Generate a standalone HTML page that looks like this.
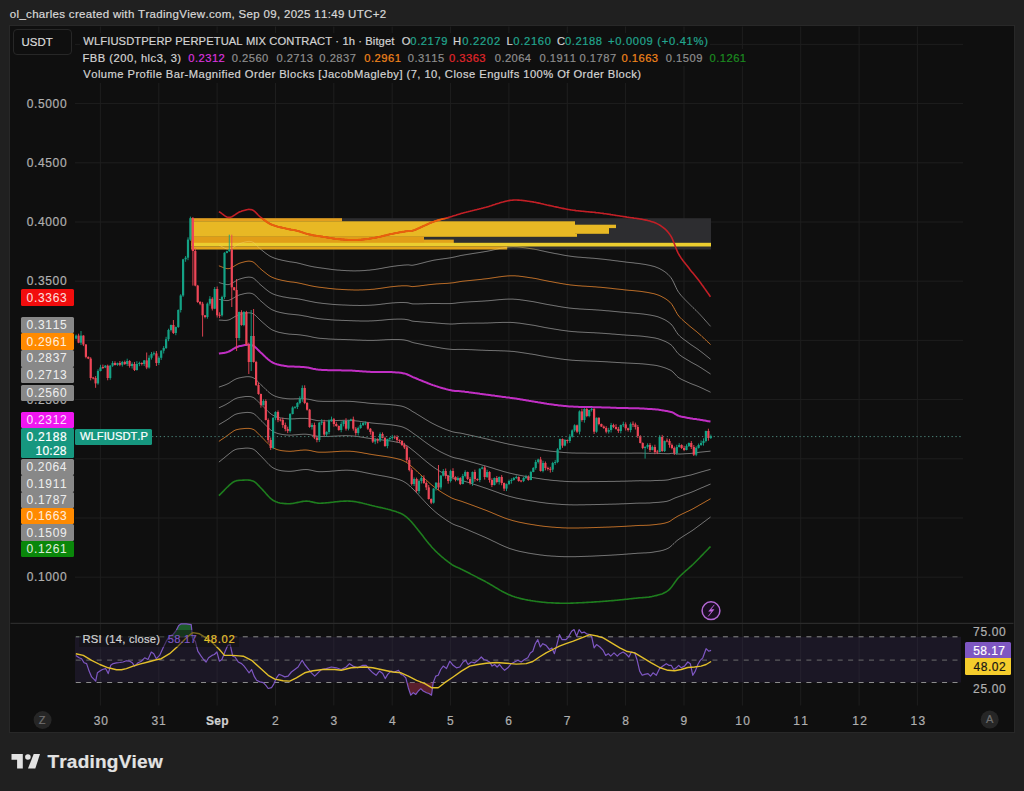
<!DOCTYPE html><html><head><meta charset="utf-8"><style>
*{margin:0;padding:0;box-sizing:border-box}
html,body{width:1024px;height:791px;overflow:hidden;background:#202020;font-family:"Liberation Sans",sans-serif;font-kerning:none}
.t{position:absolute;white-space:pre;-webkit-text-stroke:0.2px currentColor}
.bx{position:absolute}
</style></head><body>
<div class="bx" style="left:9.0px;top:24.8px;width:1006px;height:708.6px;background:#0f0f0f;border:1px solid #282828"></div>

<div class="t" style="left:9.82px;top:9.17px;font-size:11.5px;line-height:11.5px;letter-spacing:0.311px;color:#d8d8d8;">ol_charles created with TradingView.com, Sep 09, 2025 11:49 UTC+2</div>
<svg style="position:absolute;left:0;top:0" width="1024" height="791" viewBox="0 0 1024 791">
<defs><clipPath id="ylw"><rect x="191.3" y="218.2" width="384" height="31.3"/></clipPath></defs>
<line x1="100.4" y1="26.5" x2="100.4" y2="705.5" stroke="#1e1e1e" stroke-width="1"/>
<line x1="158.8" y1="26.5" x2="158.8" y2="705.5" stroke="#1e1e1e" stroke-width="1"/>
<line x1="217.1" y1="26.5" x2="217.1" y2="705.5" stroke="#1e1e1e" stroke-width="1"/>
<line x1="275.5" y1="26.5" x2="275.5" y2="705.5" stroke="#1e1e1e" stroke-width="1"/>
<line x1="333.8" y1="26.5" x2="333.8" y2="705.5" stroke="#1e1e1e" stroke-width="1"/>
<line x1="392.2" y1="26.5" x2="392.2" y2="705.5" stroke="#1e1e1e" stroke-width="1"/>
<line x1="450.6" y1="26.5" x2="450.6" y2="705.5" stroke="#1e1e1e" stroke-width="1"/>
<line x1="508.9" y1="26.5" x2="508.9" y2="705.5" stroke="#1e1e1e" stroke-width="1"/>
<line x1="567.3" y1="26.5" x2="567.3" y2="705.5" stroke="#1e1e1e" stroke-width="1"/>
<line x1="625.6" y1="26.5" x2="625.6" y2="705.5" stroke="#1e1e1e" stroke-width="1"/>
<line x1="684.0" y1="26.5" x2="684.0" y2="705.5" stroke="#1e1e1e" stroke-width="1"/>
<line x1="742.4" y1="26.5" x2="742.4" y2="705.5" stroke="#1e1e1e" stroke-width="1"/>
<line x1="800.7" y1="26.5" x2="800.7" y2="705.5" stroke="#1e1e1e" stroke-width="1"/>
<line x1="859.1" y1="26.5" x2="859.1" y2="705.5" stroke="#1e1e1e" stroke-width="1"/>
<line x1="917.4" y1="26.5" x2="917.4" y2="705.5" stroke="#1e1e1e" stroke-width="1"/>
<line x1="75" y1="44.4" x2="963" y2="44.4" stroke="#1e1e1e" stroke-width="1"/>
<line x1="75" y1="103.6" x2="963" y2="103.6" stroke="#1e1e1e" stroke-width="1"/>
<line x1="75" y1="162.8" x2="963" y2="162.8" stroke="#1e1e1e" stroke-width="1"/>
<line x1="75" y1="222.0" x2="963" y2="222.0" stroke="#1e1e1e" stroke-width="1"/>
<line x1="75" y1="281.2" x2="963" y2="281.2" stroke="#1e1e1e" stroke-width="1"/>
<line x1="75" y1="340.4" x2="963" y2="340.4" stroke="#1e1e1e" stroke-width="1"/>
<line x1="75" y1="399.6" x2="963" y2="399.6" stroke="#1e1e1e" stroke-width="1"/>
<line x1="75" y1="458.8" x2="963" y2="458.8" stroke="#1e1e1e" stroke-width="1"/>
<line x1="75" y1="518.0" x2="963" y2="518.0" stroke="#1e1e1e" stroke-width="1"/>
<line x1="75" y1="577.2" x2="963" y2="577.2" stroke="#1e1e1e" stroke-width="1"/>
<rect x="80" y="33" width="630" height="16" fill="#0f0f0f"/>
<rect x="80" y="49" width="667" height="17" fill="#0f0f0f"/>
<rect x="80" y="66" width="564" height="17" fill="#0f0f0f"/>
<line x1="10.5" y1="623.4" x2="1013.5" y2="623.4" stroke="#2b2b2b" stroke-width="1.2"/>
<rect x="75" y="636.8" width="886" height="45.7" fill="#1b1725"/>
<line x1="100.4" y1="637" x2="100.4" y2="682.3" stroke="#25222e" stroke-width="1"/><line x1="158.8" y1="637" x2="158.8" y2="682.3" stroke="#25222e" stroke-width="1"/><line x1="217.1" y1="637" x2="217.1" y2="682.3" stroke="#25222e" stroke-width="1"/><line x1="275.5" y1="637" x2="275.5" y2="682.3" stroke="#25222e" stroke-width="1"/><line x1="333.8" y1="637" x2="333.8" y2="682.3" stroke="#25222e" stroke-width="1"/><line x1="392.2" y1="637" x2="392.2" y2="682.3" stroke="#25222e" stroke-width="1"/><line x1="450.6" y1="637" x2="450.6" y2="682.3" stroke="#25222e" stroke-width="1"/><line x1="508.9" y1="637" x2="508.9" y2="682.3" stroke="#25222e" stroke-width="1"/><line x1="567.3" y1="637" x2="567.3" y2="682.3" stroke="#25222e" stroke-width="1"/><line x1="625.6" y1="637" x2="625.6" y2="682.3" stroke="#25222e" stroke-width="1"/><line x1="684.0" y1="637" x2="684.0" y2="682.3" stroke="#25222e" stroke-width="1"/><line x1="742.4" y1="637" x2="742.4" y2="682.3" stroke="#25222e" stroke-width="1"/><line x1="800.7" y1="637" x2="800.7" y2="682.3" stroke="#25222e" stroke-width="1"/><line x1="859.1" y1="637" x2="859.1" y2="682.3" stroke="#25222e" stroke-width="1"/><line x1="917.4" y1="637" x2="917.4" y2="682.3" stroke="#25222e" stroke-width="1"/>
<line x1="75.8" y1="636.8" x2="961" y2="636.8" stroke="#8c8c8c" stroke-width="1" stroke-dasharray="5 5.437"/>
<line x1="75.8" y1="660.1" x2="961" y2="660.1" stroke="#6c6c6c" stroke-width="1" stroke-dasharray="5 5.437"/>
<line x1="75.8" y1="682.5" x2="961" y2="682.5" stroke="#8c8c8c" stroke-width="1" stroke-dasharray="5 5.437"/>
<defs><clipPath id="ob"><rect x="70" y="600" width="130" height="36.8"/></clipPath><clipPath id="os"><rect x="400" y="682.5" width="40" height="30"/></clipPath></defs>
<polygon points="75.8,655.4 79.1,657.8 81.6,658.7 84.1,662.8 86.6,663.6 89.1,671.1 91.6,676.9 94.1,679.4 95.7,681.1 97.4,672.8 99.9,671.1 102.4,669.5 105.7,668.6 108.2,673.6 110.7,665.3 113.2,663.6 116.5,662.8 119.8,662.5 123.1,662.0 126.4,660.8 129.8,661.2 132.3,662.8 134.7,666.1 138.1,662.8 141.4,661.2 144.7,657.8 148.0,659.5 151.3,652.0 153.8,653.7 156.3,658.7 159.6,655.4 163.0,647.9 166.3,641.2 169.6,636.3 172.9,634.6 176.2,630.5 178.7,625.5 181.2,623.8 186.2,623.8 191.2,624.6 192.8,639.6 195.3,641.2 197.8,651.2 201.1,656.2 203.6,659.5 206.1,662.0 208.6,657.8 211.9,655.4 214.4,654.5 216.9,652.0 219.4,661.2 221.9,659.5 225.2,651.2 227.7,645.4 230.2,644.6 232.7,656.2 235.0,657.0 238.3,662.0 241.6,663.6 244.1,666.1 246.6,669.5 249.1,672.8 251.6,669.5 254.1,676.1 256.6,680.3 259.9,681.9 263.2,682.7 265.7,685.2 268.2,688.5 271.5,687.7 274.0,683.6 276.5,677.8 279.0,674.4 281.5,675.3 284.8,676.9 288.1,676.1 291.4,672.0 294.8,669.5 298.1,667.0 300.6,662.8 302.2,660.3 304.7,664.5 308.0,668.6 311.4,672.8 314.7,676.1 318.0,672.8 321.3,669.5 326.3,668.6 331.3,667.0 336.3,667.8 341.2,669.5 346.2,667.0 349.5,663.7 352.9,666.1 357.8,667.8 362.8,665.3 366.1,665.3 369.5,669.5 372.8,672.8 376.1,675.3 379.4,671.1 382.7,673.6 385.2,678.6 387.7,674.4 391.0,671.1 394.4,672.0 398.5,670.3 401.0,674.4 403.3,675.3 405.8,677.8 408.3,687.7 410.8,695.2 413.3,692.7 415.8,694.4 418.3,691.0 420.8,688.6 423.2,691.0 426.6,692.7 429.0,693.5 431.5,695.2 433.2,682.7 435.7,676.1 438.2,675.3 440.7,669.5 443.2,666.1 446.5,668.6 449.8,661.2 453.1,665.3 456.4,667.8 459.8,667.0 463.1,662.0 465.6,660.3 468.1,664.5 471.4,662.0 474.7,662.8 478.0,660.3 481.3,657.0 483.8,659.5 486.3,660.3 489.6,662.0 492.1,666.1 494.6,664.5 497.1,667.0 499.6,664.5 502.1,667.8 504.6,670.3 507.9,667.8 511.2,663.7 514.5,662.0 517.9,660.3 521.2,662.0 524.5,659.5 527.8,657.8 530.3,652.9 532.8,651.2 535.3,643.7 537.8,639.6 540.3,647.0 542.8,643.7 546.1,645.4 549.4,649.5 551.9,647.9 554.4,653.7 556.9,644.6 559.4,634.6 561.9,639.6 566.0,639.6 568.3,637.1 571.6,631.3 574.1,629.6 576.6,636.3 579.1,629.6 581.6,632.9 584.1,632.1 586.6,633.8 589.9,634.6 591.6,636.3 594.1,647.9 596.5,644.6 599.9,647.0 603.2,650.4 605.7,655.4 608.2,653.7 610.7,656.2 614.0,652.9 617.3,656.2 619.8,653.7 623.1,652.0 625.6,653.7 628.9,657.0 631.4,652.0 634.7,652.9 637.2,660.3 639.7,671.1 642.2,675.3 644.7,674.4 648.0,673.6 650.5,676.1 653.0,672.8 656.3,675.3 659.6,668.6 662.9,666.1 666.3,663.7 668.8,665.3 671.2,665.3 673.7,669.5 676.2,667.8 678.7,665.3 681.2,667.8 684.5,666.1 687.8,662.0 690.3,663.7 692.8,675.3 695.3,671.1 697.8,664.5 700.3,660.3 702.8,657.8 706.1,648.7 708.6,651.2 711.1,650.4 711.1,636.8 75.8,636.8" fill="#1d5a2b" clip-path="url(#ob)"/>
<polygon points="75.8,655.4 79.1,657.8 81.6,658.7 84.1,662.8 86.6,663.6 89.1,671.1 91.6,676.9 94.1,679.4 95.7,681.1 97.4,672.8 99.9,671.1 102.4,669.5 105.7,668.6 108.2,673.6 110.7,665.3 113.2,663.6 116.5,662.8 119.8,662.5 123.1,662.0 126.4,660.8 129.8,661.2 132.3,662.8 134.7,666.1 138.1,662.8 141.4,661.2 144.7,657.8 148.0,659.5 151.3,652.0 153.8,653.7 156.3,658.7 159.6,655.4 163.0,647.9 166.3,641.2 169.6,636.3 172.9,634.6 176.2,630.5 178.7,625.5 181.2,623.8 186.2,623.8 191.2,624.6 192.8,639.6 195.3,641.2 197.8,651.2 201.1,656.2 203.6,659.5 206.1,662.0 208.6,657.8 211.9,655.4 214.4,654.5 216.9,652.0 219.4,661.2 221.9,659.5 225.2,651.2 227.7,645.4 230.2,644.6 232.7,656.2 235.0,657.0 238.3,662.0 241.6,663.6 244.1,666.1 246.6,669.5 249.1,672.8 251.6,669.5 254.1,676.1 256.6,680.3 259.9,681.9 263.2,682.7 265.7,685.2 268.2,688.5 271.5,687.7 274.0,683.6 276.5,677.8 279.0,674.4 281.5,675.3 284.8,676.9 288.1,676.1 291.4,672.0 294.8,669.5 298.1,667.0 300.6,662.8 302.2,660.3 304.7,664.5 308.0,668.6 311.4,672.8 314.7,676.1 318.0,672.8 321.3,669.5 326.3,668.6 331.3,667.0 336.3,667.8 341.2,669.5 346.2,667.0 349.5,663.7 352.9,666.1 357.8,667.8 362.8,665.3 366.1,665.3 369.5,669.5 372.8,672.8 376.1,675.3 379.4,671.1 382.7,673.6 385.2,678.6 387.7,674.4 391.0,671.1 394.4,672.0 398.5,670.3 401.0,674.4 403.3,675.3 405.8,677.8 408.3,687.7 410.8,695.2 413.3,692.7 415.8,694.4 418.3,691.0 420.8,688.6 423.2,691.0 426.6,692.7 429.0,693.5 431.5,695.2 433.2,682.7 435.7,676.1 438.2,675.3 440.7,669.5 443.2,666.1 446.5,668.6 449.8,661.2 453.1,665.3 456.4,667.8 459.8,667.0 463.1,662.0 465.6,660.3 468.1,664.5 471.4,662.0 474.7,662.8 478.0,660.3 481.3,657.0 483.8,659.5 486.3,660.3 489.6,662.0 492.1,666.1 494.6,664.5 497.1,667.0 499.6,664.5 502.1,667.8 504.6,670.3 507.9,667.8 511.2,663.7 514.5,662.0 517.9,660.3 521.2,662.0 524.5,659.5 527.8,657.8 530.3,652.9 532.8,651.2 535.3,643.7 537.8,639.6 540.3,647.0 542.8,643.7 546.1,645.4 549.4,649.5 551.9,647.9 554.4,653.7 556.9,644.6 559.4,634.6 561.9,639.6 566.0,639.6 568.3,637.1 571.6,631.3 574.1,629.6 576.6,636.3 579.1,629.6 581.6,632.9 584.1,632.1 586.6,633.8 589.9,634.6 591.6,636.3 594.1,647.9 596.5,644.6 599.9,647.0 603.2,650.4 605.7,655.4 608.2,653.7 610.7,656.2 614.0,652.9 617.3,656.2 619.8,653.7 623.1,652.0 625.6,653.7 628.9,657.0 631.4,652.0 634.7,652.9 637.2,660.3 639.7,671.1 642.2,675.3 644.7,674.4 648.0,673.6 650.5,676.1 653.0,672.8 656.3,675.3 659.6,668.6 662.9,666.1 666.3,663.7 668.8,665.3 671.2,665.3 673.7,669.5 676.2,667.8 678.7,665.3 681.2,667.8 684.5,666.1 687.8,662.0 690.3,663.7 692.8,675.3 695.3,671.1 697.8,664.5 700.3,660.3 702.8,657.8 706.1,648.7 708.6,651.2 711.1,650.4 711.1,682.5 75.8,682.5" fill="#5a1f2c" clip-path="url(#os)"/>
<polyline points="75.8,655.4 79.1,657.8 81.6,658.7 84.1,662.8 86.6,663.6 89.1,671.1 91.6,676.9 94.1,679.4 95.7,681.1 97.4,672.8 99.9,671.1 102.4,669.5 105.7,668.6 108.2,673.6 110.7,665.3 113.2,663.6 116.5,662.8 119.8,662.5 123.1,662.0 126.4,660.8 129.8,661.2 132.3,662.8 134.7,666.1 138.1,662.8 141.4,661.2 144.7,657.8 148.0,659.5 151.3,652.0 153.8,653.7 156.3,658.7 159.6,655.4 163.0,647.9 166.3,641.2 169.6,636.3 172.9,634.6 176.2,630.5 178.7,625.5 181.2,623.8 186.2,623.8 191.2,624.6 192.8,639.6 195.3,641.2 197.8,651.2 201.1,656.2 203.6,659.5 206.1,662.0 208.6,657.8 211.9,655.4 214.4,654.5 216.9,652.0 219.4,661.2 221.9,659.5 225.2,651.2 227.7,645.4 230.2,644.6 232.7,656.2 235.0,657.0 238.3,662.0 241.6,663.6 244.1,666.1 246.6,669.5 249.1,672.8 251.6,669.5 254.1,676.1 256.6,680.3 259.9,681.9 263.2,682.7 265.7,685.2 268.2,688.5 271.5,687.7 274.0,683.6 276.5,677.8 279.0,674.4 281.5,675.3 284.8,676.9 288.1,676.1 291.4,672.0 294.8,669.5 298.1,667.0 300.6,662.8 302.2,660.3 304.7,664.5 308.0,668.6 311.4,672.8 314.7,676.1 318.0,672.8 321.3,669.5 326.3,668.6 331.3,667.0 336.3,667.8 341.2,669.5 346.2,667.0 349.5,663.7 352.9,666.1 357.8,667.8 362.8,665.3 366.1,665.3 369.5,669.5 372.8,672.8 376.1,675.3 379.4,671.1 382.7,673.6 385.2,678.6 387.7,674.4 391.0,671.1 394.4,672.0 398.5,670.3 401.0,674.4 403.3,675.3 405.8,677.8 408.3,687.7 410.8,695.2 413.3,692.7 415.8,694.4 418.3,691.0 420.8,688.6 423.2,691.0 426.6,692.7 429.0,693.5 431.5,695.2 433.2,682.7 435.7,676.1 438.2,675.3 440.7,669.5 443.2,666.1 446.5,668.6 449.8,661.2 453.1,665.3 456.4,667.8 459.8,667.0 463.1,662.0 465.6,660.3 468.1,664.5 471.4,662.0 474.7,662.8 478.0,660.3 481.3,657.0 483.8,659.5 486.3,660.3 489.6,662.0 492.1,666.1 494.6,664.5 497.1,667.0 499.6,664.5 502.1,667.8 504.6,670.3 507.9,667.8 511.2,663.7 514.5,662.0 517.9,660.3 521.2,662.0 524.5,659.5 527.8,657.8 530.3,652.9 532.8,651.2 535.3,643.7 537.8,639.6 540.3,647.0 542.8,643.7 546.1,645.4 549.4,649.5 551.9,647.9 554.4,653.7 556.9,644.6 559.4,634.6 561.9,639.6 566.0,639.6 568.3,637.1 571.6,631.3 574.1,629.6 576.6,636.3 579.1,629.6 581.6,632.9 584.1,632.1 586.6,633.8 589.9,634.6 591.6,636.3 594.1,647.9 596.5,644.6 599.9,647.0 603.2,650.4 605.7,655.4 608.2,653.7 610.7,656.2 614.0,652.9 617.3,656.2 619.8,653.7 623.1,652.0 625.6,653.7 628.9,657.0 631.4,652.0 634.7,652.9 637.2,660.3 639.7,671.1 642.2,675.3 644.7,674.4 648.0,673.6 650.5,676.1 653.0,672.8 656.3,675.3 659.6,668.6 662.9,666.1 666.3,663.7 668.8,665.3 671.2,665.3 673.7,669.5 676.2,667.8 678.7,665.3 681.2,667.8 684.5,666.1 687.8,662.0 690.3,663.7 692.8,675.3 695.3,671.1 697.8,664.5 700.3,660.3 702.8,657.8 706.1,648.7 708.6,651.2 711.1,650.4" fill="none" stroke="#7e57c2" stroke-width="1.2" stroke-linejoin="round"/>
<polyline points="75.8,653.7 83.3,655.4 91.6,660.3 99.9,664.5 108.2,667.8 116.5,669.8 121.5,669.8 126.4,668.6 133.1,666.1 139.7,664.1 148.0,662.0 156.3,659.8 161.3,658.7 169.6,653.7 177.9,646.2 186.2,637.9 192.8,632.6 199.5,633.8 206.1,637.9 212.8,642.9 219.4,649.5 224.4,655.4 232.7,655.4 239.3,655.9 243.3,656.2 251.6,660.3 259.9,667.8 268.2,675.3 274.8,679.1 283.1,680.7 289.8,681.1 296.4,677.8 304.7,672.8 313.0,670.8 323.0,669.5 334.6,669.5 341.2,670.3 351.2,667.8 364.5,667.0 372.8,667.8 384.4,670.3 392.7,672.0 401.0,672.8 408.3,676.1 416.6,680.3 424.9,683.6 431.5,687.7 438.2,687.7 444.8,682.7 453.1,677.0 461.4,671.1 469.7,666.1 478.0,664.5 486.3,663.2 496.3,662.5 506.2,663.2 516.2,664.1 526.2,663.6 532.8,661.5 539.4,657.0 546.1,652.9 552.7,649.5 559.4,646.2 566.0,643.7 573.3,641.2 581.6,637.9 589.9,634.6 598.2,636.3 603.2,637.9 611.5,642.9 619.8,647.9 626.4,651.2 634.7,652.9 643.0,657.8 651.3,662.8 659.6,667.5 667.9,670.3 674.6,670.8 681.2,669.5 687.8,667.5 694.5,667.0 701.1,666.1 706.1,664.5 711.1,661.5" fill="none" stroke="#e2bf2a" stroke-width="1.4" stroke-linejoin="round"/>
<rect x="79" y="630" width="160" height="17" fill="#0f0f0f" opacity="0.5"/>
<polyline points="218.9,245.1 219.9,245.5 220.9,246.1 221.9,246.6 222.9,247.2 223.9,247.7 224.9,248.2 225.9,248.6 226.9,248.9 227.9,249.0 228.9,249.0 229.9,248.9 230.9,248.5 231.9,248.1 232.9,247.5 233.9,246.9 234.9,246.3 235.9,245.7 236.9,245.0 237.9,244.5 238.9,243.9 239.9,243.5 240.9,243.2 241.9,242.9 242.9,242.6 243.9,242.3 244.9,242.0 245.9,241.8 246.9,241.6 247.9,241.4 248.9,241.4 249.9,241.4 250.9,241.5 251.9,241.8 252.9,242.2 253.9,242.8 254.9,243.6 255.9,244.5 256.9,245.5 257.9,246.6 258.9,247.6 259.9,248.6 260.9,249.4 261.9,250.2 262.9,251.0 263.9,251.8 264.9,252.6 265.9,253.4 266.9,254.1 267.9,254.8 268.9,255.5 269.9,256.1 270.9,256.6 271.9,257.1 272.9,257.5 273.9,257.9 274.9,258.3 275.9,258.6 276.9,258.9 277.9,259.2 278.9,259.5 279.9,259.7 280.9,259.9 281.9,260.2 282.9,260.4 283.9,260.6 284.9,260.8 285.9,261.0 286.9,261.2 287.9,261.4 288.9,261.6 289.9,261.8 290.9,261.9 291.9,262.0 292.9,262.2 293.9,262.3 294.9,262.5 295.9,262.6 296.9,262.8 297.9,263.1 298.9,263.3 299.9,263.5 300.9,263.8 301.9,264.1 302.9,264.3 303.9,264.6 304.9,264.9 305.9,265.1 306.9,265.4 307.9,265.6 308.9,265.9 309.9,266.1 310.9,266.3 311.9,266.5 312.9,266.7 313.9,266.9 314.9,267.1 315.9,267.2 316.9,267.4 317.9,267.5 318.9,267.7 319.9,267.8 320.9,267.9 321.9,268.1 322.9,268.2 323.9,268.3 324.9,268.5 325.9,268.6 326.9,268.8 327.9,268.9 328.9,269.0 329.9,269.2 330.9,269.3 331.9,269.5 332.9,269.6 333.9,269.7 334.9,269.8 335.9,269.9 336.9,270.0 337.9,270.1 338.9,270.1 339.9,270.2 340.9,270.3 341.9,270.4 342.9,270.4 343.9,270.5 344.9,270.5 345.9,270.6 346.9,270.7 347.9,270.7 348.9,270.7 349.9,270.8 350.9,270.8 351.9,270.8 352.9,270.9 353.9,270.9 354.9,270.9 355.9,270.9 356.9,270.8 357.9,270.8 358.9,270.8 359.9,270.8 360.9,270.7 361.9,270.7 362.9,270.6 363.9,270.6 364.9,270.5 365.9,270.4 366.9,270.3 367.9,270.2 368.9,270.2 369.9,270.1 370.9,269.9 371.9,269.8 372.9,269.7 373.9,269.6 374.9,269.5 375.9,269.3 376.9,269.1 377.9,269.0 378.9,268.8 379.9,268.6 380.9,268.5 381.9,268.3 382.9,268.1 383.9,267.9 384.9,267.7 385.9,267.5 386.9,267.4 387.9,267.2 388.9,267.0 389.9,266.8 390.9,266.7 391.9,266.5 392.9,266.4 393.9,266.2 394.9,266.1 395.9,266.0 396.9,265.8 397.9,265.7 398.9,265.6 399.9,265.5 400.9,265.4 401.9,265.3 402.9,265.2 403.9,265.1 404.9,265.0 405.9,265.0 406.9,264.9 407.9,264.9 408.9,264.9 409.9,265.1 410.9,265.2 411.9,265.3 412.9,265.2 413.9,265.0 414.9,264.8 415.9,264.6 416.9,264.4 417.9,264.1 418.9,263.9 419.9,263.6 420.9,263.4 421.9,263.1 422.9,262.9 423.9,262.6 424.9,262.3 425.9,262.1 426.9,261.8 427.9,261.6 428.9,261.3 429.9,261.1 430.9,260.9 431.9,260.6 432.9,260.4 433.9,260.2 434.9,260.0 435.9,259.9 436.9,259.7 437.9,259.6 438.9,259.4 439.9,259.3 440.9,259.1 441.9,259.0 442.9,258.9 443.9,258.7 444.9,258.6 445.9,258.5 446.9,258.3 447.9,258.2 448.9,258.0 449.9,257.9 450.9,257.7 451.9,257.5 452.9,257.3 453.9,257.1 454.9,256.9 455.9,256.7 456.9,256.4 457.9,256.2 458.9,256.0 459.9,255.7 460.9,255.5 461.9,255.3 462.9,255.2 463.9,255.0 464.9,254.8 465.9,254.7 466.9,254.5 467.9,254.3 468.9,254.2 469.9,254.0 470.9,253.9 471.9,253.7 472.9,253.5 473.9,253.4 474.9,253.2 475.9,253.1 476.9,252.9 477.9,252.8 478.9,252.6 479.9,252.5 480.9,252.3 481.9,252.1 482.9,252.0 483.9,251.8 484.9,251.6 485.9,251.5 486.9,251.3 487.9,251.1 488.9,250.9 489.9,250.7 490.9,250.5 491.9,250.3 492.9,250.0 493.9,249.8 494.9,249.6 495.9,249.4 496.9,249.2 497.9,249.0 498.9,248.7 499.9,248.5 500.9,248.3 501.9,248.1 502.9,248.0 503.9,247.8 504.9,247.6 505.9,247.5 506.9,247.3 507.9,247.2 508.9,247.1 509.9,247.0 510.9,246.9 511.9,246.9 512.9,246.8 513.9,246.8 514.9,246.9 515.9,246.9 516.9,246.9 517.9,247.0 518.9,247.1 519.9,247.2 520.9,247.3 521.9,247.4 522.9,247.5 523.9,247.7 524.9,247.8 525.9,247.9 526.9,248.1 527.9,248.2 528.9,248.4 529.9,248.5 530.9,248.7 531.9,248.8 532.9,249.0 533.9,249.1 534.9,249.3 535.9,249.5 536.9,249.7 537.9,249.9 538.9,250.1 539.9,250.4 540.9,250.6 541.9,250.8 542.9,251.0 543.9,251.2 544.9,251.5 545.9,251.7 546.9,251.9 547.9,252.1 548.9,252.3 549.9,252.5 550.9,252.7 551.9,252.9 552.9,253.1 553.9,253.3 554.9,253.5 555.9,253.7 556.9,253.8 557.9,254.0 558.9,254.2 559.9,254.4 560.9,254.6 561.9,254.8 562.9,255.0 563.9,255.2 564.9,255.4 565.9,255.5 566.9,255.7 567.9,255.8 568.9,256.0 569.9,256.1 570.9,256.3 571.9,256.4 572.9,256.5 573.9,256.7 574.9,256.8 575.9,256.9 576.9,257.0 577.9,257.1 578.9,257.2 579.9,257.2 580.9,257.3 581.9,257.4 582.9,257.5 583.9,257.6 584.9,257.6 585.9,257.7 586.9,257.8 587.9,257.9 588.9,257.9 589.9,258.0 590.9,258.1 591.9,258.2 592.9,258.2 593.9,258.3 594.9,258.4 595.9,258.5 596.9,258.6 597.9,258.7 598.9,258.8 599.9,258.9 600.9,259.0 601.9,259.1 602.9,259.2 603.9,259.3 604.9,259.4 605.9,259.5 606.9,259.7 607.9,259.8 608.9,259.9 609.9,260.0 610.9,260.1 611.9,260.3 612.9,260.4 613.9,260.5 614.9,260.7 615.9,260.8 616.9,260.9 617.9,261.0 618.9,261.2 619.9,261.3 620.9,261.4 621.9,261.5 622.9,261.7 623.9,261.8 624.9,261.9 625.9,262.1 626.9,262.2 627.9,262.3 628.9,262.4 629.9,262.5 630.9,262.6 631.9,262.7 632.9,262.8 633.9,262.9 634.9,263.1 635.9,263.2 636.9,263.3 637.9,263.4 638.9,263.5 639.9,263.7 640.9,263.8 641.9,264.0 642.9,264.1 643.9,264.3 644.9,264.4 645.9,264.6 646.9,264.8 647.9,265.0 648.9,265.2 649.9,265.4 650.9,265.7 651.9,265.9 652.9,266.2 653.9,266.4 654.9,266.7 655.9,267.1 656.9,267.5 657.9,267.9 658.9,268.3 659.9,268.8 660.9,269.4 661.9,269.9 662.9,270.5 663.9,271.2 664.9,271.8 665.9,272.6 666.9,273.4 667.9,274.3 668.9,275.3 669.9,276.4 670.9,277.6 671.9,279.1 672.9,280.9 673.9,282.9 674.9,285.1 675.9,287.2 676.9,289.3 677.9,291.1 678.9,292.6 679.9,293.9 680.9,295.2 681.9,296.3 682.9,297.4 683.9,298.4 684.9,299.5 685.9,300.5 686.9,301.5 687.9,302.5 688.9,303.5 689.9,304.5 690.9,305.5 691.9,306.5 692.9,307.5 693.9,308.4 694.9,309.4 695.9,310.3 696.9,311.3 697.9,312.3 698.9,313.4 699.9,314.4 700.9,315.5 701.9,316.6 702.9,317.7 703.9,318.8 704.9,320.0 705.9,321.1 706.9,322.2 707.9,323.3 708.9,324.5 709.9,325.6 710.5,326.3" fill="none" stroke="#7d7d7d" stroke-width="1.0" stroke-linejoin="round"/>
<polyline points="218.9,265.8 219.9,266.2 220.9,266.5 221.9,267.0 222.9,267.4 223.9,267.8 224.9,268.1 225.9,268.4 226.9,268.6 227.9,268.7 228.9,268.6 229.9,268.4 230.9,268.0 231.9,267.5 232.9,267.0 233.9,266.4 234.9,265.7 235.9,265.1 236.9,264.5 237.9,264.0 238.9,263.5 239.9,263.1 240.9,262.8 241.9,262.5 242.9,262.2 243.9,262.0 244.9,261.7 245.9,261.5 246.9,261.3 247.9,261.2 248.9,261.1 249.9,261.2 250.9,261.3 251.9,261.5 252.9,261.9 253.9,262.5 254.9,263.3 255.9,264.2 256.9,265.2 257.9,266.3 258.9,267.3 259.9,268.3 260.9,269.1 261.9,270.0 262.9,270.8 263.9,271.6 264.9,272.4 265.9,273.2 266.9,274.0 267.9,274.8 268.9,275.5 269.9,276.1 270.9,276.7 271.9,277.2 272.9,277.6 273.9,278.0 274.9,278.4 275.9,278.7 276.9,279.1 277.9,279.3 278.9,279.6 279.9,279.8 280.9,280.1 281.9,280.3 282.9,280.5 283.9,280.7 284.9,280.9 285.9,281.1 286.9,281.3 287.9,281.5 288.9,281.6 289.9,281.8 290.9,281.9 291.9,282.0 292.9,282.1 293.9,282.2 294.9,282.4 295.9,282.5 296.9,282.7 297.9,282.9 298.9,283.1 299.9,283.3 300.9,283.5 301.9,283.7 302.9,284.0 303.9,284.2 304.9,284.4 305.9,284.7 306.9,284.9 307.9,285.1 308.9,285.4 309.9,285.6 310.9,285.8 311.9,286.0 312.9,286.2 313.9,286.4 314.9,286.6 315.9,286.7 316.9,286.9 317.9,287.0 318.9,287.2 319.9,287.3 320.9,287.4 321.9,287.5 322.9,287.6 323.9,287.8 324.9,287.9 325.9,288.0 326.9,288.1 327.9,288.3 328.9,288.4 329.9,288.5 330.9,288.6 331.9,288.7 332.9,288.8 333.9,288.9 334.9,289.0 335.9,289.1 336.9,289.2 337.9,289.2 338.9,289.3 339.9,289.3 340.9,289.4 341.9,289.5 342.9,289.5 343.9,289.6 344.9,289.6 345.9,289.7 346.9,289.7 347.9,289.8 348.9,289.8 349.9,289.8 350.9,289.9 351.9,289.9 352.9,289.9 353.9,290.0 354.9,290.0 355.9,290.0 356.9,290.0 357.9,290.0 358.9,290.0 359.9,289.9 360.9,289.9 361.9,289.9 362.9,289.9 363.9,289.8 364.9,289.8 365.9,289.7 366.9,289.7 367.9,289.6 368.9,289.6 369.9,289.5 370.9,289.4 371.9,289.3 372.9,289.3 373.9,289.2 374.9,289.1 375.9,288.9 376.9,288.8 377.9,288.7 378.9,288.5 379.9,288.4 380.9,288.3 381.9,288.1 382.9,288.0 383.9,287.8 384.9,287.7 385.9,287.5 386.9,287.4 387.9,287.2 388.9,287.1 389.9,286.9 390.9,286.8 391.9,286.7 392.9,286.6 393.9,286.5 394.9,286.4 395.9,286.3 396.9,286.2 397.9,286.1 398.9,286.0 399.9,286.0 400.9,285.9 401.9,285.8 402.9,285.8 403.9,285.8 404.9,285.8 405.9,285.8 406.9,285.8 407.9,285.9 408.9,286.0 409.9,286.2 410.9,286.4 411.9,286.6 412.9,286.6 413.9,286.5 414.9,286.4 415.9,286.3 416.9,286.2 417.9,286.1 418.9,286.0 419.9,285.9 420.9,285.7 421.9,285.6 422.9,285.5 423.9,285.4 424.9,285.2 425.9,285.1 426.9,285.0 427.9,284.8 428.9,284.7 429.9,284.6 430.9,284.5 431.9,284.4 432.9,284.3 433.9,284.2 434.9,284.1 435.9,284.0 436.9,283.9 437.9,283.9 438.9,283.8 439.9,283.7 440.9,283.7 441.9,283.6 442.9,283.6 443.9,283.5 444.9,283.5 445.9,283.4 446.9,283.4 447.9,283.3 448.9,283.2 449.9,283.1 450.9,283.0 451.9,282.9 452.9,282.8 453.9,282.7 454.9,282.5 455.9,282.3 456.9,282.1 457.9,282.0 458.9,281.8 459.9,281.6 460.9,281.5 461.9,281.3 462.9,281.2 463.9,281.1 464.9,281.0 465.9,280.9 466.9,280.8 467.9,280.7 468.9,280.6 469.9,280.5 470.9,280.4 471.9,280.3 472.9,280.2 473.9,280.1 474.9,280.0 475.9,279.9 476.9,279.8 477.9,279.7 478.9,279.6 479.9,279.5 480.9,279.4 481.9,279.3 482.9,279.1 483.9,279.0 484.9,278.9 485.9,278.8 486.9,278.7 487.9,278.6 488.9,278.4 489.9,278.3 490.9,278.1 491.9,278.0 492.9,277.8 493.9,277.7 494.9,277.5 495.9,277.4 496.9,277.2 497.9,277.1 498.9,276.9 499.9,276.8 500.9,276.7 501.9,276.5 502.9,276.4 503.9,276.3 504.9,276.2 505.9,276.1 506.9,276.0 507.9,275.9 508.9,275.9 509.9,275.8 510.9,275.8 511.9,275.8 512.9,275.8 513.9,275.8 514.9,275.8 515.9,275.9 516.9,276.0 517.9,276.0 518.9,276.1 519.9,276.3 520.9,276.4 521.9,276.5 522.9,276.6 523.9,276.8 524.9,276.9 525.9,277.1 526.9,277.2 527.9,277.4 528.9,277.5 529.9,277.7 530.9,277.8 531.9,277.9 532.9,278.1 533.9,278.3 534.9,278.4 535.9,278.6 536.9,278.8 537.9,279.0 538.9,279.2 539.9,279.5 540.9,279.7 541.9,279.9 542.9,280.1 543.9,280.3 544.9,280.5 545.9,280.7 546.9,280.9 547.9,281.1 548.9,281.3 549.9,281.5 550.9,281.6 551.9,281.8 552.9,282.0 553.9,282.2 554.9,282.4 555.9,282.6 556.9,282.8 557.9,282.9 558.9,283.1 559.9,283.3 560.9,283.5 561.9,283.6 562.9,283.8 563.9,284.0 564.9,284.1 565.9,284.3 566.9,284.5 567.9,284.6 568.9,284.7 569.9,284.9 570.9,285.0 571.9,285.1 572.9,285.2 573.9,285.3 574.9,285.4 575.9,285.5 576.9,285.6 577.9,285.7 578.9,285.8 579.9,285.8 580.9,285.9 581.9,286.0 582.9,286.1 583.9,286.1 584.9,286.2 585.9,286.2 586.9,286.3 587.9,286.4 588.9,286.4 589.9,286.5 590.9,286.6 591.9,286.6 592.9,286.7 593.9,286.8 594.9,286.8 595.9,286.9 596.9,287.0 597.9,287.1 598.9,287.2 599.9,287.2 600.9,287.3 601.9,287.4 602.9,287.5 603.9,287.6 604.9,287.7 605.9,287.8 606.9,287.9 607.9,288.0 608.9,288.1 609.9,288.2 610.9,288.3 611.9,288.4 612.9,288.6 613.9,288.7 614.9,288.8 615.9,288.9 616.9,289.0 617.9,289.1 618.9,289.2 619.9,289.3 620.9,289.4 621.9,289.5 622.9,289.6 623.9,289.8 624.9,289.9 625.9,290.0 626.9,290.1 627.9,290.2 628.9,290.3 629.9,290.4 630.9,290.4 631.9,290.5 632.9,290.6 633.9,290.7 634.9,290.8 635.9,290.9 636.9,291.0 637.9,291.1 638.9,291.2 639.9,291.3 640.9,291.4 641.9,291.6 642.9,291.7 643.9,291.9 644.9,292.0 645.9,292.2 646.9,292.3 647.9,292.5 648.9,292.7 649.9,292.9 650.9,293.1 651.9,293.3 652.9,293.5 653.9,293.7 654.9,294.0 655.9,294.3 656.9,294.6 657.9,295.0 658.9,295.3 659.9,295.8 660.9,296.2 661.9,296.7 662.9,297.3 663.9,297.8 664.9,298.4 665.9,299.0 666.9,299.7 667.9,300.5 668.9,301.3 669.9,302.2 670.9,303.2 671.9,304.5 672.9,306.1 673.9,307.8 674.9,309.7 675.9,311.5 676.9,313.3 677.9,314.9 678.9,316.1 679.9,317.3 680.9,318.3 681.9,319.3 682.9,320.2 683.9,321.1 684.9,322.0 685.9,322.8 686.9,323.7 687.9,324.5 688.9,325.4 689.9,326.3 690.9,327.1 691.9,327.9 692.9,328.7 693.9,329.5 694.9,330.3 695.9,331.1 696.9,331.9 697.9,332.8 698.9,333.7 699.9,334.5 700.9,335.4 701.9,336.4 702.9,337.3 703.9,338.2 704.9,339.2 705.9,340.1 706.9,341.1 707.9,342.0 708.9,343.0 709.9,343.9 710.5,344.5" fill="none" stroke="#c7742a" stroke-width="1.0" stroke-linejoin="round"/>
<polyline points="218.9,282.6 219.9,282.8 220.9,283.1 221.9,283.4 222.9,283.7 223.9,284.0 224.9,284.3 225.9,284.5 226.9,284.6 227.9,284.6 228.9,284.5 229.9,284.2 230.9,283.8 231.9,283.3 232.9,282.7 233.9,282.1 234.9,281.5 235.9,280.9 236.9,280.3 237.9,279.8 238.9,279.3 239.9,279.0 240.9,278.7 241.9,278.4 242.9,278.1 243.9,277.9 244.9,277.6 245.9,277.4 246.9,277.3 247.9,277.2 248.9,277.1 249.9,277.2 250.9,277.3 251.9,277.5 252.9,277.9 253.9,278.5 254.9,279.3 255.9,280.2 256.9,281.2 257.9,282.2 258.9,283.3 259.9,284.2 260.9,285.1 261.9,285.9 262.9,286.8 263.9,287.6 264.9,288.5 265.9,289.3 266.9,290.1 267.9,290.9 268.9,291.6 269.9,292.3 270.9,292.9 271.9,293.4 272.9,293.9 273.9,294.3 274.9,294.7 275.9,295.0 276.9,295.3 277.9,295.6 278.9,295.9 279.9,296.1 280.9,296.3 281.9,296.6 282.9,296.8 283.9,297.0 284.9,297.1 285.9,297.3 286.9,297.5 287.9,297.7 288.9,297.8 289.9,298.0 290.9,298.1 291.9,298.2 292.9,298.3 293.9,298.4 294.9,298.5 295.9,298.6 296.9,298.7 297.9,298.9 298.9,299.0 299.9,299.2 300.9,299.4 301.9,299.6 302.9,299.8 303.9,300.0 304.9,300.2 305.9,300.5 306.9,300.7 307.9,300.9 308.9,301.1 309.9,301.3 310.9,301.5 311.9,301.7 312.9,301.9 313.9,302.1 314.9,302.3 315.9,302.5 316.9,302.6 317.9,302.8 318.9,302.9 319.9,303.0 320.9,303.1 321.9,303.3 322.9,303.4 323.9,303.5 324.9,303.6 325.9,303.7 326.9,303.8 327.9,303.9 328.9,304.0 329.9,304.1 330.9,304.2 331.9,304.3 332.9,304.4 333.9,304.5 334.9,304.5 335.9,304.6 336.9,304.7 337.9,304.7 338.9,304.8 339.9,304.8 340.9,304.9 341.9,304.9 342.9,305.0 343.9,305.0 344.9,305.0 345.9,305.1 346.9,305.1 347.9,305.2 348.9,305.2 349.9,305.3 350.9,305.3 351.9,305.3 352.9,305.4 353.9,305.4 354.9,305.4 355.9,305.4 356.9,305.4 357.9,305.4 358.9,305.5 359.9,305.5 360.9,305.5 361.9,305.4 362.9,305.4 363.9,305.4 364.9,305.4 365.9,305.4 366.9,305.3 367.9,305.3 368.9,305.3 369.9,305.2 370.9,305.2 371.9,305.1 372.9,305.0 373.9,305.0 374.9,304.9 375.9,304.8 376.9,304.7 377.9,304.6 378.9,304.5 379.9,304.4 380.9,304.3 381.9,304.1 382.9,304.0 383.9,303.9 384.9,303.8 385.9,303.6 386.9,303.5 387.9,303.4 388.9,303.3 389.9,303.2 390.9,303.1 391.9,303.0 392.9,302.9 393.9,302.9 394.9,302.8 395.9,302.7 396.9,302.7 397.9,302.6 398.9,302.6 399.9,302.5 400.9,302.5 401.9,302.5 402.9,302.5 403.9,302.5 404.9,302.6 405.9,302.6 406.9,302.7 407.9,302.8 408.9,303.0 409.9,303.3 410.9,303.5 411.9,303.8 412.9,303.9 413.9,303.9 414.9,303.9 415.9,303.9 416.9,303.9 417.9,303.9 418.9,303.9 419.9,303.8 420.9,303.8 421.9,303.8 422.9,303.8 423.9,303.7 424.9,303.7 425.9,303.7 426.9,303.6 427.9,303.6 428.9,303.6 429.9,303.6 430.9,303.5 431.9,303.5 432.9,303.5 433.9,303.5 434.9,303.5 435.9,303.5 436.9,303.5 437.9,303.5 438.9,303.5 439.9,303.5 440.9,303.6 441.9,303.6 442.9,303.6 443.9,303.6 444.9,303.6 445.9,303.6 446.9,303.6 447.9,303.6 448.9,303.6 449.9,303.6 450.9,303.5 451.9,303.5 452.9,303.4 453.9,303.3 454.9,303.2 455.9,303.1 456.9,302.9 457.9,302.8 458.9,302.7 459.9,302.6 460.9,302.4 461.9,302.4 462.9,302.3 463.9,302.2 464.9,302.1 465.9,302.1 466.9,302.0 467.9,302.0 468.9,301.9 469.9,301.8 470.9,301.8 471.9,301.7 472.9,301.7 473.9,301.6 474.9,301.6 475.9,301.5 476.9,301.5 477.9,301.4 478.9,301.3 479.9,301.3 480.9,301.2 481.9,301.2 482.9,301.1 483.9,301.0 484.9,301.0 485.9,300.9 486.9,300.8 487.9,300.8 488.9,300.7 489.9,300.6 490.9,300.5 491.9,300.4 492.9,300.3 493.9,300.2 494.9,300.1 495.9,300.0 496.9,299.9 497.9,299.8 498.9,299.7 499.9,299.6 500.9,299.6 501.9,299.5 502.9,299.4 503.9,299.3 504.9,299.3 505.9,299.2 506.9,299.2 507.9,299.1 508.9,299.1 509.9,299.1 510.9,299.1 511.9,299.1 512.9,299.1 513.9,299.2 514.9,299.3 515.9,299.3 516.9,299.4 517.9,299.5 518.9,299.6 519.9,299.7 520.9,299.9 521.9,300.0 522.9,300.1 523.9,300.3 524.9,300.4 525.9,300.6 526.9,300.7 527.9,300.9 528.9,301.0 529.9,301.2 530.9,301.3 531.9,301.5 532.9,301.6 533.9,301.8 534.9,302.0 535.9,302.2 536.9,302.4 537.9,302.6 538.9,302.8 539.9,303.0 540.9,303.2 541.9,303.4 542.9,303.6 543.9,303.8 544.9,304.0 545.9,304.2 546.9,304.4 547.9,304.6 548.9,304.7 549.9,304.9 550.9,305.1 551.9,305.2 552.9,305.4 553.9,305.6 554.9,305.8 555.9,305.9 556.9,306.1 557.9,306.3 558.9,306.5 559.9,306.6 560.9,306.8 561.9,307.0 562.9,307.1 563.9,307.3 564.9,307.4 565.9,307.6 566.9,307.7 567.9,307.8 568.9,308.0 569.9,308.1 570.9,308.2 571.9,308.3 572.9,308.4 573.9,308.5 574.9,308.6 575.9,308.7 576.9,308.7 577.9,308.8 578.9,308.9 579.9,309.0 580.9,309.0 581.9,309.1 582.9,309.1 583.9,309.2 584.9,309.3 585.9,309.3 586.9,309.4 587.9,309.4 588.9,309.5 589.9,309.5 590.9,309.6 591.9,309.6 592.9,309.7 593.9,309.8 594.9,309.8 595.9,309.9 596.9,310.0 597.9,310.0 598.9,310.1 599.9,310.2 600.9,310.2 601.9,310.3 602.9,310.4 603.9,310.5 604.9,310.6 605.9,310.7 606.9,310.8 607.9,310.8 608.9,310.9 609.9,311.0 610.9,311.1 611.9,311.2 612.9,311.3 613.9,311.4 614.9,311.5 615.9,311.6 616.9,311.7 617.9,311.8 618.9,311.9 619.9,312.0 620.9,312.1 621.9,312.2 622.9,312.2 623.9,312.3 624.9,312.4 625.9,312.5 626.9,312.6 627.9,312.7 628.9,312.8 629.9,312.8 630.9,312.9 631.9,313.0 632.9,313.1 633.9,313.2 634.9,313.2 635.9,313.3 636.9,313.4 637.9,313.5 638.9,313.6 639.9,313.7 640.9,313.8 641.9,313.9 642.9,314.0 643.9,314.1 644.9,314.3 645.9,314.4 646.9,314.6 647.9,314.7 648.9,314.9 649.9,315.0 650.9,315.2 651.9,315.4 652.9,315.6 653.9,315.8 654.9,316.0 655.9,316.3 656.9,316.5 657.9,316.8 658.9,317.2 659.9,317.6 660.9,318.0 661.9,318.4 662.9,318.9 663.9,319.3 664.9,319.8 665.9,320.4 666.9,321.0 667.9,321.7 668.9,322.4 669.9,323.2 670.9,324.0 671.9,325.1 672.9,326.4 673.9,327.9 674.9,329.6 675.9,331.2 676.9,332.7 677.9,334.1 678.9,335.2 679.9,336.2 680.9,337.1 681.9,337.9 682.9,338.7 683.9,339.5 684.9,340.2 685.9,340.9 686.9,341.6 687.9,342.4 688.9,343.1 689.9,343.9 690.9,344.6 691.9,345.3 692.9,345.9 693.9,346.6 694.9,347.3 695.9,347.9 696.9,348.6 697.9,349.3 698.9,350.0 699.9,350.8 700.9,351.6 701.9,352.3 702.9,353.1 703.9,353.9 704.9,354.7 705.9,355.5 706.9,356.3 707.9,357.1 708.9,357.9 709.9,358.7 710.5,359.2" fill="none" stroke="#7d7d7d" stroke-width="1.0" stroke-linejoin="round"/>
<polyline points="218.9,299.4 219.9,299.5 220.9,299.7 221.9,299.9 222.9,300.1 223.9,300.3 224.9,300.4 225.9,300.5 226.9,300.6 227.9,300.5 228.9,300.3 229.9,299.9 230.9,299.5 231.9,299.0 232.9,298.4 233.9,297.8 234.9,297.2 235.9,296.6 236.9,296.1 237.9,295.6 238.9,295.1 239.9,294.8 240.9,294.5 241.9,294.3 242.9,294.0 243.9,293.8 244.9,293.5 245.9,293.4 246.9,293.2 247.9,293.1 248.9,293.1 249.9,293.1 250.9,293.3 251.9,293.5 252.9,293.9 253.9,294.5 254.9,295.2 255.9,296.1 256.9,297.1 257.9,298.2 258.9,299.2 259.9,300.2 260.9,301.1 261.9,301.9 262.9,302.8 263.9,303.6 264.9,304.5 265.9,305.4 266.9,306.2 267.9,307.0 268.9,307.7 269.9,308.4 270.9,309.1 271.9,309.6 272.9,310.1 273.9,310.5 274.9,310.9 275.9,311.3 276.9,311.6 277.9,311.9 278.9,312.1 279.9,312.4 280.9,312.6 281.9,312.8 282.9,313.0 283.9,313.2 284.9,313.4 285.9,313.6 286.9,313.7 287.9,313.9 288.9,314.0 289.9,314.1 290.9,314.2 291.9,314.3 292.9,314.4 293.9,314.5 294.9,314.6 295.9,314.7 296.9,314.8 297.9,314.9 298.9,315.0 299.9,315.2 300.9,315.3 301.9,315.5 302.9,315.7 303.9,315.9 304.9,316.1 305.9,316.2 306.9,316.4 307.9,316.6 308.9,316.8 309.9,317.1 310.9,317.3 311.9,317.5 312.9,317.7 313.9,317.9 314.9,318.1 315.9,318.2 316.9,318.4 317.9,318.6 318.9,318.7 319.9,318.8 320.9,318.9 321.9,319.0 322.9,319.1 323.9,319.2 324.9,319.3 325.9,319.3 326.9,319.4 327.9,319.5 328.9,319.6 329.9,319.7 330.9,319.8 331.9,319.9 332.9,319.9 333.9,320.0 334.9,320.1 335.9,320.1 336.9,320.2 337.9,320.2 338.9,320.2 339.9,320.3 340.9,320.3 341.9,320.4 342.9,320.4 343.9,320.4 344.9,320.5 345.9,320.5 346.9,320.5 347.9,320.6 348.9,320.6 349.9,320.7 350.9,320.7 351.9,320.7 352.9,320.8 353.9,320.8 354.9,320.8 355.9,320.9 356.9,320.9 357.9,320.9 358.9,320.9 359.9,321.0 360.9,321.0 361.9,321.0 362.9,321.0 363.9,321.0 364.9,321.0 365.9,321.0 366.9,321.0 367.9,321.0 368.9,321.0 369.9,320.9 370.9,320.9 371.9,320.9 372.9,320.8 373.9,320.8 374.9,320.7 375.9,320.7 376.9,320.6 377.9,320.5 378.9,320.4 379.9,320.3 380.9,320.3 381.9,320.2 382.9,320.1 383.9,320.0 384.9,319.9 385.9,319.8 386.9,319.7 387.9,319.6 388.9,319.5 389.9,319.4 390.9,319.4 391.9,319.3 392.9,319.3 393.9,319.2 394.9,319.2 395.9,319.2 396.9,319.1 397.9,319.1 398.9,319.1 399.9,319.1 400.9,319.1 401.9,319.1 402.9,319.2 403.9,319.2 404.9,319.3 405.9,319.5 406.9,319.6 407.9,319.8 408.9,320.0 409.9,320.3 410.9,320.7 411.9,321.0 412.9,321.2 413.9,321.3 414.9,321.4 415.9,321.5 416.9,321.5 417.9,321.6 418.9,321.7 419.9,321.8 420.9,321.9 421.9,322.0 422.9,322.0 423.9,322.1 424.9,322.2 425.9,322.3 426.9,322.3 427.9,322.4 428.9,322.5 429.9,322.5 430.9,322.6 431.9,322.7 432.9,322.8 433.9,322.8 434.9,322.9 435.9,323.0 436.9,323.1 437.9,323.2 438.9,323.2 439.9,323.3 440.9,323.4 441.9,323.5 442.9,323.6 443.9,323.6 444.9,323.7 445.9,323.8 446.9,323.8 447.9,323.9 448.9,323.9 449.9,324.0 450.9,324.0 451.9,324.0 452.9,324.0 453.9,323.9 454.9,323.9 455.9,323.8 456.9,323.7 457.9,323.6 458.9,323.6 459.9,323.5 460.9,323.4 461.9,323.4 462.9,323.3 463.9,323.3 464.9,323.3 465.9,323.3 466.9,323.3 467.9,323.2 468.9,323.2 469.9,323.2 470.9,323.2 471.9,323.2 472.9,323.2 473.9,323.2 474.9,323.2 475.9,323.1 476.9,323.1 477.9,323.1 478.9,323.1 479.9,323.1 480.9,323.1 481.9,323.1 482.9,323.1 483.9,323.1 484.9,323.0 485.9,323.0 486.9,323.0 487.9,323.0 488.9,322.9 489.9,322.9 490.9,322.9 491.9,322.8 492.9,322.8 493.9,322.7 494.9,322.7 495.9,322.6 496.9,322.6 497.9,322.6 498.9,322.5 499.9,322.5 500.9,322.5 501.9,322.4 502.9,322.4 503.9,322.4 504.9,322.4 505.9,322.4 506.9,322.4 507.9,322.4 508.9,322.4 509.9,322.4 510.9,322.4 511.9,322.5 512.9,322.5 513.9,322.6 514.9,322.7 515.9,322.8 516.9,322.9 517.9,323.0 518.9,323.1 519.9,323.2 520.9,323.4 521.9,323.5 522.9,323.7 523.9,323.8 524.9,324.0 525.9,324.1 526.9,324.3 527.9,324.4 528.9,324.6 529.9,324.7 530.9,324.9 531.9,325.0 532.9,325.2 533.9,325.3 534.9,325.5 535.9,325.7 536.9,325.9 537.9,326.1 538.9,326.3 539.9,326.5 540.9,326.7 541.9,326.9 542.9,327.1 543.9,327.3 544.9,327.5 545.9,327.7 546.9,327.8 547.9,328.0 548.9,328.2 549.9,328.3 550.9,328.5 551.9,328.7 552.9,328.8 553.9,329.0 554.9,329.2 555.9,329.3 556.9,329.5 557.9,329.6 558.9,329.8 559.9,330.0 560.9,330.1 561.9,330.3 562.9,330.4 563.9,330.5 564.9,330.7 565.9,330.8 566.9,330.9 567.9,331.1 568.9,331.2 569.9,331.3 570.9,331.4 571.9,331.5 572.9,331.6 573.9,331.7 574.9,331.7 575.9,331.8 576.9,331.9 577.9,332.0 578.9,332.0 579.9,332.1 580.9,332.1 581.9,332.2 582.9,332.2 583.9,332.3 584.9,332.3 585.9,332.4 586.9,332.4 587.9,332.5 588.9,332.5 589.9,332.6 590.9,332.6 591.9,332.7 592.9,332.7 593.9,332.7 594.9,332.8 595.9,332.9 596.9,332.9 597.9,333.0 598.9,333.0 599.9,333.1 600.9,333.2 601.9,333.2 602.9,333.3 603.9,333.4 604.9,333.4 605.9,333.5 606.9,333.6 607.9,333.7 608.9,333.7 609.9,333.8 610.9,333.9 611.9,334.0 612.9,334.1 613.9,334.1 614.9,334.2 615.9,334.3 616.9,334.4 617.9,334.5 618.9,334.5 619.9,334.6 620.9,334.7 621.9,334.8 622.9,334.9 623.9,334.9 624.9,335.0 625.9,335.1 626.9,335.2 627.9,335.2 628.9,335.3 629.9,335.3 630.9,335.4 631.9,335.5 632.9,335.5 633.9,335.6 634.9,335.7 635.9,335.7 636.9,335.8 637.9,335.9 638.9,335.9 639.9,336.0 640.9,336.1 641.9,336.2 642.9,336.3 643.9,336.4 644.9,336.6 645.9,336.7 646.9,336.8 647.9,336.9 648.9,337.1 649.9,337.2 650.9,337.4 651.9,337.5 652.9,337.7 653.9,337.8 654.9,338.0 655.9,338.2 656.9,338.5 657.9,338.7 658.9,339.0 659.9,339.4 660.9,339.7 661.9,340.1 662.9,340.5 663.9,340.9 664.9,341.3 665.9,341.7 666.9,342.3 667.9,342.8 668.9,343.4 669.9,344.1 670.9,344.7 671.9,345.6 672.9,346.8 673.9,348.1 674.9,349.4 675.9,350.8 676.9,352.1 677.9,353.3 678.9,354.2 679.9,355.1 680.9,355.8 681.9,356.5 682.9,357.2 683.9,357.8 684.9,358.4 685.9,359.0 686.9,359.6 687.9,360.2 688.9,360.8 689.9,361.4 690.9,362.0 691.9,362.6 692.9,363.1 693.9,363.7 694.9,364.2 695.9,364.7 696.9,365.3 697.9,365.9 698.9,366.4 699.9,367.1 700.9,367.7 701.9,368.3 702.9,369.0 703.9,369.6 704.9,370.3 705.9,370.9 706.9,371.6 707.9,372.3 708.9,372.9 709.9,373.6 710.5,374.0" fill="none" stroke="#7d7d7d" stroke-width="1.0" stroke-linejoin="round"/>
<polyline points="218.9,320.1 219.9,320.1 220.9,320.2 221.9,320.2 222.9,320.3 223.9,320.4 224.9,320.4 225.9,320.4 226.9,320.3 227.9,320.1 228.9,319.9 229.9,319.5 230.9,319.0 231.9,318.4 232.9,317.8 233.9,317.2 234.9,316.6 235.9,316.1 236.9,315.6 237.9,315.1 238.9,314.7 239.9,314.4 240.9,314.2 241.9,313.9 242.9,313.7 243.9,313.5 244.9,313.2 245.9,313.1 246.9,312.9 247.9,312.9 248.9,312.8 249.9,312.9 250.9,313.0 251.9,313.3 252.9,313.7 253.9,314.2 254.9,315.0 255.9,315.9 256.9,316.9 257.9,317.9 258.9,318.9 259.9,319.9 260.9,320.8 261.9,321.7 262.9,322.6 263.9,323.5 264.9,324.3 265.9,325.2 266.9,326.1 267.9,326.9 268.9,327.7 269.9,328.4 270.9,329.1 271.9,329.7 272.9,330.2 273.9,330.6 274.9,331.0 275.9,331.4 276.9,331.7 277.9,332.0 278.9,332.3 279.9,332.5 280.9,332.7 281.9,332.9 282.9,333.1 283.9,333.3 284.9,333.5 285.9,333.6 286.9,333.8 287.9,333.9 288.9,334.1 289.9,334.2 290.9,334.2 291.9,334.3 292.9,334.4 293.9,334.4 294.9,334.5 295.9,334.5 296.9,334.6 297.9,334.7 298.9,334.8 299.9,334.9 300.9,335.0 301.9,335.2 302.9,335.3 303.9,335.5 304.9,335.6 305.9,335.8 306.9,335.9 307.9,336.1 308.9,336.3 309.9,336.5 310.9,336.7 311.9,337.0 312.9,337.2 313.9,337.4 314.9,337.6 315.9,337.7 316.9,337.9 317.9,338.1 318.9,338.2 319.9,338.3 320.9,338.4 321.9,338.4 322.9,338.5 323.9,338.6 324.9,338.7 325.9,338.7 326.9,338.8 327.9,338.9 328.9,339.0 329.9,339.0 330.9,339.1 331.9,339.1 332.9,339.2 333.9,339.2 334.9,339.3 335.9,339.3 336.9,339.3 337.9,339.4 338.9,339.4 339.9,339.4 340.9,339.4 341.9,339.5 342.9,339.5 343.9,339.5 344.9,339.5 345.9,339.6 346.9,339.6 347.9,339.7 348.9,339.7 349.9,339.7 350.9,339.8 351.9,339.8 352.9,339.9 353.9,339.9 354.9,339.9 355.9,340.0 356.9,340.0 357.9,340.1 358.9,340.1 359.9,340.1 360.9,340.2 361.9,340.2 362.9,340.3 363.9,340.3 364.9,340.3 365.9,340.3 366.9,340.4 367.9,340.4 368.9,340.4 369.9,340.4 370.9,340.4 371.9,340.4 372.9,340.4 373.9,340.4 374.9,340.3 375.9,340.3 376.9,340.3 377.9,340.2 378.9,340.2 379.9,340.1 380.9,340.0 381.9,340.0 382.9,339.9 383.9,339.9 384.9,339.8 385.9,339.7 386.9,339.7 387.9,339.6 388.9,339.6 389.9,339.6 390.9,339.5 391.9,339.5 392.9,339.5 393.9,339.5 394.9,339.5 395.9,339.5 396.9,339.5 397.9,339.5 398.9,339.5 399.9,339.6 400.9,339.6 401.9,339.7 402.9,339.8 403.9,339.9 404.9,340.1 405.9,340.3 406.9,340.5 407.9,340.8 408.9,341.1 409.9,341.4 410.9,341.9 411.9,342.2 412.9,342.5 413.9,342.8 414.9,343.0 415.9,343.2 416.9,343.4 417.9,343.6 418.9,343.8 419.9,344.0 420.9,344.2 421.9,344.4 422.9,344.7 423.9,344.9 424.9,345.1 425.9,345.3 426.9,345.5 427.9,345.6 428.9,345.8 429.9,346.0 430.9,346.2 431.9,346.4 432.9,346.6 433.9,346.8 434.9,346.9 435.9,347.1 436.9,347.3 437.9,347.5 438.9,347.6 439.9,347.8 440.9,348.0 441.9,348.2 442.9,348.3 443.9,348.5 444.9,348.6 445.9,348.8 446.9,348.9 447.9,349.0 448.9,349.1 449.9,349.2 450.9,349.3 451.9,349.4 452.9,349.5 453.9,349.5 454.9,349.5 455.9,349.5 456.9,349.4 457.9,349.4 458.9,349.4 459.9,349.4 460.9,349.4 461.9,349.4 462.9,349.4 463.9,349.4 464.9,349.5 465.9,349.5 466.9,349.5 467.9,349.6 468.9,349.6 469.9,349.7 470.9,349.7 471.9,349.7 472.9,349.8 473.9,349.8 474.9,349.9 475.9,349.9 476.9,350.0 477.9,350.0 478.9,350.1 479.9,350.1 480.9,350.2 481.9,350.2 482.9,350.2 483.9,350.3 484.9,350.3 485.9,350.4 486.9,350.4 487.9,350.4 488.9,350.5 489.9,350.5 490.9,350.5 491.9,350.5 492.9,350.6 493.9,350.6 494.9,350.6 495.9,350.6 496.9,350.7 497.9,350.7 498.9,350.7 499.9,350.8 500.9,350.8 501.9,350.8 502.9,350.9 503.9,350.9 504.9,350.9 505.9,351.0 506.9,351.0 507.9,351.1 508.9,351.1 509.9,351.2 510.9,351.3 511.9,351.4 512.9,351.4 513.9,351.5 514.9,351.6 515.9,351.8 516.9,351.9 517.9,352.0 518.9,352.2 519.9,352.3 520.9,352.5 521.9,352.6 522.9,352.8 523.9,352.9 524.9,353.1 525.9,353.2 526.9,353.4 527.9,353.5 528.9,353.7 529.9,353.9 530.9,354.0 531.9,354.1 532.9,354.3 533.9,354.5 534.9,354.6 535.9,354.8 536.9,355.0 537.9,355.2 538.9,355.4 539.9,355.6 540.9,355.8 541.9,356.0 542.9,356.1 543.9,356.3 544.9,356.5 545.9,356.7 546.9,356.9 547.9,357.0 548.9,357.2 549.9,357.3 550.9,357.5 551.9,357.6 552.9,357.8 553.9,357.9 554.9,358.1 555.9,358.2 556.9,358.4 557.9,358.5 558.9,358.7 559.9,358.8 560.9,359.0 561.9,359.1 562.9,359.2 563.9,359.4 564.9,359.5 565.9,359.6 566.9,359.7 567.9,359.8 568.9,359.9 569.9,360.0 570.9,360.1 571.9,360.2 572.9,360.3 573.9,360.3 574.9,360.4 575.9,360.5 576.9,360.5 577.9,360.6 578.9,360.6 579.9,360.7 580.9,360.7 581.9,360.8 582.9,360.8 583.9,360.8 584.9,360.9 585.9,360.9 586.9,360.9 587.9,361.0 588.9,361.0 589.9,361.0 590.9,361.1 591.9,361.1 592.9,361.2 593.9,361.2 594.9,361.2 595.9,361.3 596.9,361.3 597.9,361.4 598.9,361.4 599.9,361.5 600.9,361.5 601.9,361.6 602.9,361.6 603.9,361.7 604.9,361.7 605.9,361.8 606.9,361.8 607.9,361.9 608.9,362.0 609.9,362.0 610.9,362.1 611.9,362.2 612.9,362.2 613.9,362.3 614.9,362.3 615.9,362.4 616.9,362.5 617.9,362.5 618.9,362.6 619.9,362.6 620.9,362.7 621.9,362.8 622.9,362.8 623.9,362.9 624.9,362.9 625.9,363.0 626.9,363.0 627.9,363.1 628.9,363.1 629.9,363.2 630.9,363.2 631.9,363.3 632.9,363.3 633.9,363.4 634.9,363.4 635.9,363.5 636.9,363.5 637.9,363.6 638.9,363.6 639.9,363.7 640.9,363.8 641.9,363.8 642.9,363.9 643.9,364.0 644.9,364.1 645.9,364.2 646.9,364.3 647.9,364.4 648.9,364.5 649.9,364.7 650.9,364.8 651.9,364.9 652.9,365.0 653.9,365.1 654.9,365.3 655.9,365.4 656.9,365.6 657.9,365.8 658.9,366.1 659.9,366.3 660.9,366.6 661.9,366.9 662.9,367.2 663.9,367.5 664.9,367.8 665.9,368.2 666.9,368.6 667.9,369.0 668.9,369.5 669.9,369.9 670.9,370.4 671.9,371.1 672.9,371.9 673.9,373.0 674.9,374.0 675.9,375.1 676.9,376.2 677.9,377.1 678.9,377.8 679.9,378.4 680.9,379.0 681.9,379.5 682.9,380.0 683.9,380.5 684.9,380.9 685.9,381.4 686.9,381.8 687.9,382.3 688.9,382.7 689.9,383.2 690.9,383.6 691.9,384.0 692.9,384.4 693.9,384.8 694.9,385.1 695.9,385.5 696.9,385.9 697.9,386.3 698.9,386.7 699.9,387.2 700.9,387.6 701.9,388.1 702.9,388.5 703.9,389.0 704.9,389.5 705.9,390.0 706.9,390.5 707.9,390.9 708.9,391.4 709.9,391.9 710.5,392.2" fill="none" stroke="#7d7d7d" stroke-width="1.0" stroke-linejoin="round"/>
<polyline points="218.9,353.6 219.9,353.4 220.9,353.3 221.9,353.2 222.9,353.0 223.9,352.9 224.9,352.7 225.9,352.5 226.9,352.2 227.9,351.9 228.9,351.5 229.9,351.0 230.9,350.5 231.9,349.9 232.9,349.2 233.9,348.6 234.9,348.0 235.9,347.5 236.9,347.1 237.9,346.7 238.9,346.3 239.9,346.1 240.9,345.9 241.9,345.7 242.9,345.5 243.9,345.3 244.9,345.1 245.9,345.0 246.9,344.8 247.9,344.8 248.9,344.8 249.9,344.9 250.9,345.0 251.9,345.2 252.9,345.6 253.9,346.1 254.9,346.9 255.9,347.8 256.9,348.7 257.9,349.8 258.9,350.8 259.9,351.8 260.9,352.7 261.9,353.6 262.9,354.5 263.9,355.5 264.9,356.4 265.9,357.4 266.9,358.3 267.9,359.2 268.9,360.0 269.9,360.8 270.9,361.5 271.9,362.1 272.9,362.7 273.9,363.1 274.9,363.6 275.9,363.9 276.9,364.3 277.9,364.6 278.9,364.8 279.9,365.1 280.9,365.3 281.9,365.5 282.9,365.6 283.9,365.8 284.9,366.0 285.9,366.1 286.9,366.2 287.9,366.4 288.9,366.5 289.9,366.5 290.9,366.6 291.9,366.6 292.9,366.6 293.9,366.6 294.9,366.7 295.9,366.7 296.9,366.7 297.9,366.7 298.9,366.8 299.9,366.8 300.9,366.9 301.9,366.9 302.9,367.0 303.9,367.1 304.9,367.2 305.9,367.3 306.9,367.5 307.9,367.6 308.9,367.8 309.9,368.0 310.9,368.2 311.9,368.4 312.9,368.7 313.9,368.9 314.9,369.1 315.9,369.3 316.9,369.4 317.9,369.6 318.9,369.7 319.9,369.8 320.9,369.8 321.9,369.9 322.9,369.9 323.9,370.0 324.9,370.0 325.9,370.1 326.9,370.1 327.9,370.2 328.9,370.2 329.9,370.2 330.9,370.3 331.9,370.3 332.9,370.3 333.9,370.3 334.9,370.3 335.9,370.3 336.9,370.3 337.9,370.3 338.9,370.3 339.9,370.3 340.9,370.3 341.9,370.4 342.9,370.4 343.9,370.4 344.9,370.4 345.9,370.4 346.9,370.4 347.9,370.5 348.9,370.5 349.9,370.5 350.9,370.6 351.9,370.6 352.9,370.7 353.9,370.8 354.9,370.8 355.9,370.9 356.9,370.9 357.9,371.0 358.9,371.1 359.9,371.2 360.9,371.2 361.9,371.3 362.9,371.4 363.9,371.5 364.9,371.5 365.9,371.6 366.9,371.7 367.9,371.7 368.9,371.8 369.9,371.8 370.9,371.9 371.9,371.9 372.9,372.0 373.9,372.0 374.9,372.0 375.9,372.0 376.9,372.0 377.9,372.0 378.9,372.0 379.9,372.0 380.9,372.0 381.9,372.0 382.9,372.0 383.9,372.0 384.9,372.0 385.9,372.0 386.9,372.0 387.9,372.0 388.9,372.0 389.9,372.1 390.9,372.1 391.9,372.1 392.9,372.2 393.9,372.2 394.9,372.3 395.9,372.4 396.9,372.4 397.9,372.5 398.9,372.6 399.9,372.7 400.9,372.8 401.9,373.0 402.9,373.2 403.9,373.4 404.9,373.6 405.9,373.9 406.9,374.3 407.9,374.7 408.9,375.1 409.9,375.6 410.9,376.1 411.9,376.6 412.9,377.1 413.9,377.5 414.9,377.9 415.9,378.3 416.9,378.7 417.9,379.1 418.9,379.6 419.9,380.0 420.9,380.4 421.9,380.8 422.9,381.2 423.9,381.6 424.9,382.0 425.9,382.4 426.9,382.8 427.9,383.2 428.9,383.6 429.9,384.0 430.9,384.4 431.9,384.7 432.9,385.1 433.9,385.4 434.9,385.8 435.9,386.1 436.9,386.4 437.9,386.8 438.9,387.1 439.9,387.4 440.9,387.7 441.9,388.0 442.9,388.3 443.9,388.6 444.9,388.8 445.9,389.1 446.9,389.4 447.9,389.6 448.9,389.9 449.9,390.1 450.9,390.3 451.9,390.5 452.9,390.7 453.9,390.8 454.9,390.9 455.9,391.0 456.9,391.0 457.9,391.1 458.9,391.1 459.9,391.2 460.9,391.3 461.9,391.4 462.9,391.5 463.9,391.6 464.9,391.8 465.9,391.9 466.9,392.0 467.9,392.1 468.9,392.3 469.9,392.4 470.9,392.5 471.9,392.7 472.9,392.8 473.9,392.9 474.9,393.1 475.9,393.2 476.9,393.3 477.9,393.5 478.9,393.6 479.9,393.8 480.9,393.9 481.9,394.0 482.9,394.2 483.9,394.3 484.9,394.4 485.9,394.6 486.9,394.7 487.9,394.8 488.9,395.0 489.9,395.1 490.9,395.2 491.9,395.4 492.9,395.5 493.9,395.6 494.9,395.8 495.9,395.9 496.9,396.0 497.9,396.2 498.9,396.3 499.9,396.4 500.9,396.6 501.9,396.7 502.9,396.9 503.9,397.0 504.9,397.1 505.9,397.3 506.9,397.4 507.9,397.5 508.9,397.6 509.9,397.8 510.9,397.9 511.9,398.0 512.9,398.2 513.9,398.3 514.9,398.5 515.9,398.6 516.9,398.8 517.9,399.0 518.9,399.1 519.9,399.3 520.9,399.5 521.9,399.6 522.9,399.8 523.9,400.0 524.9,400.1 525.9,400.3 526.9,400.5 527.9,400.6 528.9,400.8 529.9,400.9 530.9,401.1 531.9,401.2 532.9,401.4 533.9,401.6 534.9,401.7 535.9,401.9 536.9,402.1 537.9,402.3 538.9,402.4 539.9,402.6 540.9,402.8 541.9,403.0 542.9,403.1 543.9,403.3 544.9,403.5 545.9,403.6 546.9,403.8 547.9,403.9 548.9,404.1 549.9,404.2 550.9,404.3 551.9,404.5 552.9,404.6 553.9,404.7 554.9,404.9 555.9,405.0 556.9,405.1 557.9,405.2 558.9,405.4 559.9,405.5 560.9,405.6 561.9,405.7 562.9,405.8 563.9,405.9 564.9,406.0 565.9,406.1 566.9,406.2 567.9,406.3 568.9,406.4 569.9,406.4 570.9,406.5 571.9,406.6 572.9,406.6 573.9,406.7 574.9,406.7 575.9,406.8 576.9,406.8 577.9,406.8 578.9,406.9 579.9,406.9 580.9,406.9 581.9,406.9 582.9,407.0 583.9,407.0 584.9,407.0 585.9,407.0 586.9,407.0 587.9,407.1 588.9,407.1 589.9,407.1 590.9,407.1 591.9,407.1 592.9,407.2 593.9,407.2 594.9,407.2 595.9,407.2 596.9,407.2 597.9,407.3 598.9,407.3 599.9,407.3 600.9,407.3 601.9,407.4 602.9,407.4 603.9,407.4 604.9,407.5 605.9,407.5 606.9,407.5 607.9,407.6 608.9,407.6 609.9,407.6 610.9,407.7 611.9,407.7 612.9,407.7 613.9,407.8 614.9,407.8 615.9,407.8 616.9,407.9 617.9,407.9 618.9,407.9 619.9,407.9 620.9,408.0 621.9,408.0 622.9,408.0 623.9,408.1 624.9,408.1 625.9,408.1 626.9,408.1 627.9,408.1 628.9,408.2 629.9,408.2 630.9,408.2 631.9,408.2 632.9,408.2 633.9,408.2 634.9,408.3 635.9,408.3 636.9,408.3 637.9,408.3 638.9,408.3 639.9,408.4 640.9,408.4 641.9,408.5 642.9,408.5 643.9,408.6 644.9,408.7 645.9,408.7 646.9,408.8 647.9,408.9 648.9,408.9 649.9,409.0 650.9,409.1 651.9,409.1 652.9,409.2 653.9,409.2 654.9,409.3 655.9,409.4 656.9,409.5 657.9,409.6 658.9,409.7 659.9,409.9 660.9,410.1 661.9,410.2 662.9,410.4 663.9,410.6 664.9,410.7 665.9,410.9 666.9,411.1 667.9,411.3 668.9,411.6 669.9,411.7 670.9,411.9 671.9,412.2 672.9,412.7 673.9,413.2 674.9,413.8 675.9,414.4 676.9,415.0 677.9,415.5 678.9,415.9 679.9,416.2 680.9,416.5 681.9,416.7 682.9,416.9 683.9,417.1 684.9,417.3 685.9,417.5 686.9,417.7 687.9,417.9 688.9,418.1 689.9,418.3 690.9,418.5 691.9,418.6 692.9,418.8 693.9,418.9 694.9,419.0 695.9,419.1 696.9,419.3 697.9,419.4 698.9,419.5 699.9,419.7 700.9,419.9 701.9,420.0 702.9,420.2 703.9,420.4 704.9,420.6 705.9,420.8 706.9,421.0 707.9,421.2 708.9,421.3 709.9,421.5 710.5,421.6" fill="none" stroke="#c12fc4" stroke-width="2.0" stroke-linejoin="round"/>
<polyline points="218.9,387.1 219.9,386.8 220.9,386.4 221.9,386.1 222.9,385.7 223.9,385.4 224.9,385.0 225.9,384.6 226.9,384.2 227.9,383.7 228.9,383.2 229.9,382.6 230.9,381.9 231.9,381.3 232.9,380.6 233.9,380.0 234.9,379.5 235.9,379.0 236.9,378.6 237.9,378.3 238.9,378.0 239.9,377.8 240.9,377.6 241.9,377.4 242.9,377.2 243.9,377.1 244.9,376.9 245.9,376.8 246.9,376.7 247.9,376.7 248.9,376.7 249.9,376.8 250.9,377.0 251.9,377.2 252.9,377.6 253.9,378.1 254.9,378.8 255.9,379.6 256.9,380.6 257.9,381.7 258.9,382.7 259.9,383.7 260.9,384.7 261.9,385.6 262.9,386.5 263.9,387.5 264.9,388.5 265.9,389.5 266.9,390.4 267.9,391.4 268.9,392.3 269.9,393.1 270.9,393.9 271.9,394.5 272.9,395.1 273.9,395.6 274.9,396.1 275.9,396.5 276.9,396.8 277.9,397.1 278.9,397.4 279.9,397.6 280.9,397.8 281.9,398.0 282.9,398.2 283.9,398.3 284.9,398.4 285.9,398.6 286.9,398.7 287.9,398.8 288.9,398.8 289.9,398.9 290.9,398.9 291.9,398.9 292.9,398.9 293.9,398.9 294.9,398.8 295.9,398.8 296.9,398.8 297.9,398.7 298.9,398.7 299.9,398.7 300.9,398.7 301.9,398.7 302.9,398.7 303.9,398.8 304.9,398.8 305.9,398.9 306.9,399.0 307.9,399.2 308.9,399.3 309.9,399.5 310.9,399.7 311.9,399.9 312.9,400.2 313.9,400.4 314.9,400.6 315.9,400.8 316.9,401.0 317.9,401.1 318.9,401.2 319.9,401.2 320.9,401.3 321.9,401.3 322.9,401.4 323.9,401.4 324.9,401.4 325.9,401.4 326.9,401.4 327.9,401.4 328.9,401.4 329.9,401.4 330.9,401.4 331.9,401.4 332.9,401.4 333.9,401.4 334.9,401.4 335.9,401.4 336.9,401.3 337.9,401.3 338.9,401.3 339.9,401.3 340.9,401.3 341.9,401.2 342.9,401.2 343.9,401.2 344.9,401.2 345.9,401.2 346.9,401.3 347.9,401.3 348.9,401.3 349.9,401.4 350.9,401.4 351.9,401.5 352.9,401.5 353.9,401.6 354.9,401.7 355.9,401.8 356.9,401.9 357.9,402.0 358.9,402.1 359.9,402.2 360.9,402.3 361.9,402.4 362.9,402.5 363.9,402.6 364.9,402.7 365.9,402.8 366.9,403.0 367.9,403.1 368.9,403.2 369.9,403.3 370.9,403.4 371.9,403.5 372.9,403.5 373.9,403.6 374.9,403.7 375.9,403.8 376.9,403.8 377.9,403.9 378.9,403.9 379.9,404.0 380.9,404.0 381.9,404.1 382.9,404.1 383.9,404.2 384.9,404.2 385.9,404.3 386.9,404.4 387.9,404.4 388.9,404.5 389.9,404.6 390.9,404.7 391.9,404.8 392.9,404.9 393.9,405.0 394.9,405.1 395.9,405.2 396.9,405.4 397.9,405.5 398.9,405.7 399.9,405.8 400.9,406.0 401.9,406.2 402.9,406.5 403.9,406.8 404.9,407.2 405.9,407.6 406.9,408.1 407.9,408.6 408.9,409.1 409.9,409.7 410.9,410.4 411.9,411.1 412.9,411.7 413.9,412.3 414.9,412.8 415.9,413.4 416.9,414.1 417.9,414.7 418.9,415.3 419.9,415.9 420.9,416.5 421.9,417.1 422.9,417.8 423.9,418.4 424.9,419.0 425.9,419.6 426.9,420.2 427.9,420.8 428.9,421.4 429.9,422.0 430.9,422.5 431.9,423.1 432.9,423.6 433.9,424.1 434.9,424.6 435.9,425.1 436.9,425.6 437.9,426.1 438.9,426.5 439.9,427.0 440.9,427.4 441.9,427.9 442.9,428.3 443.9,428.7 444.9,429.1 445.9,429.5 446.9,429.9 447.9,430.2 448.9,430.6 449.9,430.9 450.9,431.3 451.9,431.6 452.9,431.9 453.9,432.1 454.9,432.3 455.9,432.5 456.9,432.6 457.9,432.8 458.9,432.9 459.9,433.0 460.9,433.2 461.9,433.4 462.9,433.6 463.9,433.8 464.9,434.1 465.9,434.3 466.9,434.5 467.9,434.7 468.9,434.9 469.9,435.2 470.9,435.4 471.9,435.6 472.9,435.8 473.9,436.0 474.9,436.3 475.9,436.5 476.9,436.7 477.9,436.9 478.9,437.2 479.9,437.4 480.9,437.6 481.9,437.9 482.9,438.1 483.9,438.3 484.9,438.5 485.9,438.8 486.9,439.0 487.9,439.2 488.9,439.5 489.9,439.7 490.9,440.0 491.9,440.2 492.9,440.4 493.9,440.7 494.9,440.9 495.9,441.2 496.9,441.4 497.9,441.7 498.9,441.9 499.9,442.1 500.9,442.4 501.9,442.6 502.9,442.8 503.9,443.1 504.9,443.3 505.9,443.5 506.9,443.7 507.9,444.0 508.9,444.2 509.9,444.4 510.9,444.6 511.9,444.7 512.9,444.9 513.9,445.1 514.9,445.3 515.9,445.5 516.9,445.7 517.9,445.9 518.9,446.1 519.9,446.3 520.9,446.5 521.9,446.6 522.9,446.8 523.9,447.0 524.9,447.2 525.9,447.3 526.9,447.5 527.9,447.7 528.9,447.8 529.9,448.0 530.9,448.2 531.9,448.3 532.9,448.5 533.9,448.6 534.9,448.8 535.9,449.0 536.9,449.1 537.9,449.3 538.9,449.5 539.9,449.6 540.9,449.8 541.9,450.0 542.9,450.1 543.9,450.3 544.9,450.4 545.9,450.6 546.9,450.7 547.9,450.8 548.9,450.9 549.9,451.1 550.9,451.2 551.9,451.3 552.9,451.4 553.9,451.5 554.9,451.6 555.9,451.7 556.9,451.8 557.9,451.9 558.9,452.0 559.9,452.1 560.9,452.2 561.9,452.3 562.9,452.4 563.9,452.5 564.9,452.6 565.9,452.6 566.9,452.7 567.9,452.8 568.9,452.8 569.9,452.9 570.9,452.9 571.9,453.0 572.9,453.0 573.9,453.0 574.9,453.0 575.9,453.1 576.9,453.1 577.9,453.1 578.9,453.1 579.9,453.1 580.9,453.1 581.9,453.1 582.9,453.1 583.9,453.1 584.9,453.1 585.9,453.1 586.9,453.2 587.9,453.2 588.9,453.2 589.9,453.2 590.9,453.2 591.9,453.2 592.9,453.2 593.9,453.2 594.9,453.2 595.9,453.2 596.9,453.2 597.9,453.2 598.9,453.2 599.9,453.2 600.9,453.2 601.9,453.2 602.9,453.2 603.9,453.2 604.9,453.2 605.9,453.2 606.9,453.2 607.9,453.2 608.9,453.2 609.9,453.2 610.9,453.2 611.9,453.2 612.9,453.2 613.9,453.2 614.9,453.2 615.9,453.2 616.9,453.2 617.9,453.2 618.9,453.2 619.9,453.2 620.9,453.2 621.9,453.2 622.9,453.2 623.9,453.2 624.9,453.2 625.9,453.2 626.9,453.2 627.9,453.2 628.9,453.2 629.9,453.2 630.9,453.2 631.9,453.2 632.9,453.1 633.9,453.1 634.9,453.1 635.9,453.1 636.9,453.1 637.9,453.1 638.9,453.1 639.9,453.1 640.9,453.1 641.9,453.1 642.9,453.2 643.9,453.2 644.9,453.2 645.9,453.3 646.9,453.3 647.9,453.3 648.9,453.3 649.9,453.4 650.9,453.4 651.9,453.3 652.9,453.3 653.9,453.3 654.9,453.3 655.9,453.3 656.9,453.3 657.9,453.4 658.9,453.4 659.9,453.5 660.9,453.5 661.9,453.6 662.9,453.6 663.9,453.6 664.9,453.6 665.9,453.7 666.9,453.7 667.9,453.7 668.9,453.7 669.9,453.6 670.9,453.4 671.9,453.3 672.9,453.4 673.9,453.4 674.9,453.6 675.9,453.7 676.9,453.8 677.9,453.9 678.9,454.0 679.9,454.0 680.9,454.0 681.9,453.9 682.9,453.9 683.9,453.8 684.9,453.7 685.9,453.7 686.9,453.6 687.9,453.6 688.9,453.5 689.9,453.5 690.9,453.4 691.9,453.3 692.9,453.2 693.9,453.0 694.9,452.9 695.9,452.7 696.9,452.6 697.9,452.5 698.9,452.3 699.9,452.2 700.9,452.1 701.9,452.0 702.9,451.9 703.9,451.8 704.9,451.7 705.9,451.6 706.9,451.5 707.9,451.4 708.9,451.3 709.9,451.2 710.5,451.1" fill="none" stroke="#7d7d7d" stroke-width="1.0" stroke-linejoin="round"/>
<polyline points="218.9,407.8 219.9,407.4 220.9,406.9 221.9,406.4 222.9,406.0 223.9,405.5 224.9,405.0 225.9,404.5 226.9,403.9 227.9,403.3 228.9,402.7 229.9,402.1 230.9,401.4 231.9,400.7 232.9,400.1 233.9,399.4 234.9,398.9 235.9,398.5 236.9,398.1 237.9,397.8 238.9,397.6 239.9,397.4 240.9,397.2 241.9,397.1 242.9,396.9 243.9,396.8 244.9,396.6 245.9,396.5 246.9,396.5 247.9,396.5 248.9,396.5 249.9,396.6 250.9,396.7 251.9,397.0 252.9,397.3 253.9,397.8 254.9,398.5 255.9,399.4 256.9,400.4 257.9,401.4 258.9,402.4 259.9,403.5 260.9,404.4 261.9,405.3 262.9,406.3 263.9,407.3 264.9,408.3 265.9,409.3 266.9,410.3 267.9,411.3 268.9,412.2 269.9,413.1 270.9,413.9 271.9,414.6 272.9,415.2 273.9,415.7 274.9,416.2 275.9,416.6 276.9,416.9 277.9,417.2 278.9,417.5 279.9,417.8 280.9,418.0 281.9,418.1 282.9,418.3 283.9,418.4 284.9,418.5 285.9,418.6 286.9,418.7 287.9,418.8 288.9,418.9 289.9,418.9 290.9,418.9 291.9,418.9 292.9,418.9 293.9,418.8 294.9,418.8 295.9,418.7 296.9,418.6 297.9,418.6 298.9,418.5 299.9,418.4 300.9,418.4 301.9,418.4 302.9,418.4 303.9,418.4 304.9,418.4 305.9,418.4 306.9,418.5 307.9,418.6 308.9,418.8 309.9,419.0 310.9,419.2 311.9,419.4 312.9,419.7 313.9,419.9 314.9,420.1 315.9,420.3 316.9,420.5 317.9,420.6 318.9,420.7 319.9,420.7 320.9,420.8 321.9,420.8 322.9,420.8 323.9,420.8 324.9,420.8 325.9,420.8 326.9,420.8 327.9,420.8 328.9,420.8 329.9,420.8 330.9,420.7 331.9,420.7 332.9,420.7 333.9,420.6 334.9,420.6 335.9,420.6 336.9,420.5 337.9,420.5 338.9,420.4 339.9,420.4 340.9,420.4 341.9,420.4 342.9,420.3 343.9,420.3 344.9,420.3 345.9,420.3 346.9,420.3 347.9,420.3 348.9,420.4 349.9,420.4 350.9,420.5 351.9,420.5 352.9,420.6 353.9,420.7 354.9,420.8 355.9,420.9 356.9,421.0 357.9,421.1 358.9,421.2 359.9,421.4 360.9,421.5 361.9,421.6 362.9,421.8 363.9,421.9 364.9,422.0 365.9,422.2 366.9,422.3 367.9,422.5 368.9,422.6 369.9,422.7 370.9,422.9 371.9,423.0 372.9,423.1 373.9,423.2 374.9,423.3 375.9,423.4 376.9,423.5 377.9,423.6 378.9,423.7 379.9,423.7 380.9,423.8 381.9,423.9 382.9,424.0 383.9,424.1 384.9,424.2 385.9,424.3 386.9,424.4 387.9,424.5 388.9,424.6 389.9,424.7 390.9,424.8 391.9,424.9 392.9,425.1 393.9,425.2 394.9,425.4 395.9,425.5 396.9,425.7 397.9,425.9 398.9,426.1 399.9,426.3 400.9,426.5 401.9,426.8 402.9,427.1 403.9,427.5 404.9,428.0 405.9,428.4 406.9,429.0 407.9,429.5 408.9,430.2 409.9,430.9 410.9,431.6 411.9,432.3 412.9,433.1 413.9,433.8 414.9,434.5 415.9,435.2 416.9,435.9 417.9,436.6 418.9,437.4 419.9,438.1 420.9,438.9 421.9,439.6 422.9,440.4 423.9,441.1 424.9,441.9 425.9,442.6 426.9,443.3 427.9,444.0 428.9,444.7 429.9,445.4 430.9,446.1 431.9,446.8 432.9,447.4 433.9,448.0 434.9,448.6 435.9,449.2 436.9,449.8 437.9,450.4 438.9,450.9 439.9,451.5 440.9,452.0 441.9,452.5 442.9,453.0 443.9,453.5 444.9,454.0 445.9,454.4 446.9,454.9 447.9,455.3 448.9,455.8 449.9,456.2 450.9,456.6 451.9,457.0 452.9,457.3 453.9,457.6 454.9,457.9 455.9,458.1 456.9,458.3 457.9,458.5 458.9,458.7 459.9,458.9 460.9,459.2 461.9,459.4 462.9,459.7 463.9,459.9 464.9,460.2 465.9,460.5 466.9,460.8 467.9,461.0 468.9,461.3 469.9,461.6 470.9,461.9 471.9,462.2 472.9,462.4 473.9,462.7 474.9,463.0 475.9,463.3 476.9,463.6 477.9,463.8 478.9,464.1 479.9,464.4 480.9,464.7 481.9,465.0 482.9,465.3 483.9,465.5 484.9,465.8 485.9,466.1 486.9,466.4 487.9,466.7 488.9,467.0 489.9,467.3 490.9,467.6 491.9,467.9 492.9,468.2 493.9,468.5 494.9,468.9 495.9,469.2 496.9,469.5 497.9,469.8 498.9,470.1 499.9,470.4 500.9,470.7 501.9,471.0 502.9,471.3 503.9,471.6 504.9,471.9 505.9,472.1 506.9,472.4 507.9,472.7 508.9,472.9 509.9,473.2 510.9,473.4 511.9,473.6 512.9,473.9 513.9,474.1 514.9,474.3 515.9,474.5 516.9,474.7 517.9,474.9 518.9,475.1 519.9,475.3 520.9,475.5 521.9,475.7 522.9,475.9 523.9,476.1 524.9,476.3 525.9,476.5 526.9,476.6 527.9,476.8 528.9,477.0 529.9,477.1 530.9,477.3 531.9,477.4 532.9,477.6 533.9,477.8 534.9,477.9 535.9,478.1 536.9,478.3 537.9,478.4 538.9,478.6 539.9,478.7 540.9,478.9 541.9,479.0 542.9,479.2 543.9,479.3 544.9,479.5 545.9,479.6 546.9,479.7 547.9,479.8 548.9,479.9 549.9,480.1 550.9,480.2 551.9,480.3 552.9,480.4 553.9,480.5 554.9,480.6 555.9,480.6 556.9,480.7 557.9,480.8 558.9,480.9 559.9,481.0 560.9,481.1 561.9,481.1 562.9,481.2 563.9,481.3 564.9,481.4 565.9,481.4 566.9,481.5 567.9,481.5 568.9,481.6 569.9,481.6 570.9,481.6 571.9,481.6 572.9,481.7 573.9,481.7 574.9,481.7 575.9,481.7 576.9,481.7 577.9,481.7 578.9,481.7 579.9,481.7 580.9,481.7 581.9,481.7 582.9,481.7 583.9,481.7 584.9,481.7 585.9,481.7 586.9,481.7 587.9,481.7 588.9,481.7 589.9,481.6 590.9,481.6 591.9,481.6 592.9,481.6 593.9,481.6 594.9,481.6 595.9,481.6 596.9,481.6 597.9,481.6 598.9,481.5 599.9,481.5 600.9,481.5 601.9,481.5 602.9,481.5 603.9,481.5 604.9,481.5 605.9,481.5 606.9,481.5 607.9,481.4 608.9,481.4 609.9,481.4 610.9,481.4 611.9,481.4 612.9,481.4 613.9,481.4 614.9,481.4 615.9,481.3 616.9,481.3 617.9,481.3 618.9,481.3 619.9,481.3 620.9,481.2 621.9,481.2 622.9,481.2 623.9,481.2 624.9,481.2 625.9,481.1 626.9,481.1 627.9,481.1 628.9,481.0 629.9,481.0 630.9,481.0 631.9,481.0 632.9,480.9 633.9,480.9 634.9,480.9 635.9,480.8 636.9,480.8 637.9,480.8 638.9,480.8 639.9,480.7 640.9,480.7 641.9,480.8 642.9,480.8 643.9,480.8 644.9,480.8 645.9,480.8 646.9,480.8 647.9,480.8 648.9,480.8 649.9,480.8 650.9,480.8 651.9,480.7 652.9,480.7 653.9,480.6 654.9,480.5 655.9,480.5 656.9,480.5 657.9,480.5 658.9,480.4 659.9,480.4 660.9,480.4 661.9,480.4 662.9,480.3 663.9,480.3 664.9,480.2 665.9,480.1 666.9,480.0 667.9,479.9 668.9,479.7 669.9,479.4 670.9,479.1 671.9,478.8 672.9,478.5 673.9,478.3 674.9,478.2 675.9,478.0 676.9,477.9 677.9,477.7 678.9,477.5 679.9,477.3 680.9,477.1 681.9,476.9 682.9,476.7 683.9,476.5 684.9,476.3 685.9,476.1 686.9,475.8 687.9,475.6 688.9,475.4 689.9,475.2 690.9,475.0 691.9,474.7 692.9,474.4 693.9,474.1 694.9,473.8 695.9,473.5 696.9,473.2 697.9,472.9 698.9,472.6 699.9,472.3 700.9,472.0 701.9,471.7 702.9,471.5 703.9,471.2 704.9,470.9 705.9,470.6 706.9,470.3 707.9,470.1 708.9,469.8 709.9,469.5 710.5,469.3" fill="none" stroke="#7d7d7d" stroke-width="1.0" stroke-linejoin="round"/>
<polyline points="218.9,424.6 219.9,424.0 220.9,423.5 221.9,422.9 222.9,422.3 223.9,421.7 224.9,421.1 225.9,420.5 226.9,419.9 227.9,419.2 228.9,418.6 229.9,417.9 230.9,417.1 231.9,416.4 232.9,415.8 233.9,415.1 234.9,414.6 235.9,414.2 236.9,413.9 237.9,413.6 238.9,413.4 239.9,413.2 240.9,413.1 241.9,412.9 242.9,412.8 243.9,412.7 244.9,412.6 245.9,412.5 246.9,412.4 247.9,412.4 248.9,412.5 249.9,412.6 250.9,412.7 251.9,413.0 252.9,413.3 253.9,413.8 254.9,414.5 255.9,415.3 256.9,416.3 257.9,417.3 258.9,418.4 259.9,419.4 260.9,420.4 261.9,421.3 262.9,422.3 263.9,423.3 264.9,424.4 265.9,425.4 266.9,426.4 267.9,427.4 268.9,428.4 269.9,429.3 270.9,430.1 271.9,430.8 272.9,431.4 273.9,432.0 274.9,432.4 275.9,432.8 276.9,433.2 277.9,433.5 278.9,433.8 279.9,434.0 280.9,434.2 281.9,434.4 282.9,434.5 283.9,434.7 284.9,434.8 285.9,434.9 286.9,435.0 287.9,435.0 288.9,435.1 289.9,435.1 290.9,435.1 291.9,435.1 292.9,435.0 293.9,434.9 294.9,434.8 295.9,434.8 296.9,434.7 297.9,434.6 298.9,434.5 299.9,434.4 300.9,434.3 301.9,434.3 302.9,434.2 303.9,434.2 304.9,434.2 305.9,434.2 306.9,434.3 307.9,434.4 308.9,434.5 309.9,434.7 310.9,434.9 311.9,435.2 312.9,435.4 313.9,435.6 314.9,435.9 315.9,436.1 316.9,436.2 317.9,436.4 318.9,436.4 319.9,436.5 320.9,436.5 321.9,436.5 322.9,436.5 323.9,436.5 324.9,436.5 325.9,436.5 326.9,436.5 327.9,436.4 328.9,436.4 329.9,436.4 330.9,436.3 331.9,436.3 332.9,436.2 333.9,436.2 334.9,436.1 335.9,436.1 336.9,436.0 337.9,436.0 338.9,435.9 339.9,435.9 340.9,435.8 341.9,435.8 342.9,435.8 343.9,435.7 344.9,435.7 345.9,435.7 346.9,435.7 347.9,435.8 348.9,435.8 349.9,435.8 350.9,435.9 351.9,435.9 352.9,436.0 353.9,436.1 354.9,436.2 355.9,436.3 356.9,436.5 357.9,436.6 358.9,436.7 359.9,436.9 360.9,437.0 361.9,437.2 362.9,437.3 363.9,437.5 364.9,437.7 365.9,437.8 366.9,438.0 367.9,438.1 368.9,438.3 369.9,438.4 370.9,438.6 371.9,438.7 372.9,438.9 373.9,439.0 374.9,439.1 375.9,439.3 376.9,439.4 377.9,439.5 378.9,439.6 379.9,439.7 380.9,439.8 381.9,439.9 382.9,440.1 383.9,440.2 384.9,440.3 385.9,440.4 386.9,440.5 387.9,440.7 388.9,440.8 389.9,440.9 390.9,441.1 391.9,441.2 392.9,441.4 393.9,441.6 394.9,441.8 395.9,442.0 396.9,442.2 397.9,442.4 398.9,442.6 399.9,442.9 400.9,443.1 401.9,443.5 402.9,443.8 403.9,444.2 404.9,444.7 405.9,445.3 406.9,445.8 407.9,446.5 408.9,447.2 409.9,447.9 410.9,448.7 411.9,449.5 412.9,450.3 413.9,451.1 414.9,451.9 415.9,452.7 416.9,453.6 417.9,454.4 418.9,455.2 419.9,456.1 420.9,456.9 421.9,457.8 422.9,458.7 423.9,459.5 424.9,460.3 425.9,461.2 426.9,462.0 427.9,462.8 428.9,463.6 429.9,464.4 430.9,465.2 431.9,465.9 432.9,466.7 433.9,467.4 434.9,468.1 435.9,468.7 436.9,469.4 437.9,470.0 438.9,470.7 439.9,471.3 440.9,471.9 441.9,472.4 442.9,473.0 443.9,473.6 444.9,474.1 445.9,474.6 446.9,475.1 447.9,475.6 448.9,476.1 449.9,476.6 450.9,477.1 451.9,477.5 452.9,477.9 453.9,478.3 454.9,478.6 455.9,478.9 456.9,479.1 457.9,479.4 458.9,479.6 459.9,479.9 460.9,480.1 461.9,480.4 462.9,480.7 463.9,481.1 464.9,481.4 465.9,481.7 466.9,482.0 467.9,482.3 468.9,482.6 469.9,483.0 470.9,483.3 471.9,483.6 472.9,483.9 473.9,484.3 474.9,484.6 475.9,484.9 476.9,485.2 477.9,485.6 478.9,485.9 479.9,486.2 480.9,486.6 481.9,486.9 482.9,487.2 483.9,487.6 484.9,487.9 485.9,488.2 486.9,488.6 487.9,488.9 488.9,489.3 489.9,489.6 490.9,490.0 491.9,490.3 492.9,490.7 493.9,491.1 494.9,491.4 495.9,491.8 496.9,492.2 497.9,492.5 498.9,492.9 499.9,493.3 500.9,493.6 501.9,494.0 502.9,494.3 503.9,494.6 504.9,495.0 505.9,495.3 506.9,495.6 507.9,495.9 508.9,496.2 509.9,496.5 510.9,496.7 511.9,497.0 512.9,497.2 513.9,497.5 514.9,497.7 515.9,498.0 516.9,498.2 517.9,498.4 518.9,498.6 519.9,498.8 520.9,499.0 521.9,499.2 522.9,499.4 523.9,499.6 524.9,499.8 525.9,500.0 526.9,500.2 527.9,500.3 528.9,500.5 529.9,500.7 530.9,500.8 531.9,501.0 532.9,501.1 533.9,501.3 534.9,501.5 535.9,501.6 536.9,501.8 537.9,502.0 538.9,502.1 539.9,502.3 540.9,502.4 541.9,502.5 542.9,502.7 543.9,502.8 544.9,502.9 545.9,503.1 546.9,503.2 547.9,503.3 548.9,503.4 549.9,503.5 550.9,503.6 551.9,503.7 552.9,503.8 553.9,503.8 554.9,503.9 555.9,504.0 556.9,504.1 557.9,504.2 558.9,504.2 559.9,504.3 560.9,504.4 561.9,504.5 562.9,504.5 563.9,504.6 564.9,504.6 565.9,504.7 566.9,504.7 567.9,504.7 568.9,504.8 569.9,504.8 570.9,504.8 571.9,504.8 572.9,504.9 573.9,504.9 574.9,504.9 575.9,504.9 576.9,504.9 577.9,504.9 578.9,504.8 579.9,504.8 580.9,504.8 581.9,504.8 582.9,504.8 583.9,504.8 584.9,504.8 585.9,504.7 586.9,504.7 587.9,504.7 588.9,504.7 589.9,504.7 590.9,504.7 591.9,504.6 592.9,504.6 593.9,504.6 594.9,504.6 595.9,504.5 596.9,504.5 597.9,504.5 598.9,504.5 599.9,504.5 600.9,504.4 601.9,504.4 602.9,504.4 603.9,504.4 604.9,504.3 605.9,504.3 606.9,504.3 607.9,504.3 608.9,504.2 609.9,504.2 610.9,504.2 611.9,504.2 612.9,504.1 613.9,504.1 614.9,504.1 615.9,504.1 616.9,504.0 617.9,504.0 618.9,504.0 619.9,503.9 620.9,503.9 621.9,503.8 622.9,503.8 623.9,503.8 624.9,503.7 625.9,503.7 626.9,503.7 627.9,503.6 628.9,503.6 629.9,503.5 630.9,503.5 631.9,503.4 632.9,503.4 633.9,503.3 634.9,503.3 635.9,503.2 636.9,503.2 637.9,503.2 638.9,503.1 639.9,503.1 640.9,503.1 641.9,503.1 642.9,503.1 643.9,503.1 644.9,503.1 645.9,503.1 646.9,503.0 647.9,503.0 648.9,503.0 649.9,503.0 650.9,502.9 651.9,502.8 652.9,502.7 653.9,502.6 654.9,502.6 655.9,502.5 656.9,502.4 657.9,502.4 658.9,502.3 659.9,502.2 660.9,502.1 661.9,502.0 662.9,501.9 663.9,501.8 664.9,501.6 665.9,501.5 666.9,501.3 667.9,501.0 668.9,500.7 669.9,500.3 670.9,499.9 671.9,499.4 672.9,498.9 673.9,498.5 674.9,498.0 675.9,497.6 676.9,497.3 677.9,496.9 678.9,496.6 679.9,496.2 680.9,495.9 681.9,495.5 682.9,495.2 683.9,494.8 684.9,494.5 685.9,494.1 686.9,493.8 687.9,493.5 688.9,493.1 689.9,492.8 690.9,492.4 691.9,492.0 692.9,491.6 693.9,491.2 694.9,490.8 695.9,490.3 696.9,489.9 697.9,489.4 698.9,489.0 699.9,488.6 700.9,488.1 701.9,487.7 702.9,487.3 703.9,486.9 704.9,486.4 705.9,486.0 706.9,485.6 707.9,485.2 708.9,484.7 709.9,484.3 710.5,484.1" fill="none" stroke="#7d7d7d" stroke-width="1.0" stroke-linejoin="round"/>
<polyline points="218.9,441.4 219.9,440.7 220.9,440.0 221.9,439.3 222.9,438.7 223.9,438.0 224.9,437.3 225.9,436.6 226.9,435.8 227.9,435.1 228.9,434.4 229.9,433.6 230.9,432.9 231.9,432.2 232.9,431.5 233.9,430.8 234.9,430.3 235.9,429.9 236.9,429.6 237.9,429.4 238.9,429.2 239.9,429.0 240.9,428.9 241.9,428.8 242.9,428.7 243.9,428.6 244.9,428.5 245.9,428.4 246.9,428.4 247.9,428.4 248.9,428.4 249.9,428.5 250.9,428.7 251.9,428.9 252.9,429.3 253.9,429.7 254.9,430.4 255.9,431.3 256.9,432.2 257.9,433.3 258.9,434.3 259.9,435.4 260.9,436.3 261.9,437.3 262.9,438.3 263.9,439.3 264.9,440.4 265.9,441.5 266.9,442.5 267.9,443.5 268.9,444.5 269.9,445.4 270.9,446.3 271.9,447.0 272.9,447.7 273.9,448.2 274.9,448.7 275.9,449.1 276.9,449.5 277.9,449.8 278.9,450.1 279.9,450.3 280.9,450.5 281.9,450.7 282.9,450.8 283.9,450.9 284.9,451.0 285.9,451.1 286.9,451.2 287.9,451.2 288.9,451.3 289.9,451.3 290.9,451.3 291.9,451.2 292.9,451.1 293.9,451.1 294.9,450.9 295.9,450.8 296.9,450.7 297.9,450.6 298.9,450.5 299.9,450.3 300.9,450.2 301.9,450.2 302.9,450.1 303.9,450.0 304.9,450.0 305.9,450.0 306.9,450.1 307.9,450.2 308.9,450.3 309.9,450.5 310.9,450.7 311.9,450.9 312.9,451.2 313.9,451.4 314.9,451.6 315.9,451.8 316.9,452.0 317.9,452.1 318.9,452.2 319.9,452.2 320.9,452.2 321.9,452.2 322.9,452.2 323.9,452.2 324.9,452.2 325.9,452.2 326.9,452.1 327.9,452.1 328.9,452.0 329.9,452.0 330.9,451.9 331.9,451.9 332.9,451.8 333.9,451.7 334.9,451.7 335.9,451.6 336.9,451.5 337.9,451.5 338.9,451.4 339.9,451.3 340.9,451.3 341.9,451.2 342.9,451.2 343.9,451.2 344.9,451.2 345.9,451.1 346.9,451.2 347.9,451.2 348.9,451.2 349.9,451.2 350.9,451.3 351.9,451.4 352.9,451.4 353.9,451.5 354.9,451.7 355.9,451.8 356.9,451.9 357.9,452.1 358.9,452.2 359.9,452.4 360.9,452.5 361.9,452.7 362.9,452.9 363.9,453.1 364.9,453.3 365.9,453.4 366.9,453.6 367.9,453.8 368.9,454.0 369.9,454.2 370.9,454.3 371.9,454.5 372.9,454.7 373.9,454.8 374.9,455.0 375.9,455.1 376.9,455.3 377.9,455.4 378.9,455.6 379.9,455.7 380.9,455.8 381.9,456.0 382.9,456.1 383.9,456.3 384.9,456.4 385.9,456.5 386.9,456.7 387.9,456.9 388.9,457.0 389.9,457.2 390.9,457.4 391.9,457.6 392.9,457.8 393.9,458.0 394.9,458.2 395.9,458.4 396.9,458.7 397.9,458.9 398.9,459.2 399.9,459.4 400.9,459.7 401.9,460.1 402.9,460.5 403.9,461.0 404.9,461.5 405.9,462.1 406.9,462.7 407.9,463.4 408.9,464.2 409.9,465.0 410.9,465.9 411.9,466.7 412.9,467.6 413.9,468.5 414.9,469.4 415.9,470.3 416.9,471.2 417.9,472.2 418.9,473.1 419.9,474.1 420.9,475.0 421.9,476.0 422.9,476.9 423.9,477.9 424.9,478.8 425.9,479.8 426.9,480.7 427.9,481.6 428.9,482.5 429.9,483.4 430.9,484.3 431.9,485.1 432.9,485.9 433.9,486.7 434.9,487.5 435.9,488.2 436.9,489.0 437.9,489.7 438.9,490.4 439.9,491.1 440.9,491.7 441.9,492.4 442.9,493.0 443.9,493.6 444.9,494.2 445.9,494.8 446.9,495.4 447.9,495.9 448.9,496.5 449.9,497.0 450.9,497.6 451.9,498.1 452.9,498.5 453.9,498.9 454.9,499.3 455.9,499.6 456.9,499.9 457.9,500.2 458.9,500.5 459.9,500.8 460.9,501.1 461.9,501.4 462.9,501.8 463.9,502.2 464.9,502.5 465.9,502.9 466.9,503.2 467.9,503.6 468.9,504.0 469.9,504.3 470.9,504.7 471.9,505.1 472.9,505.4 473.9,505.8 474.9,506.2 475.9,506.6 476.9,506.9 477.9,507.3 478.9,507.7 479.9,508.1 480.9,508.4 481.9,508.8 482.9,509.2 483.9,509.6 484.9,509.9 485.9,510.3 486.9,510.7 487.9,511.1 488.9,511.5 489.9,511.9 490.9,512.3 491.9,512.7 492.9,513.2 493.9,513.6 494.9,514.0 495.9,514.4 496.9,514.9 497.9,515.3 498.9,515.7 499.9,516.1 500.9,516.5 501.9,516.9 502.9,517.3 503.9,517.7 504.9,518.1 505.9,518.4 506.9,518.8 507.9,519.1 508.9,519.4 509.9,519.7 510.9,520.0 511.9,520.3 512.9,520.6 513.9,520.9 514.9,521.1 515.9,521.4 516.9,521.6 517.9,521.9 518.9,522.1 519.9,522.3 520.9,522.5 521.9,522.7 522.9,522.9 523.9,523.1 524.9,523.3 525.9,523.5 526.9,523.7 527.9,523.9 528.9,524.0 529.9,524.2 530.9,524.4 531.9,524.5 532.9,524.7 533.9,524.8 534.9,525.0 535.9,525.2 536.9,525.3 537.9,525.5 538.9,525.6 539.9,525.8 540.9,525.9 541.9,526.0 542.9,526.2 543.9,526.3 544.9,526.4 545.9,526.5 546.9,526.6 547.9,526.7 548.9,526.8 549.9,526.9 550.9,527.0 551.9,527.1 552.9,527.2 553.9,527.2 554.9,527.3 555.9,527.4 556.9,527.5 557.9,527.5 558.9,527.6 559.9,527.6 560.9,527.7 561.9,527.8 562.9,527.8 563.9,527.9 564.9,527.9 565.9,527.9 566.9,528.0 567.9,528.0 568.9,528.0 569.9,528.0 570.9,528.0 571.9,528.0 572.9,528.0 573.9,528.0 574.9,528.0 575.9,528.0 576.9,528.0 577.9,528.0 578.9,528.0 579.9,527.9 580.9,527.9 581.9,527.9 582.9,527.9 583.9,527.9 584.9,527.8 585.9,527.8 586.9,527.8 587.9,527.8 588.9,527.7 589.9,527.7 590.9,527.7 591.9,527.6 592.9,527.6 593.9,527.6 594.9,527.5 595.9,527.5 596.9,527.5 597.9,527.4 598.9,527.4 599.9,527.4 600.9,527.3 601.9,527.3 602.9,527.3 603.9,527.2 604.9,527.2 605.9,527.2 606.9,527.1 607.9,527.1 608.9,527.1 609.9,527.0 610.9,527.0 611.9,526.9 612.9,526.9 613.9,526.9 614.9,526.8 615.9,526.8 616.9,526.7 617.9,526.7 618.9,526.6 619.9,526.6 620.9,526.5 621.9,526.5 622.9,526.4 623.9,526.4 624.9,526.3 625.9,526.3 626.9,526.2 627.9,526.1 628.9,526.1 629.9,526.0 630.9,526.0 631.9,525.9 632.9,525.8 633.9,525.8 634.9,525.7 635.9,525.6 636.9,525.6 637.9,525.5 638.9,525.5 639.9,525.4 640.9,525.4 641.9,525.4 642.9,525.4 643.9,525.4 644.9,525.3 645.9,525.3 646.9,525.3 647.9,525.2 648.9,525.2 649.9,525.1 650.9,525.0 651.9,524.9 652.9,524.8 653.9,524.7 654.9,524.6 655.9,524.5 656.9,524.4 657.9,524.2 658.9,524.1 659.9,524.0 660.9,523.9 661.9,523.7 662.9,523.5 663.9,523.3 664.9,523.1 665.9,522.8 666.9,522.5 667.9,522.2 668.9,521.8 669.9,521.3 670.9,520.6 671.9,519.9 672.9,519.2 673.9,518.6 674.9,517.9 675.9,517.3 676.9,516.7 677.9,516.1 678.9,515.6 679.9,515.1 680.9,514.6 681.9,514.1 682.9,513.6 683.9,513.2 684.9,512.7 685.9,512.2 686.9,511.7 687.9,511.3 688.9,510.8 689.9,510.3 690.9,509.9 691.9,509.4 692.9,508.8 693.9,508.3 694.9,507.7 695.9,507.1 696.9,506.6 697.9,506.0 698.9,505.4 699.9,504.8 700.9,504.3 701.9,503.7 702.9,503.1 703.9,502.6 704.9,502.0 705.9,501.4 706.9,500.8 707.9,500.3 708.9,499.7 709.9,499.1 710.5,498.8" fill="none" stroke="#c7742a" stroke-width="1.0" stroke-linejoin="round"/>
<polyline points="218.9,462.1 219.9,461.3 220.9,460.5 221.9,459.7 222.9,458.9 223.9,458.1 224.9,457.3 225.9,456.4 226.9,455.6 227.9,454.8 228.9,454.0 229.9,453.2 230.9,452.4 231.9,451.6 232.9,450.9 233.9,450.3 234.9,449.8 235.9,449.4 236.9,449.1 237.9,448.9 238.9,448.8 239.9,448.7 240.9,448.6 241.9,448.5 242.9,448.4 243.9,448.3 244.9,448.2 245.9,448.1 246.9,448.1 247.9,448.1 248.9,448.2 249.9,448.3 250.9,448.5 251.9,448.7 252.9,449.0 253.9,449.5 254.9,450.2 255.9,451.0 256.9,452.0 257.9,453.0 258.9,454.1 259.9,455.1 260.9,456.1 261.9,457.1 262.9,458.1 263.9,459.2 264.9,460.2 265.9,461.3 266.9,462.4 267.9,463.5 268.9,464.5 269.9,465.4 270.9,466.3 271.9,467.1 272.9,467.8 273.9,468.3 274.9,468.8 275.9,469.2 276.9,469.6 277.9,469.9 278.9,470.2 279.9,470.4 280.9,470.6 281.9,470.8 282.9,470.9 283.9,471.0 284.9,471.1 285.9,471.2 286.9,471.2 287.9,471.3 288.9,471.3 289.9,471.3 290.9,471.3 291.9,471.2 292.9,471.1 293.9,471.0 294.9,470.9 295.9,470.7 296.9,470.5 297.9,470.4 298.9,470.2 299.9,470.1 300.9,469.9 301.9,469.8 302.9,469.7 303.9,469.6 304.9,469.6 305.9,469.5 306.9,469.6 307.9,469.6 308.9,469.8 309.9,470.0 310.9,470.2 311.9,470.4 312.9,470.6 313.9,470.9 314.9,471.1 315.9,471.3 316.9,471.5 317.9,471.6 318.9,471.7 319.9,471.7 320.9,471.7 321.9,471.7 322.9,471.7 323.9,471.6 324.9,471.6 325.9,471.5 326.9,471.5 327.9,471.4 328.9,471.4 329.9,471.3 330.9,471.2 331.9,471.1 332.9,471.0 333.9,471.0 334.9,470.9 335.9,470.8 336.9,470.7 337.9,470.6 338.9,470.5 339.9,470.5 340.9,470.4 341.9,470.3 342.9,470.3 343.9,470.3 344.9,470.2 345.9,470.2 346.9,470.2 347.9,470.2 348.9,470.3 349.9,470.3 350.9,470.4 351.9,470.4 352.9,470.5 353.9,470.6 354.9,470.8 355.9,470.9 356.9,471.0 357.9,471.2 358.9,471.4 359.9,471.6 360.9,471.8 361.9,471.9 362.9,472.2 363.9,472.4 364.9,472.6 365.9,472.8 366.9,473.0 367.9,473.2 368.9,473.4 369.9,473.6 370.9,473.8 371.9,474.0 372.9,474.2 373.9,474.4 374.9,474.6 375.9,474.8 376.9,474.9 377.9,475.1 378.9,475.3 379.9,475.5 380.9,475.6 381.9,475.8 382.9,476.0 383.9,476.1 384.9,476.3 385.9,476.5 386.9,476.7 387.9,476.9 388.9,477.1 389.9,477.3 390.9,477.5 391.9,477.7 392.9,478.0 393.9,478.2 394.9,478.5 395.9,478.7 396.9,479.0 397.9,479.3 398.9,479.6 399.9,479.9 400.9,480.3 401.9,480.7 402.9,481.1 403.9,481.7 404.9,482.3 405.9,482.9 406.9,483.6 407.9,484.4 408.9,485.2 409.9,486.1 410.9,487.1 411.9,488.0 412.9,489.0 413.9,490.0 414.9,491.0 415.9,492.0 416.9,493.1 417.9,494.1 418.9,495.2 419.9,496.3 420.9,497.4 421.9,498.5 422.9,499.5 423.9,500.6 424.9,501.7 425.9,502.8 426.9,503.8 427.9,504.9 428.9,505.9 429.9,506.9 430.9,507.9 431.9,508.8 432.9,509.7 433.9,510.6 434.9,511.5 435.9,512.4 436.9,513.2 437.9,514.0 438.9,514.8 439.9,515.5 440.9,516.3 441.9,517.0 442.9,517.7 443.9,518.4 444.9,519.1 445.9,519.8 446.9,520.4 447.9,521.1 448.9,521.7 449.9,522.3 450.9,522.9 451.9,523.5 452.9,524.0 453.9,524.5 454.9,524.9 455.9,525.3 456.9,525.6 457.9,526.0 458.9,526.3 459.9,526.7 460.9,527.0 461.9,527.4 462.9,527.8 463.9,528.3 464.9,528.7 465.9,529.1 466.9,529.5 467.9,529.9 468.9,530.4 469.9,530.8 470.9,531.2 471.9,531.6 472.9,532.1 473.9,532.5 474.9,532.9 475.9,533.3 476.9,533.8 477.9,534.2 478.9,534.6 479.9,535.1 480.9,535.5 481.9,535.9 482.9,536.4 483.9,536.8 484.9,537.2 485.9,537.7 486.9,538.1 487.9,538.6 488.9,539.0 489.9,539.5 490.9,540.0 491.9,540.5 492.9,541.0 493.9,541.5 494.9,541.9 495.9,542.4 496.9,542.9 497.9,543.4 498.9,543.9 499.9,544.4 500.9,544.8 501.9,545.3 502.9,545.7 503.9,546.2 504.9,546.6 505.9,547.0 506.9,547.4 507.9,547.8 508.9,548.2 509.9,548.6 510.9,548.9 511.9,549.2 512.9,549.5 513.9,549.8 514.9,550.1 515.9,550.4 516.9,550.7 517.9,550.9 518.9,551.2 519.9,551.4 520.9,551.6 521.9,551.8 522.9,552.0 523.9,552.2 524.9,552.4 525.9,552.6 526.9,552.8 527.9,553.0 528.9,553.2 529.9,553.3 530.9,553.5 531.9,553.7 532.9,553.8 533.9,554.0 534.9,554.1 535.9,554.3 536.9,554.4 537.9,554.6 538.9,554.7 539.9,554.9 540.9,555.0 541.9,555.1 542.9,555.2 543.9,555.4 544.9,555.5 545.9,555.6 546.9,555.7 547.9,555.8 548.9,555.8 549.9,555.9 550.9,556.0 551.9,556.1 552.9,556.1 553.9,556.2 554.9,556.2 555.9,556.3 556.9,556.4 557.9,556.4 558.9,556.5 559.9,556.5 560.9,556.6 561.9,556.6 562.9,556.6 563.9,556.7 564.9,556.7 565.9,556.7 566.9,556.7 567.9,556.7 568.9,556.7 569.9,556.7 570.9,556.7 571.9,556.7 572.9,556.7 573.9,556.7 574.9,556.7 575.9,556.7 576.9,556.6 577.9,556.6 578.9,556.6 579.9,556.5 580.9,556.5 581.9,556.5 582.9,556.4 583.9,556.4 584.9,556.4 585.9,556.3 586.9,556.3 587.9,556.3 588.9,556.2 589.9,556.2 590.9,556.2 591.9,556.1 592.9,556.1 593.9,556.0 594.9,556.0 595.9,555.9 596.9,555.9 597.9,555.8 598.9,555.8 599.9,555.7 600.9,555.7 601.9,555.6 602.9,555.6 603.9,555.5 604.9,555.5 605.9,555.4 606.9,555.4 607.9,555.3 608.9,555.3 609.9,555.2 610.9,555.2 611.9,555.1 612.9,555.0 613.9,555.0 614.9,554.9 615.9,554.9 616.9,554.8 617.9,554.7 618.9,554.7 619.9,554.6 620.9,554.5 621.9,554.5 622.9,554.4 623.9,554.3 624.9,554.2 625.9,554.2 626.9,554.1 627.9,554.0 628.9,553.9 629.9,553.9 630.9,553.8 631.9,553.7 632.9,553.6 633.9,553.5 634.9,553.5 635.9,553.4 636.9,553.3 637.9,553.2 638.9,553.2 639.9,553.1 640.9,553.1 641.9,553.0 642.9,553.0 643.9,552.9 644.9,552.9 645.9,552.9 646.9,552.8 647.9,552.7 648.9,552.7 649.9,552.6 650.9,552.5 651.9,552.3 652.9,552.2 653.9,552.0 654.9,551.8 655.9,551.7 656.9,551.5 657.9,551.3 658.9,551.2 659.9,551.0 660.9,550.8 661.9,550.5 662.9,550.3 663.9,550.0 664.9,549.6 665.9,549.3 666.9,548.8 667.9,548.4 668.9,547.8 669.9,547.1 670.9,546.3 671.9,545.4 672.9,544.4 673.9,543.5 674.9,542.5 675.9,541.6 676.9,540.7 677.9,539.9 678.9,539.2 679.9,538.5 680.9,537.8 681.9,537.1 682.9,536.5 683.9,535.8 684.9,535.2 685.9,534.6 686.9,534.0 687.9,533.3 688.9,532.7 689.9,532.1 690.9,531.4 691.9,530.8 692.9,530.1 693.9,529.4 694.9,528.7 695.9,527.9 696.9,527.2 697.9,526.4 698.9,525.7 699.9,525.0 700.9,524.2 701.9,523.5 702.9,522.7 703.9,522.0 704.9,521.2 705.9,520.5 706.9,519.7 707.9,519.0 708.9,518.2 709.9,517.5 710.5,517.0" fill="none" stroke="#7d7d7d" stroke-width="1.0" stroke-linejoin="round"/>
<polyline points="218.9,495.6 219.9,494.6 220.9,493.6 221.9,492.6 222.9,491.6 223.9,490.6 224.9,489.5 225.9,488.5 226.9,487.5 227.9,486.6 228.9,485.6 229.9,484.7 230.9,483.8 231.9,483.0 232.9,482.3 233.9,481.7 234.9,481.2 235.9,480.9 236.9,480.6 237.9,480.5 238.9,480.4 239.9,480.3 240.9,480.3 241.9,480.2 242.9,480.1 243.9,480.1 244.9,480.0 245.9,480.0 246.9,480.0 247.9,480.0 248.9,480.1 249.9,480.3 250.9,480.4 251.9,480.7 252.9,481.0 253.9,481.4 254.9,482.1 255.9,482.9 256.9,483.8 257.9,484.9 258.9,485.9 259.9,487.0 260.9,488.0 261.9,489.0 262.9,490.1 263.9,491.2 264.9,492.3 265.9,493.5 266.9,494.6 267.9,495.7 268.9,496.8 269.9,497.8 270.9,498.7 271.9,499.5 272.9,500.2 273.9,500.8 274.9,501.3 275.9,501.8 276.9,502.1 277.9,502.5 278.9,502.7 279.9,503.0 280.9,503.2 281.9,503.3 282.9,503.4 283.9,503.5 284.9,503.6 285.9,503.6 286.9,503.7 287.9,503.7 288.9,503.7 289.9,503.7 290.9,503.6 291.9,503.5 292.9,503.4 293.9,503.2 294.9,503.0 295.9,502.8 296.9,502.6 297.9,502.4 298.9,502.2 299.9,502.0 300.9,501.8 301.9,501.6 302.9,501.4 303.9,501.3 304.9,501.2 305.9,501.1 306.9,501.1 307.9,501.2 308.9,501.3 309.9,501.4 310.9,501.7 311.9,501.9 312.9,502.1 313.9,502.4 314.9,502.6 315.9,502.8 316.9,503.0 317.9,503.1 318.9,503.2 319.9,503.2 320.9,503.2 321.9,503.1 322.9,503.1 323.9,503.0 324.9,503.0 325.9,502.9 326.9,502.8 327.9,502.7 328.9,502.6 329.9,502.5 330.9,502.4 331.9,502.3 332.9,502.2 333.9,502.0 334.9,501.9 335.9,501.8 336.9,501.7 337.9,501.6 338.9,501.5 339.9,501.4 340.9,501.3 341.9,501.2 342.9,501.2 343.9,501.1 344.9,501.1 345.9,501.1 346.9,501.0 347.9,501.0 348.9,501.1 349.9,501.1 350.9,501.2 351.9,501.3 352.9,501.4 353.9,501.5 354.9,501.6 355.9,501.8 356.9,502.0 357.9,502.2 358.9,502.4 359.9,502.6 360.9,502.8 361.9,503.0 362.9,503.3 363.9,503.5 364.9,503.8 365.9,504.0 366.9,504.3 367.9,504.5 368.9,504.8 369.9,505.1 370.9,505.3 371.9,505.6 372.9,505.8 373.9,506.0 374.9,506.3 375.9,506.5 376.9,506.7 377.9,506.9 378.9,507.2 379.9,507.4 380.9,507.6 381.9,507.8 382.9,508.1 383.9,508.3 384.9,508.5 385.9,508.8 386.9,509.0 387.9,509.3 388.9,509.5 389.9,509.8 390.9,510.1 391.9,510.4 392.9,510.7 393.9,511.0 394.9,511.3 395.9,511.6 396.9,512.0 397.9,512.3 398.9,512.7 399.9,513.1 400.9,513.5 401.9,513.9 402.9,514.5 403.9,515.1 404.9,515.8 405.9,516.6 406.9,517.4 407.9,518.3 408.9,519.2 409.9,520.3 410.9,521.3 411.9,522.4 412.9,523.6 413.9,524.7 414.9,525.9 415.9,527.2 416.9,528.4 417.9,529.7 418.9,530.9 419.9,532.2 420.9,533.5 421.9,534.8 422.9,536.1 423.9,537.4 424.9,538.7 425.9,539.9 426.9,541.2 427.9,542.4 428.9,543.7 429.9,544.8 430.9,546.0 431.9,547.2 432.9,548.3 433.9,549.3 434.9,550.4 435.9,551.4 436.9,552.3 437.9,553.3 438.9,554.2 439.9,555.1 440.9,556.0 441.9,556.9 442.9,557.7 443.9,558.5 444.9,559.3 445.9,560.1 446.9,560.9 447.9,561.7 448.9,562.4 449.9,563.2 450.9,563.9 451.9,564.6 452.9,565.2 453.9,565.8 454.9,566.3 455.9,566.8 456.9,567.2 457.9,567.6 458.9,568.1 459.9,568.5 460.9,569.0 461.9,569.4 462.9,570.0 463.9,570.5 464.9,571.0 465.9,571.5 466.9,572.0 467.9,572.5 468.9,573.0 469.9,573.5 470.9,574.1 471.9,574.6 472.9,575.1 473.9,575.6 474.9,576.1 475.9,576.6 476.9,577.1 477.9,577.7 478.9,578.2 479.9,578.7 480.9,579.2 481.9,579.7 482.9,580.3 483.9,580.8 484.9,581.3 485.9,581.9 486.9,582.4 487.9,583.0 488.9,583.5 489.9,584.1 490.9,584.7 491.9,585.3 492.9,585.9 493.9,586.5 494.9,587.1 495.9,587.7 496.9,588.3 497.9,588.9 498.9,589.5 499.9,590.1 500.9,590.6 501.9,591.2 502.9,591.7 503.9,592.3 504.9,592.8 505.9,593.3 506.9,593.8 507.9,594.3 508.9,594.7 509.9,595.1 510.9,595.5 511.9,595.9 512.9,596.3 513.9,596.6 514.9,597.0 515.9,597.3 516.9,597.6 517.9,597.8 518.9,598.1 519.9,598.4 520.9,598.6 521.9,598.9 522.9,599.1 523.9,599.3 524.9,599.5 525.9,599.7 526.9,599.9 527.9,600.1 528.9,600.2 529.9,600.4 530.9,600.6 531.9,600.7 532.9,600.9 533.9,601.0 534.9,601.2 535.9,601.4 536.9,601.5 537.9,601.6 538.9,601.8 539.9,601.9 540.9,602.0 541.9,602.1 542.9,602.2 543.9,602.3 544.9,602.4 545.9,602.5 546.9,602.6 547.9,602.7 548.9,602.7 549.9,602.8 550.9,602.8 551.9,602.9 552.9,602.9 553.9,603.0 554.9,603.0 555.9,603.1 556.9,603.1 557.9,603.1 558.9,603.1 559.9,603.2 560.9,603.2 561.9,603.2 562.9,603.2 563.9,603.2 564.9,603.2 565.9,603.2 566.9,603.2 567.9,603.2 568.9,603.2 569.9,603.2 570.9,603.1 571.9,603.1 572.9,603.1 573.9,603.0 574.9,603.0 575.9,603.0 576.9,602.9 577.9,602.9 578.9,602.8 579.9,602.8 580.9,602.7 581.9,602.7 582.9,602.6 583.9,602.6 584.9,602.5 585.9,602.5 586.9,602.4 587.9,602.4 588.9,602.3 589.9,602.2 590.9,602.2 591.9,602.1 592.9,602.1 593.9,602.0 594.9,601.9 595.9,601.9 596.9,601.8 597.9,601.7 598.9,601.7 599.9,601.6 600.9,601.5 601.9,601.5 602.9,601.4 603.9,601.3 604.9,601.2 605.9,601.1 606.9,601.1 607.9,601.0 608.9,600.9 609.9,600.8 610.9,600.7 611.9,600.6 612.9,600.6 613.9,600.5 614.9,600.4 615.9,600.3 616.9,600.2 617.9,600.1 618.9,600.0 619.9,599.9 620.9,599.8 621.9,599.7 622.9,599.6 623.9,599.5 624.9,599.4 625.9,599.3 626.9,599.2 627.9,599.1 628.9,599.0 629.9,598.8 630.9,598.7 631.9,598.6 632.9,598.5 633.9,598.4 634.9,598.3 635.9,598.2 636.9,598.1 637.9,598.0 638.9,597.9 639.9,597.8 640.9,597.7 641.9,597.7 642.9,597.6 643.9,597.5 644.9,597.5 645.9,597.4 646.9,597.3 647.9,597.2 648.9,597.1 649.9,596.9 650.9,596.7 651.9,596.6 652.9,596.3 653.9,596.1 654.9,595.8 655.9,595.6 656.9,595.4 657.9,595.1 658.9,594.8 659.9,594.5 660.9,594.2 661.9,593.9 662.9,593.5 663.9,593.0 664.9,592.5 665.9,592.0 666.9,591.4 667.9,590.7 668.9,589.9 669.9,588.9 670.9,587.8 671.9,586.5 672.9,585.1 673.9,583.7 674.9,582.3 675.9,580.9 676.9,579.6 677.9,578.3 678.9,577.3 679.9,576.3 680.9,575.3 681.9,574.3 682.9,573.4 683.9,572.5 684.9,571.6 685.9,570.7 686.9,569.9 687.9,569.0 688.9,568.1 689.9,567.2 690.9,566.3 691.9,565.4 692.9,564.5 693.9,563.5 694.9,562.5 695.9,561.5 696.9,560.5 697.9,559.5 698.9,558.5 699.9,557.5 700.9,556.4 701.9,555.4 702.9,554.4 703.9,553.3 704.9,552.3 705.9,551.3 706.9,550.2 707.9,549.2 708.9,548.1 709.9,547.1 710.5,546.5" fill="none" stroke="#1e7d1e" stroke-width="1.6" stroke-linejoin="round"/>
<rect x="191.3" y="218.2" width="519.7" height="31.3" fill="#2d2d30"/>
<rect x="191.3" y="218.2" width="150.7" height="3.2" fill="#e39f1e"/>
<rect x="342" y="218.2" width="233" height="3.2" fill="#e4a81f" opacity="0"/>
<rect x="191.3" y="221.3" width="383.7" height="15.5" fill="#e8b824"/>
<rect x="575" y="224.7" width="41" height="3.4" fill="#e8b824"/>
<rect x="575" y="228.0" width="34" height="5.8" fill="#e8b824"/>
<rect x="575" y="233.8" width="2" height="3" fill="#e8b824"/>
<rect x="191.3" y="236.6" width="232.7" height="6.4" fill="#e19d18"/>
<rect x="424" y="239.6" width="29.8" height="3.4" fill="#e2a31a"/>
<rect x="191.3" y="242.8" width="519.7" height="3.7" fill="#ebcd2f"/>
<rect x="191.3" y="246.5" width="315.9" height="3.0" fill="#e1a21a"/>
<polyline points="218.9,245.1 219.9,245.5 220.9,246.1 221.9,246.6 222.9,247.2 223.9,247.7 224.9,248.2 225.9,248.6 226.9,248.9 227.9,249.0 228.9,249.0 229.9,248.9 230.9,248.5 231.9,248.1 232.9,247.5 233.9,246.9 234.9,246.3 235.9,245.7 236.9,245.0 237.9,244.5 238.9,243.9 239.9,243.5 240.9,243.2 241.9,242.9 242.9,242.6 243.9,242.3 244.9,242.0 245.9,241.8 246.9,241.6 247.9,241.4 248.9,241.4 249.9,241.4 250.9,241.5 251.9,241.8 252.9,242.2 253.9,242.8 254.9,243.6 255.9,244.5 256.9,245.5 257.9,246.6 258.9,247.6 259.9,248.6 260.9,249.4 261.9,250.2 262.9,251.0 263.9,251.8 264.9,252.6 265.9,253.4 266.9,254.1 267.9,254.8 268.9,255.5 269.9,256.1 270.9,256.6 271.9,257.1 272.9,257.5 273.9,257.9 274.9,258.3 275.9,258.6 276.9,258.9 277.9,259.2 278.9,259.5 279.9,259.7 280.9,259.9 281.9,260.2 282.9,260.4 283.9,260.6 284.9,260.8 285.9,261.0 286.9,261.2 287.9,261.4 288.9,261.6 289.9,261.8 290.9,261.9 291.9,262.0 292.9,262.2 293.9,262.3 294.9,262.5 295.9,262.6 296.9,262.8 297.9,263.1 298.9,263.3 299.9,263.5 300.9,263.8 301.9,264.1 302.9,264.3 303.9,264.6 304.9,264.9 305.9,265.1 306.9,265.4 307.9,265.6 308.9,265.9 309.9,266.1 310.9,266.3 311.9,266.5 312.9,266.7 313.9,266.9 314.9,267.1 315.9,267.2 316.9,267.4 317.9,267.5 318.9,267.7 319.9,267.8 320.9,267.9 321.9,268.1 322.9,268.2 323.9,268.3 324.9,268.5 325.9,268.6 326.9,268.8 327.9,268.9 328.9,269.0 329.9,269.2 330.9,269.3 331.9,269.5 332.9,269.6 333.9,269.7 334.9,269.8 335.9,269.9 336.9,270.0 337.9,270.1 338.9,270.1 339.9,270.2 340.9,270.3 341.9,270.4 342.9,270.4 343.9,270.5 344.9,270.5 345.9,270.6 346.9,270.7 347.9,270.7 348.9,270.7 349.9,270.8 350.9,270.8 351.9,270.8 352.9,270.9 353.9,270.9 354.9,270.9 355.9,270.9 356.9,270.8 357.9,270.8 358.9,270.8 359.9,270.8 360.9,270.7 361.9,270.7 362.9,270.6 363.9,270.6 364.9,270.5 365.9,270.4 366.9,270.3 367.9,270.2 368.9,270.2 369.9,270.1 370.9,269.9 371.9,269.8 372.9,269.7 373.9,269.6 374.9,269.5 375.9,269.3 376.9,269.1 377.9,269.0 378.9,268.8 379.9,268.6 380.9,268.5 381.9,268.3 382.9,268.1 383.9,267.9 384.9,267.7 385.9,267.5 386.9,267.4 387.9,267.2 388.9,267.0 389.9,266.8 390.9,266.7 391.9,266.5 392.9,266.4 393.9,266.2 394.9,266.1 395.9,266.0 396.9,265.8 397.9,265.7 398.9,265.6 399.9,265.5 400.9,265.4 401.9,265.3 402.9,265.2 403.9,265.1 404.9,265.0 405.9,265.0 406.9,264.9 407.9,264.9 408.9,264.9 409.9,265.1 410.9,265.2 411.9,265.3 412.9,265.2 413.9,265.0 414.9,264.8 415.9,264.6 416.9,264.4 417.9,264.1 418.9,263.9 419.9,263.6 420.9,263.4 421.9,263.1 422.9,262.9 423.9,262.6 424.9,262.3 425.9,262.1 426.9,261.8 427.9,261.6 428.9,261.3 429.9,261.1 430.9,260.9 431.9,260.6 432.9,260.4 433.9,260.2 434.9,260.0 435.9,259.9 436.9,259.7 437.9,259.6 438.9,259.4 439.9,259.3 440.9,259.1 441.9,259.0 442.9,258.9 443.9,258.7 444.9,258.6 445.9,258.5 446.9,258.3 447.9,258.2 448.9,258.0 449.9,257.9 450.9,257.7 451.9,257.5 452.9,257.3 453.9,257.1 454.9,256.9 455.9,256.7 456.9,256.4 457.9,256.2 458.9,256.0 459.9,255.7 460.9,255.5 461.9,255.3 462.9,255.2 463.9,255.0 464.9,254.8 465.9,254.7 466.9,254.5 467.9,254.3 468.9,254.2 469.9,254.0 470.9,253.9 471.9,253.7 472.9,253.5 473.9,253.4 474.9,253.2 475.9,253.1 476.9,252.9 477.9,252.8 478.9,252.6 479.9,252.5 480.9,252.3 481.9,252.1 482.9,252.0 483.9,251.8 484.9,251.6 485.9,251.5 486.9,251.3 487.9,251.1 488.9,250.9 489.9,250.7 490.9,250.5 491.9,250.3 492.9,250.0 493.9,249.8 494.9,249.6 495.9,249.4 496.9,249.2 497.9,249.0 498.9,248.7 499.9,248.5 500.9,248.3 501.9,248.1 502.9,248.0 503.9,247.8 504.9,247.6 505.9,247.5 506.9,247.3 507.9,247.2 508.9,247.1 509.9,247.0 510.9,246.9 511.9,246.9 512.9,246.8 513.9,246.8 514.9,246.9 515.9,246.9 516.9,246.9 517.9,247.0 518.9,247.1 519.9,247.2 520.9,247.3 521.9,247.4 522.9,247.5 523.9,247.7 524.9,247.8 525.9,247.9 526.9,248.1 527.9,248.2 528.9,248.4 529.9,248.5 530.9,248.7 531.9,248.8 532.9,249.0 533.9,249.1 534.9,249.3 535.9,249.5 536.9,249.7 537.9,249.9 538.9,250.1 539.9,250.4 540.9,250.6 541.9,250.8 542.9,251.0 543.9,251.2 544.9,251.5 545.9,251.7 546.9,251.9 547.9,252.1 548.9,252.3 549.9,252.5 550.9,252.7 551.9,252.9 552.9,253.1 553.9,253.3 554.9,253.5 555.9,253.7 556.9,253.8 557.9,254.0 558.9,254.2 559.9,254.4 560.9,254.6 561.9,254.8 562.9,255.0 563.9,255.2 564.9,255.4 565.9,255.5 566.9,255.7 567.9,255.8 568.9,256.0 569.9,256.1 570.9,256.3 571.9,256.4 572.9,256.5 573.9,256.7 574.9,256.8 575.9,256.9 576.9,257.0 577.9,257.1 578.9,257.2 579.9,257.2 580.9,257.3 581.9,257.4 582.9,257.5 583.9,257.6 584.9,257.6 585.9,257.7 586.9,257.8 587.9,257.9 588.9,257.9 589.9,258.0 590.9,258.1 591.9,258.2 592.9,258.2 593.9,258.3 594.9,258.4 595.9,258.5 596.9,258.6 597.9,258.7 598.9,258.8 599.9,258.9 600.9,259.0 601.9,259.1 602.9,259.2 603.9,259.3 604.9,259.4 605.9,259.5 606.9,259.7 607.9,259.8 608.9,259.9 609.9,260.0 610.9,260.1 611.9,260.3 612.9,260.4 613.9,260.5 614.9,260.7 615.9,260.8 616.9,260.9 617.9,261.0 618.9,261.2 619.9,261.3 620.9,261.4 621.9,261.5 622.9,261.7 623.9,261.8 624.9,261.9 625.9,262.1 626.9,262.2 627.9,262.3 628.9,262.4 629.9,262.5 630.9,262.6 631.9,262.7 632.9,262.8 633.9,262.9 634.9,263.1 635.9,263.2 636.9,263.3 637.9,263.4 638.9,263.5 639.9,263.7 640.9,263.8 641.9,264.0 642.9,264.1 643.9,264.3 644.9,264.4 645.9,264.6 646.9,264.8 647.9,265.0 648.9,265.2 649.9,265.4 650.9,265.7 651.9,265.9 652.9,266.2 653.9,266.4 654.9,266.7 655.9,267.1 656.9,267.5 657.9,267.9 658.9,268.3 659.9,268.8 660.9,269.4 661.9,269.9 662.9,270.5 663.9,271.2 664.9,271.8 665.9,272.6 666.9,273.4 667.9,274.3 668.9,275.3 669.9,276.4 670.9,277.6 671.9,279.1 672.9,280.9 673.9,282.9 674.9,285.1 675.9,287.2 676.9,289.3 677.9,291.1 678.9,292.6 679.9,293.9 680.9,295.2 681.9,296.3 682.9,297.4 683.9,298.4 684.9,299.5 685.9,300.5 686.9,301.5 687.9,302.5 688.9,303.5 689.9,304.5 690.9,305.5 691.9,306.5 692.9,307.5 693.9,308.4 694.9,309.4 695.9,310.3 696.9,311.3 697.9,312.3 698.9,313.4 699.9,314.4 700.9,315.5 701.9,316.6 702.9,317.7 703.9,318.8 704.9,320.0 705.9,321.1 706.9,322.2 707.9,323.3 708.9,324.5 709.9,325.6 710.5,326.3" fill="none" stroke="#f3d36a" stroke-width="1" opacity="0.5" clip-path="url(#ylw)"/>
<polyline points="218.9,211.6 219.9,212.2 220.9,212.9 221.9,213.7 222.9,214.4 223.9,215.2 224.9,215.9 225.9,216.5 226.9,217.0 227.9,217.3 228.9,217.4 229.9,217.3 230.9,217.1 231.9,216.7 232.9,216.1 233.9,215.5 234.9,214.9 235.9,214.2 236.9,213.5 237.9,212.9 238.9,212.3 239.9,211.8 240.9,211.5 241.9,211.1 242.9,210.8 243.9,210.5 244.9,210.2 245.9,209.9 246.9,209.7 247.9,209.5 248.9,209.4 249.9,209.5 250.9,209.6 251.9,209.8 252.9,210.2 253.9,210.9 254.9,211.7 255.9,212.6 256.9,213.6 257.9,214.7 258.9,215.7 259.9,216.7 260.9,217.5 261.9,218.2 262.9,219.0 263.9,219.8 264.9,220.5 265.9,221.3 266.9,221.9 267.9,222.6 268.9,223.2 269.9,223.8 270.9,224.3 271.9,224.7 272.9,225.1 273.9,225.4 274.9,225.8 275.9,226.1 276.9,226.4 277.9,226.7 278.9,226.9 279.9,227.2 280.9,227.4 281.9,227.6 282.9,227.9 283.9,228.1 284.9,228.3 285.9,228.6 286.9,228.8 287.9,229.0 288.9,229.2 289.9,229.4 290.9,229.6 291.9,229.7 292.9,229.9 293.9,230.1 294.9,230.3 295.9,230.5 296.9,230.8 297.9,231.0 298.9,231.3 299.9,231.6 300.9,232.0 301.9,232.3 302.9,232.6 303.9,232.9 304.9,233.3 305.9,233.6 306.9,233.9 307.9,234.1 308.9,234.4 309.9,234.6 310.9,234.8 311.9,235.0 312.9,235.2 313.9,235.4 314.9,235.5 315.9,235.7 316.9,235.9 317.9,236.0 318.9,236.2 319.9,236.3 320.9,236.5 321.9,236.6 322.9,236.8 323.9,236.9 324.9,237.1 325.9,237.3 326.9,237.4 327.9,237.6 328.9,237.8 329.9,238.0 330.9,238.1 331.9,238.3 332.9,238.5 333.9,238.6 334.9,238.8 335.9,238.9 336.9,239.0 337.9,239.1 338.9,239.2 339.9,239.3 340.9,239.4 341.9,239.5 342.9,239.5 343.9,239.6 344.9,239.7 345.9,239.8 346.9,239.8 347.9,239.9 348.9,239.9 349.9,240.0 350.9,240.0 351.9,240.0 352.9,240.0 353.9,240.0 354.9,240.0 355.9,240.0 356.9,239.9 357.9,239.9 358.9,239.8 359.9,239.7 360.9,239.7 361.9,239.6 362.9,239.5 363.9,239.4 364.9,239.3 365.9,239.2 366.9,239.0 367.9,238.9 368.9,238.8 369.9,238.6 370.9,238.5 371.9,238.3 372.9,238.1 373.9,238.0 374.9,237.8 375.9,237.6 376.9,237.4 377.9,237.1 378.9,236.9 379.9,236.7 380.9,236.5 381.9,236.2 382.9,236.0 383.9,235.7 384.9,235.5 385.9,235.3 386.9,235.0 387.9,234.8 388.9,234.6 389.9,234.3 390.9,234.1 391.9,233.9 392.9,233.7 393.9,233.5 394.9,233.3 395.9,233.1 396.9,232.9 397.9,232.7 398.9,232.5 399.9,232.3 400.9,232.2 401.9,232.0 402.9,231.8 403.9,231.7 404.9,231.5 405.9,231.3 406.9,231.2 407.9,231.0 408.9,230.9 409.9,230.9 410.9,230.9 411.9,230.9 412.9,230.6 413.9,230.3 414.9,229.9 415.9,229.5 416.9,229.0 417.9,228.6 418.9,228.2 419.9,227.7 420.9,227.2 421.9,226.8 422.9,226.3 423.9,225.8 424.9,225.4 425.9,224.9 426.9,224.5 427.9,224.0 428.9,223.6 429.9,223.1 430.9,222.7 431.9,222.3 432.9,221.9 433.9,221.6 434.9,221.2 435.9,220.9 436.9,220.6 437.9,220.3 438.9,220.0 439.9,219.7 440.9,219.4 441.9,219.1 442.9,218.9 443.9,218.6 444.9,218.4 445.9,218.1 446.9,217.8 447.9,217.6 448.9,217.3 449.9,217.0 450.9,216.7 451.9,216.4 452.9,216.1 453.9,215.8 454.9,215.5 455.9,215.2 456.9,214.8 457.9,214.5 458.9,214.2 459.9,213.9 460.9,213.6 461.9,213.3 462.9,213.1 463.9,212.8 464.9,212.5 465.9,212.3 466.9,212.0 467.9,211.8 468.9,211.5 469.9,211.3 470.9,211.0 471.9,210.8 472.9,210.5 473.9,210.3 474.9,210.0 475.9,209.8 476.9,209.6 477.9,209.3 478.9,209.1 479.9,208.8 480.9,208.6 481.9,208.3 482.9,208.1 483.9,207.8 484.9,207.5 485.9,207.3 486.9,207.0 487.9,206.7 488.9,206.4 489.9,206.1 490.9,205.8 491.9,205.4 492.9,205.1 493.9,204.8 494.9,204.5 495.9,204.1 496.9,203.8 497.9,203.5 498.9,203.2 499.9,202.8 500.9,202.5 501.9,202.2 502.9,202.0 503.9,201.7 504.9,201.4 505.9,201.2 506.9,201.0 507.9,200.8 508.9,200.6 509.9,200.4 510.9,200.3 511.9,200.2 512.9,200.1 513.9,200.0 514.9,200.0 515.9,200.0 516.9,200.0 517.9,200.1 518.9,200.1 519.9,200.2 520.9,200.3 521.9,200.4 522.9,200.5 523.9,200.6 524.9,200.8 525.9,200.9 526.9,201.0 527.9,201.2 528.9,201.3 529.9,201.5 530.9,201.6 531.9,201.7 532.9,201.9 533.9,202.1 534.9,202.2 535.9,202.4 536.9,202.7 537.9,202.9 538.9,203.1 539.9,203.3 540.9,203.6 541.9,203.8 542.9,204.0 543.9,204.3 544.9,204.5 545.9,204.7 546.9,205.0 547.9,205.2 548.9,205.4 549.9,205.6 550.9,205.8 551.9,206.0 552.9,206.2 553.9,206.5 554.9,206.7 555.9,206.9 556.9,207.1 557.9,207.3 558.9,207.6 559.9,207.8 560.9,208.0 561.9,208.2 562.9,208.4 563.9,208.6 564.9,208.8 565.9,209.0 566.9,209.2 567.9,209.4 568.9,209.5 569.9,209.7 570.9,209.9 571.9,210.0 572.9,210.2 573.9,210.3 574.9,210.4 575.9,210.6 576.9,210.7 577.9,210.8 578.9,210.9 579.9,211.0 580.9,211.1 581.9,211.2 582.9,211.3 583.9,211.4 584.9,211.5 585.9,211.6 586.9,211.7 587.9,211.8 588.9,211.9 589.9,212.0 590.9,212.1 591.9,212.1 592.9,212.2 593.9,212.3 594.9,212.4 595.9,212.6 596.9,212.7 597.9,212.8 598.9,212.9 599.9,213.0 600.9,213.2 601.9,213.3 602.9,213.4 603.9,213.6 604.9,213.7 605.9,213.8 606.9,214.0 607.9,214.1 608.9,214.3 609.9,214.4 610.9,214.6 611.9,214.7 612.9,214.9 613.9,215.0 614.9,215.2 615.9,215.4 616.9,215.5 617.9,215.7 618.9,215.8 619.9,216.0 620.9,216.2 621.9,216.3 622.9,216.5 623.9,216.6 624.9,216.8 625.9,216.9 626.9,217.1 627.9,217.2 628.9,217.4 629.9,217.5 630.9,217.7 631.9,217.8 632.9,217.9 633.9,218.1 634.9,218.2 635.9,218.3 636.9,218.5 637.9,218.6 638.9,218.8 639.9,219.0 640.9,219.1 641.9,219.3 642.9,219.5 643.9,219.7 644.9,219.9 645.9,220.1 646.9,220.3 647.9,220.6 648.9,220.8 649.9,221.1 650.9,221.4 651.9,221.7 652.9,222.0 653.9,222.3 654.9,222.7 655.9,223.1 656.9,223.6 657.9,224.1 658.9,224.6 659.9,225.2 660.9,225.9 661.9,226.6 662.9,227.3 663.9,228.1 664.9,228.9 665.9,229.8 666.9,230.9 667.9,232.0 668.9,233.2 669.9,234.6 670.9,236.1 671.9,237.9 672.9,240.2 673.9,242.7 674.9,245.3 675.9,248.0 676.9,250.4 677.9,252.6 678.9,254.5 679.9,256.1 680.9,257.7 681.9,259.1 682.9,260.5 683.9,261.8 684.9,263.0 685.9,264.3 686.9,265.5 687.9,266.8 688.9,268.1 689.9,269.4 690.9,270.7 691.9,271.9 692.9,273.1 693.9,274.3 694.9,275.5 695.9,276.7 696.9,278.0 697.9,279.3 698.9,280.6 699.9,281.9 700.9,283.3 701.9,284.7 702.9,286.0 703.9,287.5 704.9,288.9 705.9,290.3 706.9,291.7 707.9,293.1 708.9,294.5 709.9,296.0 710.5,296.8" fill="none" stroke="#c21f26" stroke-width="1.6" stroke-linejoin="round"/>
<polyline points="218.9,211.6 219.9,212.2 220.9,212.9 221.9,213.7 222.9,214.4 223.9,215.2 224.9,215.9 225.9,216.5 226.9,217.0 227.9,217.3 228.9,217.4 229.9,217.3 230.9,217.1 231.9,216.7 232.9,216.1 233.9,215.5 234.9,214.9 235.9,214.2 236.9,213.5 237.9,212.9 238.9,212.3 239.9,211.8 240.9,211.5 241.9,211.1 242.9,210.8 243.9,210.5 244.9,210.2 245.9,209.9 246.9,209.7 247.9,209.5 248.9,209.4 249.9,209.5 250.9,209.6 251.9,209.8 252.9,210.2 253.9,210.9 254.9,211.7 255.9,212.6 256.9,213.6 257.9,214.7 258.9,215.7 259.9,216.7 260.9,217.5 261.9,218.2 262.9,219.0 263.9,219.8 264.9,220.5 265.9,221.3 266.9,221.9 267.9,222.6 268.9,223.2 269.9,223.8 270.9,224.3 271.9,224.7 272.9,225.1 273.9,225.4 274.9,225.8 275.9,226.1 276.9,226.4 277.9,226.7 278.9,226.9 279.9,227.2 280.9,227.4 281.9,227.6 282.9,227.9 283.9,228.1 284.9,228.3 285.9,228.6 286.9,228.8 287.9,229.0 288.9,229.2 289.9,229.4 290.9,229.6 291.9,229.7 292.9,229.9 293.9,230.1 294.9,230.3 295.9,230.5 296.9,230.8 297.9,231.0 298.9,231.3 299.9,231.6 300.9,232.0 301.9,232.3 302.9,232.6 303.9,232.9 304.9,233.3 305.9,233.6 306.9,233.9 307.9,234.1 308.9,234.4 309.9,234.6 310.9,234.8 311.9,235.0 312.9,235.2 313.9,235.4 314.9,235.5 315.9,235.7 316.9,235.9 317.9,236.0 318.9,236.2 319.9,236.3 320.9,236.5 321.9,236.6 322.9,236.8 323.9,236.9 324.9,237.1 325.9,237.3 326.9,237.4 327.9,237.6 328.9,237.8 329.9,238.0 330.9,238.1 331.9,238.3 332.9,238.5 333.9,238.6 334.9,238.8 335.9,238.9 336.9,239.0 337.9,239.1 338.9,239.2 339.9,239.3 340.9,239.4 341.9,239.5 342.9,239.5 343.9,239.6 344.9,239.7 345.9,239.8 346.9,239.8 347.9,239.9 348.9,239.9 349.9,240.0 350.9,240.0 351.9,240.0 352.9,240.0 353.9,240.0 354.9,240.0 355.9,240.0 356.9,239.9 357.9,239.9 358.9,239.8 359.9,239.7 360.9,239.7 361.9,239.6 362.9,239.5 363.9,239.4 364.9,239.3 365.9,239.2 366.9,239.0 367.9,238.9 368.9,238.8 369.9,238.6 370.9,238.5 371.9,238.3 372.9,238.1 373.9,238.0 374.9,237.8 375.9,237.6 376.9,237.4 377.9,237.1 378.9,236.9 379.9,236.7 380.9,236.5 381.9,236.2 382.9,236.0 383.9,235.7 384.9,235.5 385.9,235.3 386.9,235.0 387.9,234.8 388.9,234.6 389.9,234.3 390.9,234.1 391.9,233.9 392.9,233.7 393.9,233.5 394.9,233.3 395.9,233.1 396.9,232.9 397.9,232.7 398.9,232.5 399.9,232.3 400.9,232.2 401.9,232.0 402.9,231.8 403.9,231.7 404.9,231.5 405.9,231.3 406.9,231.2 407.9,231.0 408.9,230.9 409.9,230.9 410.9,230.9 411.9,230.9 412.9,230.6 413.9,230.3 414.9,229.9 415.9,229.5 416.9,229.0 417.9,228.6 418.9,228.2 419.9,227.7 420.9,227.2 421.9,226.8 422.9,226.3 423.9,225.8 424.9,225.4 425.9,224.9 426.9,224.5 427.9,224.0 428.9,223.6 429.9,223.1 430.9,222.7 431.9,222.3 432.9,221.9 433.9,221.6 434.9,221.2 435.9,220.9 436.9,220.6 437.9,220.3 438.9,220.0 439.9,219.7 440.9,219.4 441.9,219.1 442.9,218.9 443.9,218.6 444.9,218.4 445.9,218.1 446.9,217.8 447.9,217.6 448.9,217.3 449.9,217.0 450.9,216.7 451.9,216.4 452.9,216.1 453.9,215.8 454.9,215.5 455.9,215.2 456.9,214.8 457.9,214.5 458.9,214.2 459.9,213.9 460.9,213.6 461.9,213.3 462.9,213.1 463.9,212.8 464.9,212.5 465.9,212.3 466.9,212.0 467.9,211.8 468.9,211.5 469.9,211.3 470.9,211.0 471.9,210.8 472.9,210.5 473.9,210.3 474.9,210.0 475.9,209.8 476.9,209.6 477.9,209.3 478.9,209.1 479.9,208.8 480.9,208.6 481.9,208.3 482.9,208.1 483.9,207.8 484.9,207.5 485.9,207.3 486.9,207.0 487.9,206.7 488.9,206.4 489.9,206.1 490.9,205.8 491.9,205.4 492.9,205.1 493.9,204.8 494.9,204.5 495.9,204.1 496.9,203.8 497.9,203.5 498.9,203.2 499.9,202.8 500.9,202.5 501.9,202.2 502.9,202.0 503.9,201.7 504.9,201.4 505.9,201.2 506.9,201.0 507.9,200.8 508.9,200.6 509.9,200.4 510.9,200.3 511.9,200.2 512.9,200.1 513.9,200.0 514.9,200.0 515.9,200.0 516.9,200.0 517.9,200.1 518.9,200.1 519.9,200.2 520.9,200.3 521.9,200.4 522.9,200.5 523.9,200.6 524.9,200.8 525.9,200.9 526.9,201.0 527.9,201.2 528.9,201.3 529.9,201.5 530.9,201.6 531.9,201.7 532.9,201.9 533.9,202.1 534.9,202.2 535.9,202.4 536.9,202.7 537.9,202.9 538.9,203.1 539.9,203.3 540.9,203.6 541.9,203.8 542.9,204.0 543.9,204.3 544.9,204.5 545.9,204.7 546.9,205.0 547.9,205.2 548.9,205.4 549.9,205.6 550.9,205.8 551.9,206.0 552.9,206.2 553.9,206.5 554.9,206.7 555.9,206.9 556.9,207.1 557.9,207.3 558.9,207.6 559.9,207.8 560.9,208.0 561.9,208.2 562.9,208.4 563.9,208.6 564.9,208.8 565.9,209.0 566.9,209.2 567.9,209.4 568.9,209.5 569.9,209.7 570.9,209.9 571.9,210.0 572.9,210.2 573.9,210.3 574.9,210.4 575.9,210.6 576.9,210.7 577.9,210.8 578.9,210.9 579.9,211.0 580.9,211.1 581.9,211.2 582.9,211.3 583.9,211.4 584.9,211.5 585.9,211.6 586.9,211.7 587.9,211.8 588.9,211.9 589.9,212.0 590.9,212.1 591.9,212.1 592.9,212.2 593.9,212.3 594.9,212.4 595.9,212.6 596.9,212.7 597.9,212.8 598.9,212.9 599.9,213.0 600.9,213.2 601.9,213.3 602.9,213.4 603.9,213.6 604.9,213.7 605.9,213.8 606.9,214.0 607.9,214.1 608.9,214.3 609.9,214.4 610.9,214.6 611.9,214.7 612.9,214.9 613.9,215.0 614.9,215.2 615.9,215.4 616.9,215.5 617.9,215.7 618.9,215.8 619.9,216.0 620.9,216.2 621.9,216.3 622.9,216.5 623.9,216.6 624.9,216.8 625.9,216.9 626.9,217.1 627.9,217.2 628.9,217.4 629.9,217.5 630.9,217.7 631.9,217.8 632.9,217.9 633.9,218.1 634.9,218.2 635.9,218.3 636.9,218.5 637.9,218.6 638.9,218.8 639.9,219.0 640.9,219.1 641.9,219.3 642.9,219.5 643.9,219.7 644.9,219.9 645.9,220.1 646.9,220.3 647.9,220.6 648.9,220.8 649.9,221.1 650.9,221.4 651.9,221.7 652.9,222.0 653.9,222.3 654.9,222.7 655.9,223.1 656.9,223.6 657.9,224.1 658.9,224.6 659.9,225.2 660.9,225.9 661.9,226.6 662.9,227.3 663.9,228.1 664.9,228.9 665.9,229.8 666.9,230.9 667.9,232.0 668.9,233.2 669.9,234.6 670.9,236.1 671.9,237.9 672.9,240.2 673.9,242.7 674.9,245.3 675.9,248.0 676.9,250.4 677.9,252.6 678.9,254.5 679.9,256.1 680.9,257.7 681.9,259.1 682.9,260.5 683.9,261.8 684.9,263.0 685.9,264.3 686.9,265.5 687.9,266.8 688.9,268.1 689.9,269.4 690.9,270.7 691.9,271.9 692.9,273.1 693.9,274.3 694.9,275.5 695.9,276.7 696.9,278.0 697.9,279.3 698.9,280.6 699.9,281.9 700.9,283.3 701.9,284.7 702.9,286.0 703.9,287.5 704.9,288.9 705.9,290.3 706.9,291.7 707.9,293.1 708.9,294.5 709.9,296.0 710.5,296.8" fill="none" stroke="#e8600c" stroke-width="2" stroke-linejoin="round" clip-path="url(#ylw)"/>
<line x1="76.1" y1="334.5" x2="76.1" y2="339.3" stroke="#14a285" stroke-width="0.9"/>
<rect x="75.0" y="335.6" width="2.2" height="3.0" fill="#14a285"/>
<line x1="78.6" y1="333.7" x2="78.6" y2="343.2" stroke="#ee4657" stroke-width="0.9"/>
<rect x="77.5" y="335.6" width="2.2" height="7.1" fill="#ee4657"/>
<line x1="81.0" y1="331.0" x2="81.0" y2="345.0" stroke="#14a285" stroke-width="0.9"/>
<rect x="79.9" y="335.6" width="2.2" height="7.1" fill="#14a285"/>
<line x1="83.4" y1="335.2" x2="83.4" y2="346.1" stroke="#ee4657" stroke-width="0.9"/>
<rect x="82.3" y="335.6" width="2.2" height="8.9" fill="#ee4657"/>
<line x1="85.9" y1="344.1" x2="85.9" y2="358.3" stroke="#ee4657" stroke-width="0.9"/>
<rect x="84.8" y="344.5" width="2.2" height="12.4" fill="#ee4657"/>
<line x1="88.3" y1="356.4" x2="88.3" y2="359.1" stroke="#ee4657" stroke-width="0.9"/>
<rect x="87.2" y="356.9" width="2.2" height="1.7" fill="#ee4657"/>
<line x1="90.7" y1="357.2" x2="90.7" y2="380.4" stroke="#ee4657" stroke-width="0.9"/>
<rect x="89.6" y="358.6" width="2.2" height="19.4" fill="#ee4657"/>
<line x1="93.2" y1="376.9" x2="93.2" y2="379.4" stroke="#ee4657" stroke-width="0.9"/>
<rect x="92.1" y="377.5" width="2.2" height="1.0" fill="#ee4657"/>
<line x1="95.6" y1="376.1" x2="95.6" y2="387.8" stroke="#ee4657" stroke-width="0.9"/>
<rect x="94.5" y="378.0" width="2.2" height="5.4" fill="#ee4657"/>
<line x1="98.0" y1="369.3" x2="98.0" y2="384.7" stroke="#14a285" stroke-width="0.9"/>
<rect x="96.9" y="371.0" width="2.2" height="12.4" fill="#14a285"/>
<line x1="100.5" y1="364.8" x2="100.5" y2="371.4" stroke="#14a285" stroke-width="0.9"/>
<rect x="99.4" y="367.5" width="2.2" height="3.5" fill="#14a285"/>
<line x1="102.9" y1="364.6" x2="102.9" y2="369.0" stroke="#ee4657" stroke-width="0.9"/>
<rect x="101.8" y="367.0" width="2.2" height="1.0" fill="#ee4657"/>
<line x1="105.3" y1="365.0" x2="105.3" y2="368.1" stroke="#14a285" stroke-width="0.9"/>
<rect x="104.2" y="365.7" width="2.2" height="1.8" fill="#14a285"/>
<line x1="107.7" y1="364.6" x2="107.7" y2="380.3" stroke="#ee4657" stroke-width="0.9"/>
<rect x="106.6" y="365.7" width="2.2" height="12.3" fill="#ee4657"/>
<line x1="110.2" y1="364.9" x2="110.2" y2="379.8" stroke="#14a285" stroke-width="0.9"/>
<rect x="109.1" y="365.7" width="2.2" height="12.3" fill="#14a285"/>
<line x1="112.6" y1="361.1" x2="112.6" y2="366.9" stroke="#14a285" stroke-width="0.9"/>
<rect x="111.5" y="363.0" width="2.2" height="2.7" fill="#14a285"/>
<line x1="115.0" y1="361.3" x2="115.0" y2="365.5" stroke="#ee4657" stroke-width="0.9"/>
<rect x="113.9" y="363.0" width="2.2" height="2.0" fill="#ee4657"/>
<line x1="117.5" y1="362.6" x2="117.5" y2="365.8" stroke="#14a285" stroke-width="0.9"/>
<rect x="116.4" y="363.0" width="2.2" height="2.0" fill="#14a285"/>
<line x1="119.9" y1="361.0" x2="119.9" y2="366.2" stroke="#ee4657" stroke-width="0.9"/>
<rect x="118.8" y="363.0" width="2.2" height="1.8" fill="#ee4657"/>
<line x1="122.3" y1="360.9" x2="122.3" y2="366.6" stroke="#14a285" stroke-width="0.9"/>
<rect x="121.2" y="362.0" width="2.2" height="2.8" fill="#14a285"/>
<line x1="124.8" y1="360.6" x2="124.8" y2="365.0" stroke="#ee4657" stroke-width="0.9"/>
<rect x="123.7" y="362.0" width="2.2" height="2.0" fill="#ee4657"/>
<line x1="127.2" y1="358.7" x2="127.2" y2="366.0" stroke="#14a285" stroke-width="0.9"/>
<rect x="126.1" y="361.0" width="2.2" height="3.0" fill="#14a285"/>
<line x1="129.6" y1="360.1" x2="129.6" y2="367.7" stroke="#ee4657" stroke-width="0.9"/>
<rect x="128.5" y="361.0" width="2.2" height="5.0" fill="#ee4657"/>
<line x1="132.1" y1="362.4" x2="132.1" y2="368.5" stroke="#14a285" stroke-width="0.9"/>
<rect x="131.0" y="364.0" width="2.2" height="2.0" fill="#14a285"/>
<line x1="134.5" y1="361.9" x2="134.5" y2="371.0" stroke="#ee4657" stroke-width="0.9"/>
<rect x="133.4" y="364.0" width="2.2" height="6.0" fill="#ee4657"/>
<line x1="136.9" y1="361.2" x2="136.9" y2="370.6" stroke="#14a285" stroke-width="0.9"/>
<rect x="135.8" y="364.0" width="2.2" height="6.0" fill="#14a285"/>
<line x1="139.4" y1="361.7" x2="139.4" y2="366.2" stroke="#14a285" stroke-width="0.9"/>
<rect x="138.3" y="363.0" width="2.2" height="1.0" fill="#14a285"/>
<line x1="141.8" y1="362.3" x2="141.8" y2="365.5" stroke="#ee4657" stroke-width="0.9"/>
<rect x="140.7" y="363.0" width="2.2" height="1.0" fill="#ee4657"/>
<line x1="144.2" y1="360.0" x2="144.2" y2="366.0" stroke="#14a285" stroke-width="0.9"/>
<rect x="143.1" y="360.4" width="2.2" height="3.6" fill="#14a285"/>
<line x1="146.7" y1="352.5" x2="146.7" y2="369.2" stroke="#ee4657" stroke-width="0.9"/>
<rect x="145.6" y="360.4" width="2.2" height="7.1" fill="#ee4657"/>
<line x1="149.1" y1="355.3" x2="149.1" y2="368.6" stroke="#14a285" stroke-width="0.9"/>
<rect x="148.0" y="357.8" width="2.2" height="9.7" fill="#14a285"/>
<line x1="151.5" y1="352.0" x2="151.5" y2="359.6" stroke="#14a285" stroke-width="0.9"/>
<rect x="150.4" y="354.0" width="2.2" height="3.8" fill="#14a285"/>
<line x1="153.9" y1="351.5" x2="153.9" y2="355.6" stroke="#14a285" stroke-width="0.9"/>
<rect x="152.8" y="353.2" width="2.2" height="1.0" fill="#14a285"/>
<line x1="156.4" y1="351.0" x2="156.4" y2="366.0" stroke="#ee4657" stroke-width="0.9"/>
<rect x="155.3" y="353.4" width="2.2" height="9.6" fill="#ee4657"/>
<line x1="158.8" y1="356.3" x2="158.8" y2="365.0" stroke="#14a285" stroke-width="0.9"/>
<rect x="157.7" y="357.8" width="2.2" height="5.2" fill="#14a285"/>
<line x1="161.2" y1="350.2" x2="161.2" y2="359.9" stroke="#14a285" stroke-width="0.9"/>
<rect x="160.1" y="350.7" width="2.2" height="7.1" fill="#14a285"/>
<line x1="163.7" y1="346.1" x2="163.7" y2="353.5" stroke="#14a285" stroke-width="0.9"/>
<rect x="162.6" y="348.0" width="2.2" height="2.7" fill="#14a285"/>
<line x1="166.1" y1="336.8" x2="166.1" y2="349.0" stroke="#14a285" stroke-width="0.9"/>
<rect x="165.0" y="339.2" width="2.2" height="8.8" fill="#14a285"/>
<line x1="168.5" y1="328.7" x2="168.5" y2="341.2" stroke="#14a285" stroke-width="0.9"/>
<rect x="167.4" y="330.0" width="2.2" height="9.2" fill="#14a285"/>
<line x1="171.0" y1="324.6" x2="171.0" y2="331.5" stroke="#14a285" stroke-width="0.9"/>
<rect x="169.9" y="325.0" width="2.2" height="5.0" fill="#14a285"/>
<line x1="173.4" y1="320.0" x2="173.4" y2="334.0" stroke="#ee4657" stroke-width="0.9"/>
<rect x="172.3" y="325.0" width="2.2" height="8.0" fill="#ee4657"/>
<line x1="175.8" y1="326.6" x2="175.8" y2="335.2" stroke="#14a285" stroke-width="0.9"/>
<rect x="174.7" y="327.0" width="2.2" height="6.0" fill="#14a285"/>
<line x1="178.3" y1="309.4" x2="178.3" y2="327.9" stroke="#14a285" stroke-width="0.9"/>
<rect x="177.2" y="310.0" width="2.2" height="17.0" fill="#14a285"/>
<line x1="180.7" y1="294.2" x2="180.7" y2="312.5" stroke="#14a285" stroke-width="0.9"/>
<rect x="179.6" y="295.5" width="2.2" height="14.5" fill="#14a285"/>
<line x1="183.1" y1="258.8" x2="183.1" y2="296.9" stroke="#14a285" stroke-width="0.9"/>
<rect x="182.0" y="259.3" width="2.2" height="36.2" fill="#14a285"/>
<line x1="185.6" y1="256.0" x2="185.6" y2="261.8" stroke="#14a285" stroke-width="0.9"/>
<rect x="184.5" y="257.7" width="2.2" height="1.6" fill="#14a285"/>
<line x1="188.0" y1="237.3" x2="188.0" y2="260.2" stroke="#14a285" stroke-width="0.9"/>
<rect x="186.9" y="239.6" width="2.2" height="18.1" fill="#14a285"/>
<line x1="190.4" y1="216.6" x2="190.4" y2="240.9" stroke="#14a285" stroke-width="0.9"/>
<rect x="189.3" y="218.2" width="2.2" height="21.4" fill="#14a285"/>
<line x1="192.9" y1="217.0" x2="192.9" y2="285.6" stroke="#ee4657" stroke-width="0.9"/>
<rect x="191.8" y="218.2" width="2.2" height="32.8" fill="#ee4657"/>
<line x1="195.3" y1="248.3" x2="195.3" y2="286.3" stroke="#ee4657" stroke-width="0.9"/>
<rect x="194.2" y="251.0" width="2.2" height="34.6" fill="#ee4657"/>
<line x1="197.7" y1="284.9" x2="197.7" y2="302.9" stroke="#ee4657" stroke-width="0.9"/>
<rect x="196.6" y="285.6" width="2.2" height="16.4" fill="#ee4657"/>
<line x1="200.1" y1="301.1" x2="200.1" y2="305.2" stroke="#ee4657" stroke-width="0.9"/>
<rect x="199.0" y="302.0" width="2.2" height="1.7" fill="#ee4657"/>
<line x1="202.6" y1="301.9" x2="202.6" y2="336.6" stroke="#ee4657" stroke-width="0.9"/>
<rect x="201.5" y="303.7" width="2.2" height="11.6" fill="#ee4657"/>
<line x1="205.0" y1="315.0" x2="205.0" y2="318.3" stroke="#ee4657" stroke-width="0.9"/>
<rect x="203.9" y="315.3" width="2.2" height="1.7" fill="#ee4657"/>
<line x1="207.4" y1="302.5" x2="207.4" y2="318.7" stroke="#14a285" stroke-width="0.9"/>
<rect x="206.3" y="303.7" width="2.2" height="13.3" fill="#14a285"/>
<line x1="209.9" y1="296.1" x2="209.9" y2="305.7" stroke="#14a285" stroke-width="0.9"/>
<rect x="208.8" y="298.8" width="2.2" height="4.9" fill="#14a285"/>
<line x1="212.3" y1="297.2" x2="212.3" y2="310.5" stroke="#ee4657" stroke-width="0.9"/>
<rect x="211.2" y="298.8" width="2.2" height="9.9" fill="#ee4657"/>
<line x1="214.7" y1="287.0" x2="214.7" y2="309.1" stroke="#14a285" stroke-width="0.9"/>
<rect x="213.6" y="289.0" width="2.2" height="19.7" fill="#14a285"/>
<line x1="217.2" y1="286.5" x2="217.2" y2="317.5" stroke="#ee4657" stroke-width="0.9"/>
<rect x="216.1" y="289.0" width="2.2" height="26.3" fill="#ee4657"/>
<line x1="219.6" y1="312.3" x2="219.6" y2="318.1" stroke="#ee4657" stroke-width="0.9"/>
<rect x="218.5" y="314.8" width="2.2" height="1.0" fill="#ee4657"/>
<line x1="222.0" y1="295.7" x2="222.0" y2="316.6" stroke="#14a285" stroke-width="0.9"/>
<rect x="220.9" y="297.0" width="2.2" height="18.3" fill="#14a285"/>
<line x1="224.5" y1="252.2" x2="224.5" y2="298.9" stroke="#14a285" stroke-width="0.9"/>
<rect x="223.4" y="252.8" width="2.2" height="44.2" fill="#14a285"/>
<line x1="226.9" y1="250.7" x2="226.9" y2="253.3" stroke="#14a285" stroke-width="0.9"/>
<rect x="225.8" y="251.2" width="2.2" height="1.7" fill="#14a285"/>
<line x1="229.3" y1="234.7" x2="229.3" y2="251.9" stroke="#14a285" stroke-width="0.9"/>
<rect x="228.2" y="249.5" width="2.2" height="1.7" fill="#14a285"/>
<line x1="231.8" y1="234.7" x2="231.8" y2="307.0" stroke="#ee4657" stroke-width="0.9"/>
<rect x="230.7" y="249.5" width="2.2" height="37.8" fill="#ee4657"/>
<line x1="234.2" y1="287.0" x2="234.2" y2="290.7" stroke="#ee4657" stroke-width="0.9"/>
<rect x="233.1" y="287.3" width="2.2" height="2.7" fill="#ee4657"/>
<line x1="236.6" y1="279.0" x2="236.6" y2="351.0" stroke="#ee4657" stroke-width="0.9"/>
<rect x="235.5" y="290.0" width="2.2" height="48.0" fill="#ee4657"/>
<line x1="239.1" y1="311.6" x2="239.1" y2="340.5" stroke="#14a285" stroke-width="0.9"/>
<rect x="238.0" y="312.0" width="2.2" height="26.0" fill="#14a285"/>
<line x1="241.5" y1="310.2" x2="241.5" y2="325.7" stroke="#ee4657" stroke-width="0.9"/>
<rect x="240.4" y="312.0" width="2.2" height="13.0" fill="#ee4657"/>
<line x1="243.9" y1="311.1" x2="243.9" y2="326.2" stroke="#14a285" stroke-width="0.9"/>
<rect x="242.8" y="312.0" width="2.2" height="13.0" fill="#14a285"/>
<line x1="246.4" y1="310.8" x2="246.4" y2="345.6" stroke="#ee4657" stroke-width="0.9"/>
<rect x="245.3" y="312.0" width="2.2" height="33.0" fill="#ee4657"/>
<line x1="248.8" y1="342.6" x2="248.8" y2="374.0" stroke="#ee4657" stroke-width="0.9"/>
<rect x="247.7" y="345.0" width="2.2" height="17.0" fill="#ee4657"/>
<line x1="251.2" y1="310.0" x2="251.2" y2="371.0" stroke="#14a285" stroke-width="0.9"/>
<rect x="250.1" y="336.0" width="2.2" height="26.0" fill="#14a285"/>
<line x1="253.6" y1="309.0" x2="253.6" y2="362.6" stroke="#ee4657" stroke-width="0.9"/>
<rect x="252.5" y="336.0" width="2.2" height="26.0" fill="#ee4657"/>
<line x1="256.1" y1="360.8" x2="256.1" y2="386.0" stroke="#ee4657" stroke-width="0.9"/>
<rect x="255.0" y="362.0" width="2.2" height="23.0" fill="#ee4657"/>
<line x1="258.5" y1="382.6" x2="258.5" y2="394.7" stroke="#ee4657" stroke-width="0.9"/>
<rect x="257.4" y="385.0" width="2.2" height="9.0" fill="#ee4657"/>
<line x1="260.9" y1="393.6" x2="260.9" y2="407.7" stroke="#ee4657" stroke-width="0.9"/>
<rect x="259.8" y="394.0" width="2.2" height="11.0" fill="#ee4657"/>
<line x1="263.4" y1="399.4" x2="263.4" y2="405.7" stroke="#14a285" stroke-width="0.9"/>
<rect x="262.3" y="401.0" width="2.2" height="4.0" fill="#14a285"/>
<line x1="265.8" y1="399.3" x2="265.8" y2="420.4" stroke="#ee4657" stroke-width="0.9"/>
<rect x="264.7" y="401.0" width="2.2" height="19.0" fill="#ee4657"/>
<line x1="268.2" y1="418.4" x2="268.2" y2="442.7" stroke="#ee4657" stroke-width="0.9"/>
<rect x="267.1" y="420.0" width="2.2" height="20.0" fill="#ee4657"/>
<line x1="270.7" y1="437.5" x2="270.7" y2="450.0" stroke="#ee4657" stroke-width="0.9"/>
<rect x="269.6" y="440.0" width="2.2" height="8.0" fill="#ee4657"/>
<line x1="273.1" y1="417.0" x2="273.1" y2="449.2" stroke="#14a285" stroke-width="0.9"/>
<rect x="272.0" y="418.0" width="2.2" height="30.0" fill="#14a285"/>
<line x1="275.5" y1="411.3" x2="275.5" y2="420.2" stroke="#14a285" stroke-width="0.9"/>
<rect x="274.4" y="412.0" width="2.2" height="6.0" fill="#14a285"/>
<line x1="278.0" y1="410.4" x2="278.0" y2="422.2" stroke="#ee4657" stroke-width="0.9"/>
<rect x="276.9" y="412.0" width="2.2" height="8.0" fill="#ee4657"/>
<line x1="280.4" y1="418.4" x2="280.4" y2="421.4" stroke="#ee4657" stroke-width="0.9"/>
<rect x="279.3" y="419.5" width="2.2" height="1.0" fill="#ee4657"/>
<line x1="282.8" y1="417.7" x2="282.8" y2="427.8" stroke="#ee4657" stroke-width="0.9"/>
<rect x="281.7" y="420.0" width="2.2" height="5.0" fill="#ee4657"/>
<line x1="285.3" y1="422.6" x2="285.3" y2="431.3" stroke="#ee4657" stroke-width="0.9"/>
<rect x="284.2" y="425.0" width="2.2" height="4.0" fill="#ee4657"/>
<line x1="287.7" y1="426.7" x2="287.7" y2="433.1" stroke="#ee4657" stroke-width="0.9"/>
<rect x="286.6" y="429.0" width="2.2" height="2.0" fill="#ee4657"/>
<line x1="290.1" y1="413.1" x2="290.1" y2="432.6" stroke="#14a285" stroke-width="0.9"/>
<rect x="289.0" y="414.0" width="2.2" height="17.0" fill="#14a285"/>
<line x1="292.6" y1="406.3" x2="292.6" y2="414.4" stroke="#14a285" stroke-width="0.9"/>
<rect x="291.5" y="407.5" width="2.2" height="6.5" fill="#14a285"/>
<line x1="295.0" y1="406.4" x2="295.0" y2="408.7" stroke="#14a285" stroke-width="0.9"/>
<rect x="293.9" y="406.8" width="2.2" height="1.0" fill="#14a285"/>
<line x1="297.4" y1="402.1" x2="297.4" y2="409.0" stroke="#14a285" stroke-width="0.9"/>
<rect x="296.3" y="403.0" width="2.2" height="4.0" fill="#14a285"/>
<line x1="299.8" y1="396.3" x2="299.8" y2="404.4" stroke="#14a285" stroke-width="0.9"/>
<rect x="298.7" y="399.0" width="2.2" height="4.0" fill="#14a285"/>
<line x1="302.3" y1="385.4" x2="302.3" y2="401.8" stroke="#14a285" stroke-width="0.9"/>
<rect x="301.2" y="388.0" width="2.2" height="11.0" fill="#14a285"/>
<line x1="304.7" y1="385.3" x2="304.7" y2="404.2" stroke="#ee4657" stroke-width="0.9"/>
<rect x="303.6" y="388.0" width="2.2" height="15.0" fill="#ee4657"/>
<line x1="307.1" y1="402.1" x2="307.1" y2="410.6" stroke="#ee4657" stroke-width="0.9"/>
<rect x="306.0" y="403.0" width="2.2" height="6.7" fill="#ee4657"/>
<line x1="309.6" y1="408.9" x2="309.6" y2="427.8" stroke="#ee4657" stroke-width="0.9"/>
<rect x="308.5" y="409.7" width="2.2" height="17.3" fill="#ee4657"/>
<line x1="312.0" y1="423.1" x2="312.0" y2="429.6" stroke="#14a285" stroke-width="0.9"/>
<rect x="310.9" y="425.0" width="2.2" height="2.0" fill="#14a285"/>
<line x1="314.4" y1="422.6" x2="314.4" y2="439.1" stroke="#ee4657" stroke-width="0.9"/>
<rect x="313.3" y="425.0" width="2.2" height="12.6" fill="#ee4657"/>
<line x1="316.9" y1="435.7" x2="316.9" y2="442.3" stroke="#ee4657" stroke-width="0.9"/>
<rect x="315.8" y="437.6" width="2.2" height="2.4" fill="#ee4657"/>
<line x1="319.3" y1="422.1" x2="319.3" y2="442.0" stroke="#14a285" stroke-width="0.9"/>
<rect x="318.2" y="422.6" width="2.2" height="17.4" fill="#14a285"/>
<line x1="321.7" y1="419.2" x2="321.7" y2="425.1" stroke="#14a285" stroke-width="0.9"/>
<rect x="320.6" y="421.8" width="2.2" height="1.0" fill="#14a285"/>
<line x1="324.2" y1="419.8" x2="324.2" y2="436.0" stroke="#ee4657" stroke-width="0.9"/>
<rect x="323.1" y="422.0" width="2.2" height="12.5" fill="#ee4657"/>
<line x1="326.6" y1="431.3" x2="326.6" y2="436.8" stroke="#14a285" stroke-width="0.9"/>
<rect x="325.5" y="432.0" width="2.2" height="2.5" fill="#14a285"/>
<line x1="329.0" y1="419.4" x2="329.0" y2="434.3" stroke="#14a285" stroke-width="0.9"/>
<rect x="327.9" y="420.5" width="2.2" height="11.5" fill="#14a285"/>
<line x1="331.5" y1="416.6" x2="331.5" y2="421.8" stroke="#14a285" stroke-width="0.9"/>
<rect x="330.4" y="419.3" width="2.2" height="1.2" fill="#14a285"/>
<line x1="333.9" y1="418.0" x2="333.9" y2="426.7" stroke="#ee4657" stroke-width="0.9"/>
<rect x="332.8" y="419.3" width="2.2" height="4.7" fill="#ee4657"/>
<line x1="336.3" y1="421.9" x2="336.3" y2="426.7" stroke="#ee4657" stroke-width="0.9"/>
<rect x="335.2" y="424.0" width="2.2" height="2.0" fill="#ee4657"/>
<line x1="338.8" y1="425.4" x2="338.8" y2="430.7" stroke="#ee4657" stroke-width="0.9"/>
<rect x="337.7" y="426.0" width="2.2" height="4.0" fill="#ee4657"/>
<line x1="341.2" y1="421.4" x2="341.2" y2="432.3" stroke="#14a285" stroke-width="0.9"/>
<rect x="340.1" y="424.0" width="2.2" height="6.0" fill="#14a285"/>
<line x1="343.6" y1="420.3" x2="343.6" y2="426.4" stroke="#14a285" stroke-width="0.9"/>
<rect x="342.5" y="421.0" width="2.2" height="3.0" fill="#14a285"/>
<line x1="346.0" y1="418.2" x2="346.0" y2="430.6" stroke="#ee4657" stroke-width="0.9"/>
<rect x="344.9" y="421.0" width="2.2" height="7.7" fill="#ee4657"/>
<line x1="348.5" y1="419.8" x2="348.5" y2="430.4" stroke="#14a285" stroke-width="0.9"/>
<rect x="347.4" y="421.0" width="2.2" height="7.7" fill="#14a285"/>
<line x1="350.9" y1="418.7" x2="350.9" y2="421.3" stroke="#14a285" stroke-width="0.9"/>
<rect x="349.8" y="419.3" width="2.2" height="1.7" fill="#14a285"/>
<line x1="353.3" y1="416.6" x2="353.3" y2="430.6" stroke="#ee4657" stroke-width="0.9"/>
<rect x="352.2" y="419.3" width="2.2" height="9.4" fill="#ee4657"/>
<line x1="355.8" y1="427.1" x2="355.8" y2="435.6" stroke="#ee4657" stroke-width="0.9"/>
<rect x="354.7" y="428.7" width="2.2" height="4.3" fill="#ee4657"/>
<line x1="358.2" y1="426.6" x2="358.2" y2="435.5" stroke="#14a285" stroke-width="0.9"/>
<rect x="357.1" y="428.0" width="2.2" height="5.0" fill="#14a285"/>
<line x1="360.6" y1="422.6" x2="360.6" y2="428.8" stroke="#14a285" stroke-width="0.9"/>
<rect x="359.5" y="425.0" width="2.2" height="3.0" fill="#14a285"/>
<line x1="363.1" y1="422.1" x2="363.1" y2="426.0" stroke="#14a285" stroke-width="0.9"/>
<rect x="362.0" y="423.0" width="2.2" height="2.0" fill="#14a285"/>
<line x1="365.5" y1="421.5" x2="365.5" y2="425.2" stroke="#14a285" stroke-width="0.9"/>
<rect x="364.4" y="422.4" width="2.2" height="1.0" fill="#14a285"/>
<line x1="367.9" y1="421.9" x2="367.9" y2="430.0" stroke="#ee4657" stroke-width="0.9"/>
<rect x="366.8" y="422.8" width="2.2" height="5.9" fill="#ee4657"/>
<line x1="370.4" y1="428.1" x2="370.4" y2="434.6" stroke="#ee4657" stroke-width="0.9"/>
<rect x="369.3" y="428.7" width="2.2" height="3.3" fill="#ee4657"/>
<line x1="372.8" y1="430.8" x2="372.8" y2="443.0" stroke="#ee4657" stroke-width="0.9"/>
<rect x="371.7" y="432.0" width="2.2" height="9.6" fill="#ee4657"/>
<line x1="375.2" y1="438.2" x2="375.2" y2="444.2" stroke="#14a285" stroke-width="0.9"/>
<rect x="374.1" y="440.0" width="2.2" height="1.6" fill="#14a285"/>
<line x1="377.7" y1="438.3" x2="377.7" y2="443.3" stroke="#ee4657" stroke-width="0.9"/>
<rect x="376.6" y="439.7" width="2.2" height="1.0" fill="#ee4657"/>
<line x1="380.1" y1="432.4" x2="380.1" y2="442.0" stroke="#14a285" stroke-width="0.9"/>
<rect x="379.0" y="434.0" width="2.2" height="6.4" fill="#14a285"/>
<line x1="382.5" y1="432.4" x2="382.5" y2="438.3" stroke="#ee4657" stroke-width="0.9"/>
<rect x="381.4" y="434.0" width="2.2" height="4.0" fill="#ee4657"/>
<line x1="385.0" y1="436.6" x2="385.0" y2="446.8" stroke="#ee4657" stroke-width="0.9"/>
<rect x="383.9" y="438.0" width="2.2" height="8.0" fill="#ee4657"/>
<line x1="387.4" y1="438.7" x2="387.4" y2="448.3" stroke="#14a285" stroke-width="0.9"/>
<rect x="386.3" y="439.0" width="2.2" height="7.0" fill="#14a285"/>
<line x1="389.8" y1="437.3" x2="389.8" y2="440.5" stroke="#14a285" stroke-width="0.9"/>
<rect x="388.7" y="438.0" width="2.2" height="1.0" fill="#14a285"/>
<line x1="392.3" y1="434.9" x2="392.3" y2="439.7" stroke="#14a285" stroke-width="0.9"/>
<rect x="391.2" y="437.0" width="2.2" height="1.0" fill="#14a285"/>
<line x1="394.7" y1="435.4" x2="394.7" y2="439.1" stroke="#ee4657" stroke-width="0.9"/>
<rect x="393.6" y="436.5" width="2.2" height="1.0" fill="#ee4657"/>
<line x1="397.1" y1="435.3" x2="397.1" y2="442.3" stroke="#ee4657" stroke-width="0.9"/>
<rect x="396.0" y="437.0" width="2.2" height="3.0" fill="#ee4657"/>
<line x1="399.5" y1="439.4" x2="399.5" y2="442.7" stroke="#ee4657" stroke-width="0.9"/>
<rect x="398.4" y="440.0" width="2.2" height="1.0" fill="#ee4657"/>
<line x1="402.0" y1="440.1" x2="402.0" y2="446.0" stroke="#ee4657" stroke-width="0.9"/>
<rect x="400.9" y="441.0" width="2.2" height="4.0" fill="#ee4657"/>
<line x1="404.4" y1="442.8" x2="404.4" y2="449.0" stroke="#ee4657" stroke-width="0.9"/>
<rect x="403.3" y="445.0" width="2.2" height="2.4" fill="#ee4657"/>
<line x1="406.8" y1="445.7" x2="406.8" y2="462.2" stroke="#ee4657" stroke-width="0.9"/>
<rect x="405.7" y="447.4" width="2.2" height="12.6" fill="#ee4657"/>
<line x1="409.3" y1="457.4" x2="409.3" y2="471.4" stroke="#ee4657" stroke-width="0.9"/>
<rect x="408.2" y="460.0" width="2.2" height="10.0" fill="#ee4657"/>
<line x1="411.7" y1="468.2" x2="411.7" y2="485.6" stroke="#ee4657" stroke-width="0.9"/>
<rect x="410.6" y="470.0" width="2.2" height="14.0" fill="#ee4657"/>
<line x1="414.1" y1="477.4" x2="414.1" y2="486.0" stroke="#14a285" stroke-width="0.9"/>
<rect x="413.0" y="479.0" width="2.2" height="5.0" fill="#14a285"/>
<line x1="416.6" y1="477.6" x2="416.6" y2="492.6" stroke="#ee4657" stroke-width="0.9"/>
<rect x="415.5" y="479.0" width="2.2" height="12.0" fill="#ee4657"/>
<line x1="419.0" y1="479.5" x2="419.0" y2="493.7" stroke="#14a285" stroke-width="0.9"/>
<rect x="417.9" y="481.0" width="2.2" height="10.0" fill="#14a285"/>
<line x1="421.4" y1="476.0" x2="421.4" y2="483.5" stroke="#14a285" stroke-width="0.9"/>
<rect x="420.3" y="478.0" width="2.2" height="3.0" fill="#14a285"/>
<line x1="423.9" y1="475.3" x2="423.9" y2="483.9" stroke="#ee4657" stroke-width="0.9"/>
<rect x="422.8" y="478.0" width="2.2" height="5.0" fill="#ee4657"/>
<line x1="426.3" y1="481.3" x2="426.3" y2="490.1" stroke="#ee4657" stroke-width="0.9"/>
<rect x="425.2" y="483.0" width="2.2" height="4.4" fill="#ee4657"/>
<line x1="428.7" y1="485.0" x2="428.7" y2="499.6" stroke="#ee4657" stroke-width="0.9"/>
<rect x="427.6" y="487.4" width="2.2" height="11.6" fill="#ee4657"/>
<line x1="431.2" y1="498.4" x2="431.2" y2="504.1" stroke="#ee4657" stroke-width="0.9"/>
<rect x="430.1" y="499.0" width="2.2" height="3.7" fill="#ee4657"/>
<line x1="433.6" y1="488.1" x2="433.6" y2="503.6" stroke="#14a285" stroke-width="0.9"/>
<rect x="432.5" y="488.6" width="2.2" height="14.1" fill="#14a285"/>
<line x1="436.0" y1="482.2" x2="436.0" y2="490.6" stroke="#14a285" stroke-width="0.9"/>
<rect x="434.9" y="482.7" width="2.2" height="5.9" fill="#14a285"/>
<line x1="438.5" y1="465.0" x2="438.5" y2="489.9" stroke="#ee4657" stroke-width="0.9"/>
<rect x="437.4" y="482.7" width="2.2" height="4.7" fill="#ee4657"/>
<line x1="440.9" y1="475.0" x2="440.9" y2="489.5" stroke="#14a285" stroke-width="0.9"/>
<rect x="439.8" y="475.7" width="2.2" height="11.7" fill="#14a285"/>
<line x1="443.3" y1="469.0" x2="443.3" y2="476.4" stroke="#14a285" stroke-width="0.9"/>
<rect x="442.2" y="471.0" width="2.2" height="4.7" fill="#14a285"/>
<line x1="445.7" y1="468.5" x2="445.7" y2="478.7" stroke="#ee4657" stroke-width="0.9"/>
<rect x="444.6" y="471.0" width="2.2" height="5.0" fill="#ee4657"/>
<line x1="448.2" y1="475.2" x2="448.2" y2="483.7" stroke="#ee4657" stroke-width="0.9"/>
<rect x="447.1" y="476.0" width="2.2" height="5.0" fill="#ee4657"/>
<line x1="450.6" y1="469.7" x2="450.6" y2="482.5" stroke="#14a285" stroke-width="0.9"/>
<rect x="449.5" y="471.0" width="2.2" height="10.0" fill="#14a285"/>
<line x1="453.0" y1="468.2" x2="453.0" y2="479.4" stroke="#ee4657" stroke-width="0.9"/>
<rect x="451.9" y="471.0" width="2.2" height="6.0" fill="#ee4657"/>
<line x1="455.5" y1="476.3" x2="455.5" y2="481.4" stroke="#ee4657" stroke-width="0.9"/>
<rect x="454.4" y="477.0" width="2.2" height="3.0" fill="#ee4657"/>
<line x1="457.9" y1="476.4" x2="457.9" y2="481.1" stroke="#14a285" stroke-width="0.9"/>
<rect x="456.8" y="478.0" width="2.2" height="2.0" fill="#14a285"/>
<line x1="460.3" y1="477.2" x2="460.3" y2="485.1" stroke="#ee4657" stroke-width="0.9"/>
<rect x="459.2" y="478.0" width="2.2" height="6.0" fill="#ee4657"/>
<line x1="462.8" y1="473.9" x2="462.8" y2="484.3" stroke="#14a285" stroke-width="0.9"/>
<rect x="461.7" y="476.0" width="2.2" height="8.0" fill="#14a285"/>
<line x1="465.2" y1="470.3" x2="465.2" y2="477.4" stroke="#14a285" stroke-width="0.9"/>
<rect x="464.1" y="472.0" width="2.2" height="4.0" fill="#14a285"/>
<line x1="467.6" y1="471.7" x2="467.6" y2="480.1" stroke="#ee4657" stroke-width="0.9"/>
<rect x="466.5" y="472.0" width="2.2" height="7.0" fill="#ee4657"/>
<line x1="470.1" y1="477.1" x2="470.1" y2="484.6" stroke="#ee4657" stroke-width="0.9"/>
<rect x="469.0" y="479.0" width="2.2" height="4.0" fill="#ee4657"/>
<line x1="472.5" y1="471.5" x2="472.5" y2="485.8" stroke="#14a285" stroke-width="0.9"/>
<rect x="471.4" y="472.0" width="2.2" height="11.0" fill="#14a285"/>
<line x1="474.9" y1="469.7" x2="474.9" y2="481.7" stroke="#ee4657" stroke-width="0.9"/>
<rect x="473.8" y="472.0" width="2.2" height="7.0" fill="#ee4657"/>
<line x1="477.4" y1="478.4" x2="477.4" y2="481.0" stroke="#ee4657" stroke-width="0.9"/>
<rect x="476.3" y="479.0" width="2.2" height="1.0" fill="#ee4657"/>
<line x1="479.8" y1="468.3" x2="479.8" y2="482.2" stroke="#14a285" stroke-width="0.9"/>
<rect x="478.7" y="468.7" width="2.2" height="11.3" fill="#14a285"/>
<line x1="482.2" y1="466.5" x2="482.2" y2="469.3" stroke="#14a285" stroke-width="0.9"/>
<rect x="481.1" y="467.5" width="2.2" height="1.2" fill="#14a285"/>
<line x1="484.7" y1="466.1" x2="484.7" y2="479.6" stroke="#ee4657" stroke-width="0.9"/>
<rect x="483.6" y="467.5" width="2.2" height="9.5" fill="#ee4657"/>
<line x1="487.1" y1="469.7" x2="487.1" y2="477.9" stroke="#14a285" stroke-width="0.9"/>
<rect x="486.0" y="472.0" width="2.2" height="5.0" fill="#14a285"/>
<line x1="489.5" y1="471.3" x2="489.5" y2="482.6" stroke="#ee4657" stroke-width="0.9"/>
<rect x="488.4" y="472.0" width="2.2" height="8.0" fill="#ee4657"/>
<line x1="491.9" y1="478.3" x2="491.9" y2="487.1" stroke="#ee4657" stroke-width="0.9"/>
<rect x="490.8" y="480.0" width="2.2" height="5.0" fill="#ee4657"/>
<line x1="494.4" y1="477.5" x2="494.4" y2="485.4" stroke="#14a285" stroke-width="0.9"/>
<rect x="493.3" y="478.0" width="2.2" height="7.0" fill="#14a285"/>
<line x1="496.8" y1="476.0" x2="496.8" y2="483.4" stroke="#ee4657" stroke-width="0.9"/>
<rect x="495.7" y="478.0" width="2.2" height="4.0" fill="#ee4657"/>
<line x1="499.2" y1="476.5" x2="499.2" y2="484.6" stroke="#14a285" stroke-width="0.9"/>
<rect x="498.1" y="477.0" width="2.2" height="5.0" fill="#14a285"/>
<line x1="501.7" y1="475.1" x2="501.7" y2="485.3" stroke="#ee4657" stroke-width="0.9"/>
<rect x="500.6" y="477.0" width="2.2" height="6.0" fill="#ee4657"/>
<line x1="504.1" y1="482.5" x2="504.1" y2="491.0" stroke="#ee4657" stroke-width="0.9"/>
<rect x="503.0" y="483.0" width="2.2" height="5.6" fill="#ee4657"/>
<line x1="506.5" y1="483.5" x2="506.5" y2="491.1" stroke="#14a285" stroke-width="0.9"/>
<rect x="505.4" y="484.0" width="2.2" height="4.6" fill="#14a285"/>
<line x1="509.0" y1="479.6" x2="509.0" y2="485.1" stroke="#14a285" stroke-width="0.9"/>
<rect x="507.9" y="481.0" width="2.2" height="3.0" fill="#14a285"/>
<line x1="511.4" y1="478.3" x2="511.4" y2="483.6" stroke="#14a285" stroke-width="0.9"/>
<rect x="510.3" y="480.0" width="2.2" height="1.0" fill="#14a285"/>
<line x1="513.8" y1="477.0" x2="513.8" y2="480.6" stroke="#14a285" stroke-width="0.9"/>
<rect x="512.7" y="478.0" width="2.2" height="2.0" fill="#14a285"/>
<line x1="516.3" y1="475.4" x2="516.3" y2="478.9" stroke="#14a285" stroke-width="0.9"/>
<rect x="515.2" y="477.0" width="2.2" height="1.0" fill="#14a285"/>
<line x1="518.7" y1="476.4" x2="518.7" y2="481.7" stroke="#ee4657" stroke-width="0.9"/>
<rect x="517.6" y="477.0" width="2.2" height="4.0" fill="#ee4657"/>
<line x1="521.1" y1="480.1" x2="521.1" y2="482.3" stroke="#ee4657" stroke-width="0.9"/>
<rect x="520.0" y="480.5" width="2.2" height="1.0" fill="#ee4657"/>
<line x1="523.6" y1="476.9" x2="523.6" y2="482.1" stroke="#14a285" stroke-width="0.9"/>
<rect x="522.5" y="478.0" width="2.2" height="3.0" fill="#14a285"/>
<line x1="526.0" y1="474.8" x2="526.0" y2="479.0" stroke="#14a285" stroke-width="0.9"/>
<rect x="524.9" y="477.0" width="2.2" height="1.0" fill="#14a285"/>
<line x1="528.4" y1="475.4" x2="528.4" y2="480.7" stroke="#ee4657" stroke-width="0.9"/>
<rect x="527.3" y="477.0" width="2.2" height="3.0" fill="#ee4657"/>
<line x1="530.9" y1="470.8" x2="530.9" y2="480.3" stroke="#14a285" stroke-width="0.9"/>
<rect x="529.8" y="472.0" width="2.2" height="8.0" fill="#14a285"/>
<line x1="533.3" y1="467.1" x2="533.3" y2="472.3" stroke="#14a285" stroke-width="0.9"/>
<rect x="532.2" y="468.0" width="2.2" height="4.0" fill="#14a285"/>
<line x1="535.7" y1="459.9" x2="535.7" y2="469.7" stroke="#14a285" stroke-width="0.9"/>
<rect x="534.6" y="462.0" width="2.2" height="6.0" fill="#14a285"/>
<line x1="538.2" y1="458.7" x2="538.2" y2="463.5" stroke="#14a285" stroke-width="0.9"/>
<rect x="537.1" y="459.5" width="2.2" height="2.5" fill="#14a285"/>
<line x1="540.6" y1="456.9" x2="540.6" y2="471.6" stroke="#ee4657" stroke-width="0.9"/>
<rect x="539.5" y="459.5" width="2.2" height="11.5" fill="#ee4657"/>
<line x1="543.0" y1="460.7" x2="543.0" y2="472.4" stroke="#14a285" stroke-width="0.9"/>
<rect x="541.9" y="463.0" width="2.2" height="8.0" fill="#14a285"/>
<line x1="545.4" y1="461.5" x2="545.4" y2="470.4" stroke="#ee4657" stroke-width="0.9"/>
<rect x="544.3" y="463.0" width="2.2" height="5.0" fill="#ee4657"/>
<line x1="547.9" y1="466.7" x2="547.9" y2="470.6" stroke="#ee4657" stroke-width="0.9"/>
<rect x="546.8" y="468.0" width="2.2" height="1.0" fill="#ee4657"/>
<line x1="550.3" y1="466.8" x2="550.3" y2="472.6" stroke="#ee4657" stroke-width="0.9"/>
<rect x="549.2" y="468.8" width="2.2" height="1.0" fill="#ee4657"/>
<line x1="552.7" y1="461.8" x2="552.7" y2="472.0" stroke="#14a285" stroke-width="0.9"/>
<rect x="551.6" y="463.0" width="2.2" height="6.6" fill="#14a285"/>
<line x1="555.2" y1="459.9" x2="555.2" y2="464.9" stroke="#14a285" stroke-width="0.9"/>
<rect x="554.1" y="462.0" width="2.2" height="1.0" fill="#14a285"/>
<line x1="557.6" y1="448.1" x2="557.6" y2="463.2" stroke="#14a285" stroke-width="0.9"/>
<rect x="556.5" y="449.4" width="2.2" height="12.6" fill="#14a285"/>
<line x1="560.0" y1="438.6" x2="560.0" y2="450.0" stroke="#14a285" stroke-width="0.9"/>
<rect x="558.9" y="439.0" width="2.2" height="10.4" fill="#14a285"/>
<line x1="562.5" y1="438.5" x2="562.5" y2="447.8" stroke="#ee4657" stroke-width="0.9"/>
<rect x="561.4" y="439.0" width="2.2" height="6.6" fill="#ee4657"/>
<line x1="564.9" y1="439.1" x2="564.9" y2="446.3" stroke="#14a285" stroke-width="0.9"/>
<rect x="563.8" y="440.0" width="2.2" height="5.6" fill="#14a285"/>
<line x1="567.3" y1="439.5" x2="567.3" y2="443.4" stroke="#ee4657" stroke-width="0.9"/>
<rect x="566.2" y="440.0" width="2.2" height="1.0" fill="#ee4657"/>
<line x1="569.8" y1="434.2" x2="569.8" y2="443.0" stroke="#14a285" stroke-width="0.9"/>
<rect x="568.7" y="436.7" width="2.2" height="4.3" fill="#14a285"/>
<line x1="572.2" y1="429.4" x2="572.2" y2="437.6" stroke="#14a285" stroke-width="0.9"/>
<rect x="571.1" y="430.4" width="2.2" height="6.3" fill="#14a285"/>
<line x1="574.6" y1="424.3" x2="574.6" y2="431.8" stroke="#14a285" stroke-width="0.9"/>
<rect x="573.5" y="425.3" width="2.2" height="5.1" fill="#14a285"/>
<line x1="577.1" y1="424.6" x2="577.1" y2="433.1" stroke="#ee4657" stroke-width="0.9"/>
<rect x="576.0" y="425.3" width="2.2" height="6.4" fill="#ee4657"/>
<line x1="579.5" y1="410.4" x2="579.5" y2="434.4" stroke="#14a285" stroke-width="0.9"/>
<rect x="578.4" y="411.4" width="2.2" height="20.3" fill="#14a285"/>
<line x1="581.9" y1="408.7" x2="581.9" y2="421.7" stroke="#ee4657" stroke-width="0.9"/>
<rect x="580.8" y="411.4" width="2.2" height="8.6" fill="#ee4657"/>
<line x1="584.4" y1="408.1" x2="584.4" y2="422.7" stroke="#14a285" stroke-width="0.9"/>
<rect x="583.3" y="409.0" width="2.2" height="11.0" fill="#14a285"/>
<line x1="586.8" y1="407.9" x2="586.8" y2="417.2" stroke="#ee4657" stroke-width="0.9"/>
<rect x="585.7" y="409.0" width="2.2" height="7.0" fill="#ee4657"/>
<line x1="589.2" y1="409.7" x2="589.2" y2="417.3" stroke="#14a285" stroke-width="0.9"/>
<rect x="588.1" y="410.0" width="2.2" height="6.0" fill="#14a285"/>
<line x1="591.6" y1="407.5" x2="591.6" y2="411.6" stroke="#14a285" stroke-width="0.9"/>
<rect x="590.5" y="409.0" width="2.2" height="1.0" fill="#14a285"/>
<line x1="594.1" y1="408.2" x2="594.1" y2="434.0" stroke="#ee4657" stroke-width="0.9"/>
<rect x="593.0" y="409.0" width="2.2" height="22.7" fill="#ee4657"/>
<line x1="596.5" y1="417.5" x2="596.5" y2="432.7" stroke="#14a285" stroke-width="0.9"/>
<rect x="595.4" y="417.8" width="2.2" height="13.9" fill="#14a285"/>
<line x1="598.9" y1="417.3" x2="598.9" y2="425.3" stroke="#ee4657" stroke-width="0.9"/>
<rect x="597.8" y="417.8" width="2.2" height="6.2" fill="#ee4657"/>
<line x1="601.4" y1="423.6" x2="601.4" y2="427.0" stroke="#ee4657" stroke-width="0.9"/>
<rect x="600.3" y="424.0" width="2.2" height="2.6" fill="#ee4657"/>
<line x1="603.8" y1="425.5" x2="603.8" y2="428.9" stroke="#ee4657" stroke-width="0.9"/>
<rect x="602.7" y="426.6" width="2.2" height="1.4" fill="#ee4657"/>
<line x1="606.2" y1="426.2" x2="606.2" y2="433.3" stroke="#ee4657" stroke-width="0.9"/>
<rect x="605.1" y="428.0" width="2.2" height="3.7" fill="#ee4657"/>
<line x1="608.7" y1="427.8" x2="608.7" y2="433.6" stroke="#14a285" stroke-width="0.9"/>
<rect x="607.6" y="430.0" width="2.2" height="1.7" fill="#14a285"/>
<line x1="611.1" y1="422.9" x2="611.1" y2="432.5" stroke="#14a285" stroke-width="0.9"/>
<rect x="610.0" y="425.0" width="2.2" height="5.0" fill="#14a285"/>
<line x1="613.5" y1="423.7" x2="613.5" y2="428.1" stroke="#ee4657" stroke-width="0.9"/>
<rect x="612.4" y="425.0" width="2.2" height="2.0" fill="#ee4657"/>
<line x1="616.0" y1="424.2" x2="616.0" y2="429.7" stroke="#ee4657" stroke-width="0.9"/>
<rect x="614.9" y="427.0" width="2.2" height="2.0" fill="#ee4657"/>
<line x1="618.4" y1="426.9" x2="618.4" y2="432.9" stroke="#ee4657" stroke-width="0.9"/>
<rect x="617.3" y="429.0" width="2.2" height="2.0" fill="#ee4657"/>
<line x1="620.8" y1="424.6" x2="620.8" y2="433.4" stroke="#14a285" stroke-width="0.9"/>
<rect x="619.7" y="425.0" width="2.2" height="6.0" fill="#14a285"/>
<line x1="623.3" y1="421.7" x2="623.3" y2="427.1" stroke="#14a285" stroke-width="0.9"/>
<rect x="622.2" y="424.2" width="2.2" height="1.0" fill="#14a285"/>
<line x1="625.7" y1="422.3" x2="625.7" y2="430.6" stroke="#ee4657" stroke-width="0.9"/>
<rect x="624.6" y="424.4" width="2.2" height="3.9" fill="#ee4657"/>
<line x1="628.1" y1="427.7" x2="628.1" y2="431.6" stroke="#ee4657" stroke-width="0.9"/>
<rect x="627.0" y="428.3" width="2.2" height="1.7" fill="#ee4657"/>
<line x1="630.6" y1="422.4" x2="630.6" y2="432.4" stroke="#14a285" stroke-width="0.9"/>
<rect x="629.5" y="424.0" width="2.2" height="6.0" fill="#14a285"/>
<line x1="633.0" y1="421.4" x2="633.0" y2="427.1" stroke="#ee4657" stroke-width="0.9"/>
<rect x="631.9" y="423.7" width="2.2" height="1.0" fill="#ee4657"/>
<line x1="635.4" y1="422.6" x2="635.4" y2="429.5" stroke="#ee4657" stroke-width="0.9"/>
<rect x="634.3" y="424.4" width="2.2" height="2.6" fill="#ee4657"/>
<line x1="637.8" y1="425.0" x2="637.8" y2="438.0" stroke="#ee4657" stroke-width="0.9"/>
<rect x="636.7" y="427.0" width="2.2" height="9.0" fill="#ee4657"/>
<line x1="640.3" y1="435.1" x2="640.3" y2="443.4" stroke="#ee4657" stroke-width="0.9"/>
<rect x="639.2" y="436.0" width="2.2" height="7.0" fill="#ee4657"/>
<line x1="642.7" y1="442.4" x2="642.7" y2="449.2" stroke="#ee4657" stroke-width="0.9"/>
<rect x="641.6" y="443.0" width="2.2" height="5.0" fill="#ee4657"/>
<line x1="645.1" y1="446.3" x2="645.1" y2="458.6" stroke="#14a285" stroke-width="0.9"/>
<rect x="644.0" y="446.9" width="2.2" height="1.1" fill="#14a285"/>
<line x1="647.6" y1="443.3" x2="647.6" y2="448.8" stroke="#14a285" stroke-width="0.9"/>
<rect x="646.5" y="445.0" width="2.2" height="1.9" fill="#14a285"/>
<line x1="650.0" y1="443.1" x2="650.0" y2="452.0" stroke="#ee4657" stroke-width="0.9"/>
<rect x="648.9" y="445.0" width="2.2" height="5.0" fill="#ee4657"/>
<line x1="652.4" y1="445.5" x2="652.4" y2="450.3" stroke="#14a285" stroke-width="0.9"/>
<rect x="651.3" y="447.0" width="2.2" height="3.0" fill="#14a285"/>
<line x1="654.9" y1="444.7" x2="654.9" y2="454.2" stroke="#ee4657" stroke-width="0.9"/>
<rect x="653.8" y="447.0" width="2.2" height="5.0" fill="#ee4657"/>
<line x1="657.3" y1="449.9" x2="657.3" y2="454.1" stroke="#ee4657" stroke-width="0.9"/>
<rect x="656.2" y="451.5" width="2.2" height="1.0" fill="#ee4657"/>
<line x1="659.7" y1="435.1" x2="659.7" y2="452.5" stroke="#14a285" stroke-width="0.9"/>
<rect x="658.6" y="437.0" width="2.2" height="15.0" fill="#14a285"/>
<line x1="662.2" y1="434.9" x2="662.2" y2="451.9" stroke="#ee4657" stroke-width="0.9"/>
<rect x="661.1" y="437.0" width="2.2" height="14.0" fill="#ee4657"/>
<line x1="664.6" y1="440.5" x2="664.6" y2="452.0" stroke="#14a285" stroke-width="0.9"/>
<rect x="663.5" y="441.0" width="2.2" height="10.0" fill="#14a285"/>
<line x1="667.0" y1="438.4" x2="667.0" y2="442.3" stroke="#ee4657" stroke-width="0.9"/>
<rect x="665.9" y="440.5" width="2.2" height="1.0" fill="#ee4657"/>
<line x1="669.5" y1="438.9" x2="669.5" y2="447.7" stroke="#ee4657" stroke-width="0.9"/>
<rect x="668.4" y="441.0" width="2.2" height="4.0" fill="#ee4657"/>
<line x1="671.9" y1="443.5" x2="671.9" y2="449.3" stroke="#ee4657" stroke-width="0.9"/>
<rect x="670.8" y="445.0" width="2.2" height="3.0" fill="#ee4657"/>
<line x1="674.3" y1="446.5" x2="674.3" y2="455.0" stroke="#ee4657" stroke-width="0.9"/>
<rect x="673.2" y="448.0" width="2.2" height="5.0" fill="#ee4657"/>
<line x1="676.8" y1="444.8" x2="676.8" y2="454.8" stroke="#14a285" stroke-width="0.9"/>
<rect x="675.7" y="447.0" width="2.2" height="6.0" fill="#14a285"/>
<line x1="679.2" y1="443.1" x2="679.2" y2="447.5" stroke="#14a285" stroke-width="0.9"/>
<rect x="678.1" y="445.0" width="2.2" height="2.0" fill="#14a285"/>
<line x1="681.6" y1="444.3" x2="681.6" y2="448.9" stroke="#ee4657" stroke-width="0.9"/>
<rect x="680.5" y="445.0" width="2.2" height="3.0" fill="#ee4657"/>
<line x1="684.1" y1="445.8" x2="684.1" y2="451.1" stroke="#ee4657" stroke-width="0.9"/>
<rect x="683.0" y="448.0" width="2.2" height="2.0" fill="#ee4657"/>
<line x1="686.5" y1="444.3" x2="686.5" y2="450.3" stroke="#14a285" stroke-width="0.9"/>
<rect x="685.4" y="446.0" width="2.2" height="4.0" fill="#14a285"/>
<line x1="688.9" y1="442.5" x2="688.9" y2="447.0" stroke="#14a285" stroke-width="0.9"/>
<rect x="687.8" y="443.0" width="2.2" height="3.0" fill="#14a285"/>
<line x1="691.3" y1="441.0" x2="691.3" y2="449.0" stroke="#ee4657" stroke-width="0.9"/>
<rect x="690.2" y="443.0" width="2.2" height="4.0" fill="#ee4657"/>
<line x1="693.8" y1="445.0" x2="693.8" y2="456.0" stroke="#ee4657" stroke-width="0.9"/>
<rect x="692.7" y="447.0" width="2.2" height="7.7" fill="#ee4657"/>
<line x1="696.2" y1="446.3" x2="696.2" y2="456.2" stroke="#14a285" stroke-width="0.9"/>
<rect x="695.1" y="447.9" width="2.2" height="6.8" fill="#14a285"/>
<line x1="698.6" y1="443.5" x2="698.6" y2="448.5" stroke="#14a285" stroke-width="0.9"/>
<rect x="697.5" y="445.0" width="2.2" height="2.9" fill="#14a285"/>
<line x1="701.1" y1="440.5" x2="701.1" y2="445.8" stroke="#14a285" stroke-width="0.9"/>
<rect x="700.0" y="443.0" width="2.2" height="2.0" fill="#14a285"/>
<line x1="703.5" y1="438.3" x2="703.5" y2="445.6" stroke="#14a285" stroke-width="0.9"/>
<rect x="702.4" y="441.0" width="2.2" height="2.0" fill="#14a285"/>
<line x1="705.9" y1="430.7" x2="705.9" y2="442.4" stroke="#14a285" stroke-width="0.9"/>
<rect x="704.8" y="431.0" width="2.2" height="10.0" fill="#14a285"/>
<line x1="708.4" y1="428.7" x2="708.4" y2="440.7" stroke="#ee4657" stroke-width="0.9"/>
<rect x="707.3" y="431.0" width="2.2" height="7.0" fill="#ee4657"/>
<line x1="710.8" y1="434.6" x2="710.8" y2="439.0" stroke="#14a285" stroke-width="0.9"/>
<rect x="709.7" y="436.0" width="2.2" height="2.0" fill="#14a285"/>
<line x1="152" y1="436.6" x2="962.5" y2="436.6" stroke="#4b8479" stroke-width="1" stroke-dasharray="1.3 2.6"/>
<circle cx="711" cy="610.7" r="8.9" fill="#190d21" stroke="#b468d4" stroke-width="1.5"/>
<path d="M714.2,604.9 L708.7,611.3 L711.9,611.3 L708.2,616.4 L714.0,609.6 L710.8,609.6 Z" fill="#c466e0" stroke="#c466e0" stroke-width="0.5" stroke-linejoin="round"/>
<circle cx="42.6" cy="720" r="9" fill="#262626"/>
<circle cx="989.7" cy="719.6" r="9" fill="#262626"/>
</svg>
<div class="bx" style="left:13.3px;top:29.3px;width:58.3px;height:25.4px;border:1px solid #272727;border-radius:4px;background:#0f0f0f"></div>
<div class="t" style="left:21.62px;top:36.75px;font-size:11.4px;line-height:11.4px;letter-spacing:0.036px;color:#dcdcdc;">USDT</div>
<div class="t" style="left:83.35px;top:35.92px;font-size:11.2px;line-height:11.2px;letter-spacing:0.094px;color:#d3d3d3;">WLFIUSDTPERP PERPETUAL MIX CONTRACT · 1h · Bitget</div>
<div class="t" style="left:401.87px;top:35.92px;font-size:11.2px;line-height:11.2px;letter-spacing:0.000px;color:#d3d3d3;">O</div>
<div class="t" style="left:410.36px;top:35.92px;font-size:11.2px;line-height:11.2px;letter-spacing:0.562px;color:#22a58e;">0.2179</div>
<div class="t" style="left:452.98px;top:35.92px;font-size:11.2px;line-height:11.2px;letter-spacing:0.000px;color:#d3d3d3;">H</div>
<div class="t" style="left:462.26px;top:35.92px;font-size:11.2px;line-height:11.2px;letter-spacing:0.729px;color:#22a58e;">0.2202</div>
<div class="t" style="left:506.58px;top:35.92px;font-size:11.2px;line-height:11.2px;letter-spacing:0.000px;color:#d3d3d3;">L</div>
<div class="t" style="left:513.26px;top:35.92px;font-size:11.2px;line-height:11.2px;letter-spacing:0.704px;color:#22a58e;">0.2160</div>
<div class="t" style="left:557.03px;top:35.92px;font-size:11.2px;line-height:11.2px;letter-spacing:0.000px;color:#d3d3d3;">C</div>
<div class="t" style="left:565.06px;top:35.92px;font-size:11.2px;line-height:11.2px;letter-spacing:0.534px;color:#22a58e;">0.2188</div>
<div class="t" style="left:607.95px;top:35.92px;font-size:11.2px;line-height:11.2px;letter-spacing:0.692px;color:#22a58e;">+0.0009 (+0.41%)</div>
<div class="t" style="left:82.38px;top:52.82px;font-size:11.2px;line-height:11.2px;letter-spacing:0.503px;color:#d3d3d3;">FBB (200, hlc3, 3)</div>
<div class="t" style="left:188.26px;top:52.82px;font-size:11.2px;line-height:11.2px;letter-spacing:0.469px;color:#d934dc;">0.2312</div>
<div class="t" style="left:231.86px;top:52.82px;font-size:11.2px;line-height:11.2px;letter-spacing:0.444px;color:#8e8e8e;">0.2560</div>
<div class="t" style="left:276.46px;top:52.82px;font-size:11.2px;line-height:11.2px;letter-spacing:0.455px;color:#8e8e8e;">0.2713</div>
<div class="t" style="left:319.36px;top:52.82px;font-size:11.2px;line-height:11.2px;letter-spacing:0.469px;color:#8e8e8e;">0.2837</div>
<div class="t" style="left:364.36px;top:52.82px;font-size:11.2px;line-height:11.2px;letter-spacing:0.466px;color:#f0851c;">0.2961</div>
<div class="t" style="left:407.76px;top:52.82px;font-size:11.2px;line-height:11.2px;letter-spacing:0.450px;color:#8e8e8e;">0.3115</div>
<div class="t" style="left:449.06px;top:52.82px;font-size:11.2px;line-height:11.2px;letter-spacing:0.455px;color:#e3262b;">0.3363</div>
<div class="t" style="left:494.76px;top:52.82px;font-size:11.2px;line-height:11.2px;letter-spacing:0.422px;color:#8e8e8e;">0.2064</div>
<div class="t" style="left:539.56px;top:52.82px;font-size:11.2px;line-height:11.2px;letter-spacing:0.466px;color:#8e8e8e;">0.1911</div>
<div class="t" style="left:579.56px;top:52.82px;font-size:11.2px;line-height:11.2px;letter-spacing:0.469px;color:#8e8e8e;">0.1787</div>
<div class="t" style="left:621.56px;top:52.82px;font-size:11.2px;line-height:11.2px;letter-spacing:0.455px;color:#f0851c;">0.1663</div>
<div class="t" style="left:665.86px;top:52.82px;font-size:11.2px;line-height:11.2px;letter-spacing:0.462px;color:#8e8e8e;">0.1509</div>
<div class="t" style="left:709.56px;top:52.82px;font-size:11.2px;line-height:11.2px;letter-spacing:0.466px;color:#1c8c20;">0.1261</div>
<div class="t" style="left:83.35px;top:68.72px;font-size:11.2px;line-height:11.2px;letter-spacing:0.444px;color:#d3d3d3;">Volume Profile Bar-Magnified Order Blocks [JacobMagleby] (7, 10, Close Engulfs 100% Of Order Block)</div>
<div class="t" style="left:26.63px;top:97.84px;font-size:12px;line-height:12px;letter-spacing:0.647px;color:#b0b0b0;">0.5000</div>
<div class="t" style="left:26.63px;top:157.04px;font-size:12px;line-height:12px;letter-spacing:0.647px;color:#b0b0b0;">0.4500</div>
<div class="t" style="left:26.63px;top:216.24px;font-size:12px;line-height:12px;letter-spacing:0.647px;color:#b0b0b0;">0.4000</div>
<div class="t" style="left:26.63px;top:275.44px;font-size:12px;line-height:12px;letter-spacing:0.647px;color:#b0b0b0;">0.3500</div>
<div class="t" style="left:26.63px;top:393.84px;font-size:12px;line-height:12px;letter-spacing:0.647px;color:#b0b0b0;">0.2500</div>
<div class="t" style="left:26.63px;top:571.44px;font-size:12px;line-height:12px;letter-spacing:0.647px;color:#b0b0b0;">0.1000</div>
<div class="bx" style="left:21.2px;top:289.1px;width:52.8px;height:16.9px;background:#f20d0d;border-radius:1.5px"></div>
<div class="t" style="left:26.53px;top:291.69px;font-size:12px;line-height:12px;letter-spacing:0.699px;color:rgba(255,255,255,0.86);-webkit-text-stroke:0.1px rgba(255,255,255,0.5);">0.3363</div>
<div class="bx" style="left:21.2px;top:317.4px;width:52.8px;height:15.9px;background:#888888;border-radius:1.5px"></div>
<div class="t" style="left:26.53px;top:319.49px;font-size:12px;line-height:12px;letter-spacing:0.694px;color:rgba(255,255,255,0.86);-webkit-text-stroke:0.1px rgba(255,255,255,0.5);">0.3115</div>
<div class="bx" style="left:21.2px;top:333.3px;width:52.8px;height:16.7px;background:#ff8a00;border-radius:1.5px"></div>
<div class="t" style="left:26.53px;top:335.79px;font-size:12px;line-height:12px;letter-spacing:0.710px;color:rgba(255,255,255,0.86);-webkit-text-stroke:0.1px rgba(255,255,255,0.5);">0.2961</div>
<div class="bx" style="left:21.2px;top:350.0px;width:52.8px;height:16.5px;background:#888888;border-radius:1.5px"></div>
<div class="t" style="left:26.53px;top:352.39px;font-size:12px;line-height:12px;letter-spacing:0.714px;color:rgba(255,255,255,0.86);-webkit-text-stroke:0.1px rgba(255,255,255,0.5);">0.2837</div>
<div class="bx" style="left:21.2px;top:366.5px;width:52.8px;height:16.1px;background:#888888;border-radius:1.5px"></div>
<div class="t" style="left:26.53px;top:368.69px;font-size:12px;line-height:12px;letter-spacing:0.699px;color:rgba(255,255,255,0.86);-webkit-text-stroke:0.1px rgba(255,255,255,0.5);">0.2713</div>
<div class="bx" style="left:21.2px;top:385.3px;width:52.8px;height:15.7px;background:#888888;border-radius:1.5px"></div>
<div class="t" style="left:26.53px;top:387.29px;font-size:12px;line-height:12px;letter-spacing:0.687px;color:rgba(255,255,255,0.86);-webkit-text-stroke:0.1px rgba(255,255,255,0.5);">0.2560</div>
<div class="bx" style="left:21.2px;top:412.1px;width:52.8px;height:16.0px;background:#f016f0;border-radius:1.5px"></div>
<div class="t" style="left:26.53px;top:414.24px;font-size:12px;line-height:12px;letter-spacing:0.714px;color:rgba(255,255,255,0.86);-webkit-text-stroke:0.1px rgba(255,255,255,0.5);">0.2312</div>
<div class="bx" style="left:21.2px;top:458.6px;width:52.8px;height:16.6px;background:#888888;border-radius:1.5px"></div>
<div class="t" style="left:26.53px;top:461.04px;font-size:12px;line-height:12px;letter-spacing:0.663px;color:rgba(255,255,255,0.86);-webkit-text-stroke:0.1px rgba(255,255,255,0.5);">0.2064</div>
<div class="bx" style="left:21.2px;top:475.2px;width:52.8px;height:16.4px;background:#888888;border-radius:1.5px"></div>
<div class="t" style="left:26.53px;top:477.54px;font-size:12px;line-height:12px;letter-spacing:0.710px;color:rgba(255,255,255,0.86);-webkit-text-stroke:0.1px rgba(255,255,255,0.5);">0.1911</div>
<div class="bx" style="left:21.2px;top:491.6px;width:52.8px;height:16.4px;background:#888888;border-radius:1.5px"></div>
<div class="t" style="left:26.53px;top:493.94px;font-size:12px;line-height:12px;letter-spacing:0.714px;color:rgba(255,255,255,0.86);-webkit-text-stroke:0.1px rgba(255,255,255,0.5);">0.1787</div>
<div class="bx" style="left:21.2px;top:508.0px;width:52.8px;height:16.3px;background:#ff8a00;border-radius:1.5px"></div>
<div class="t" style="left:26.53px;top:510.29px;font-size:12px;line-height:12px;letter-spacing:0.699px;color:rgba(255,255,255,0.86);-webkit-text-stroke:0.1px rgba(255,255,255,0.5);">0.1663</div>
<div class="bx" style="left:21.2px;top:524.3px;width:52.8px;height:16.3px;background:#888888;border-radius:1.5px"></div>
<div class="t" style="left:26.53px;top:526.59px;font-size:12px;line-height:12px;letter-spacing:0.707px;color:rgba(255,255,255,0.86);-webkit-text-stroke:0.1px rgba(255,255,255,0.5);">0.1509</div>
<div class="bx" style="left:21.2px;top:540.6px;width:52.8px;height:16.4px;background:#0a870a;border-radius:1.5px"></div>
<div class="t" style="left:26.53px;top:542.94px;font-size:12px;line-height:12px;letter-spacing:0.710px;color:rgba(255,255,255,0.86);-webkit-text-stroke:0.1px rgba(255,255,255,0.5);">0.1261</div>
<div class="bx" style="left:21.2px;top:428.1px;width:52.8px;height:30.2px;background:#16977f;border-radius:1.5px"></div>
<div class="t" style="left:26.53px;top:431.14px;font-size:12px;line-height:12px;letter-spacing:0.697px;color:#ffffff;">0.2188</div>
<div class="t" style="left:35.49px;top:444.64px;font-size:12px;line-height:12px;letter-spacing:0.252px;color:#ffffff;">10:28</div>
<div class="bx" style="left:75.4px;top:428.8px;width:76.6px;height:15.9px;background:#16977f;border-radius:1.5px"></div>
<div class="t" style="left:80.05px;top:431.32px;font-size:11.2px;line-height:11.2px;letter-spacing:0.013px;color:#ffffff;">WLFIUSDT.P</div>
<div class="t" style="left:82.48px;top:634.12px;font-size:11.2px;line-height:11.2px;letter-spacing:0.253px;color:#d3d3d3;">RSI (14, close)</div>
<div class="t" style="left:167.75px;top:634.12px;font-size:11.2px;line-height:11.2px;letter-spacing:0.271px;color:#7e57c2;">58.17</div>
<div class="t" style="left:203.94px;top:634.12px;font-size:11.2px;line-height:11.2px;letter-spacing:0.673px;color:#e2bf2a;">48.02</div>
<div class="t" style="left:973.08px;top:625.94px;font-size:12px;line-height:12px;letter-spacing:0.639px;color:#b0b0b0;">75.00</div>
<div class="t" style="left:973.10px;top:682.74px;font-size:12px;line-height:12px;letter-spacing:0.636px;color:#b0b0b0;">25.00</div>
<div class="bx" style="left:965px;top:642.3px;width:45.5px;height:16px;background:#7e57c2;border-radius:1.5px 1.5px 0 0"></div>
<div class="t" style="left:973.22px;top:644.54px;font-size:12px;line-height:12px;letter-spacing:0.439px;color:#ffffff;">58.17</div>
<div class="bx" style="left:965px;top:658.2px;width:45.5px;height:16.7px;background:#f5cd2c;border-radius:0 0 1.5px 1.5px"></div>
<div class="t" style="left:973.42px;top:660.74px;font-size:12px;line-height:12px;letter-spacing:0.587px;color:#151515;">48.02</div>
<div class="t" style="left:93.69px;top:714.64px;font-size:12px;line-height:12px;letter-spacing:0.878px;color:#b0b0b0;">30</div>
<div class="t" style="left:151.44px;top:714.64px;font-size:12px;line-height:12px;letter-spacing:0.995px;color:#b0b0b0;">31</div>
<div class="t" style="left:205.95px;top:714.64px;font-size:12px;line-height:12px;letter-spacing:0.315px;color:#d0d0d0;font-weight:bold;">Sep</div>
<div class="t" style="left:271.90px;top:714.64px;font-size:12px;line-height:12px;letter-spacing:0.000px;color:#b0b0b0;">2</div>
<div class="t" style="left:330.44px;top:714.64px;font-size:12px;line-height:12px;letter-spacing:0.000px;color:#b0b0b0;">3</div>
<div class="t" style="left:388.92px;top:714.64px;font-size:12px;line-height:12px;letter-spacing:0.000px;color:#b0b0b0;">4</div>
<div class="t" style="left:447.12px;top:714.64px;font-size:12px;line-height:12px;letter-spacing:0.000px;color:#b0b0b0;">5</div>
<div class="t" style="left:505.29px;top:714.64px;font-size:12px;line-height:12px;letter-spacing:0.000px;color:#b0b0b0;">6</div>
<div class="t" style="left:563.68px;top:714.64px;font-size:12px;line-height:12px;letter-spacing:0.000px;color:#b0b0b0;">7</div>
<div class="t" style="left:622.18px;top:714.64px;font-size:12px;line-height:12px;letter-spacing:0.000px;color:#b0b0b0;">8</div>
<div class="t" style="left:680.54px;top:714.64px;font-size:12px;line-height:12px;letter-spacing:0.000px;color:#b0b0b0;">9</div>
<div class="t" style="left:735.34px;top:714.64px;font-size:12px;line-height:12px;letter-spacing:1.335px;color:#b0b0b0;">10</div>
<div class="t" style="left:793.24px;top:714.64px;font-size:12px;line-height:12px;letter-spacing:1.452px;color:#b0b0b0;">11</div>
<div class="t" style="left:852.14px;top:714.64px;font-size:12px;line-height:12px;letter-spacing:1.470px;color:#b0b0b0;">12</div>
<div class="t" style="left:910.54px;top:714.64px;font-size:12px;line-height:12px;letter-spacing:1.394px;color:#b0b0b0;">13</div>
<div class="t" style="left:38.65px;top:714.69px;font-size:11px;line-height:11px;letter-spacing:0.000px;color:#707070;">Z</div>
<div class="t" style="left:985.98px;top:714.29px;font-size:11px;line-height:11px;letter-spacing:0.000px;color:#707070;">A</div>
<svg style="position:absolute;left:0;top:0" width="200" height="791" viewBox="0 0 200 791"><g fill="#e3e3e3">
<path d="M11.5 754 H22.8 V768.6 H17.1 V759.8 H11.5 Z"/><circle cx="27.9" cy="757.0" r="2.8"/>
<path d="M33.7 754 H40.0 L35.3 768.6 H28.0 Z"/></g></svg>
<div class="t" style="left:47.39px;top:752.12px;font-size:19px;line-height:19px;letter-spacing:0.232px;color:#e3e3e3;font-weight:bold;">TradingView</div>
</body></html>
